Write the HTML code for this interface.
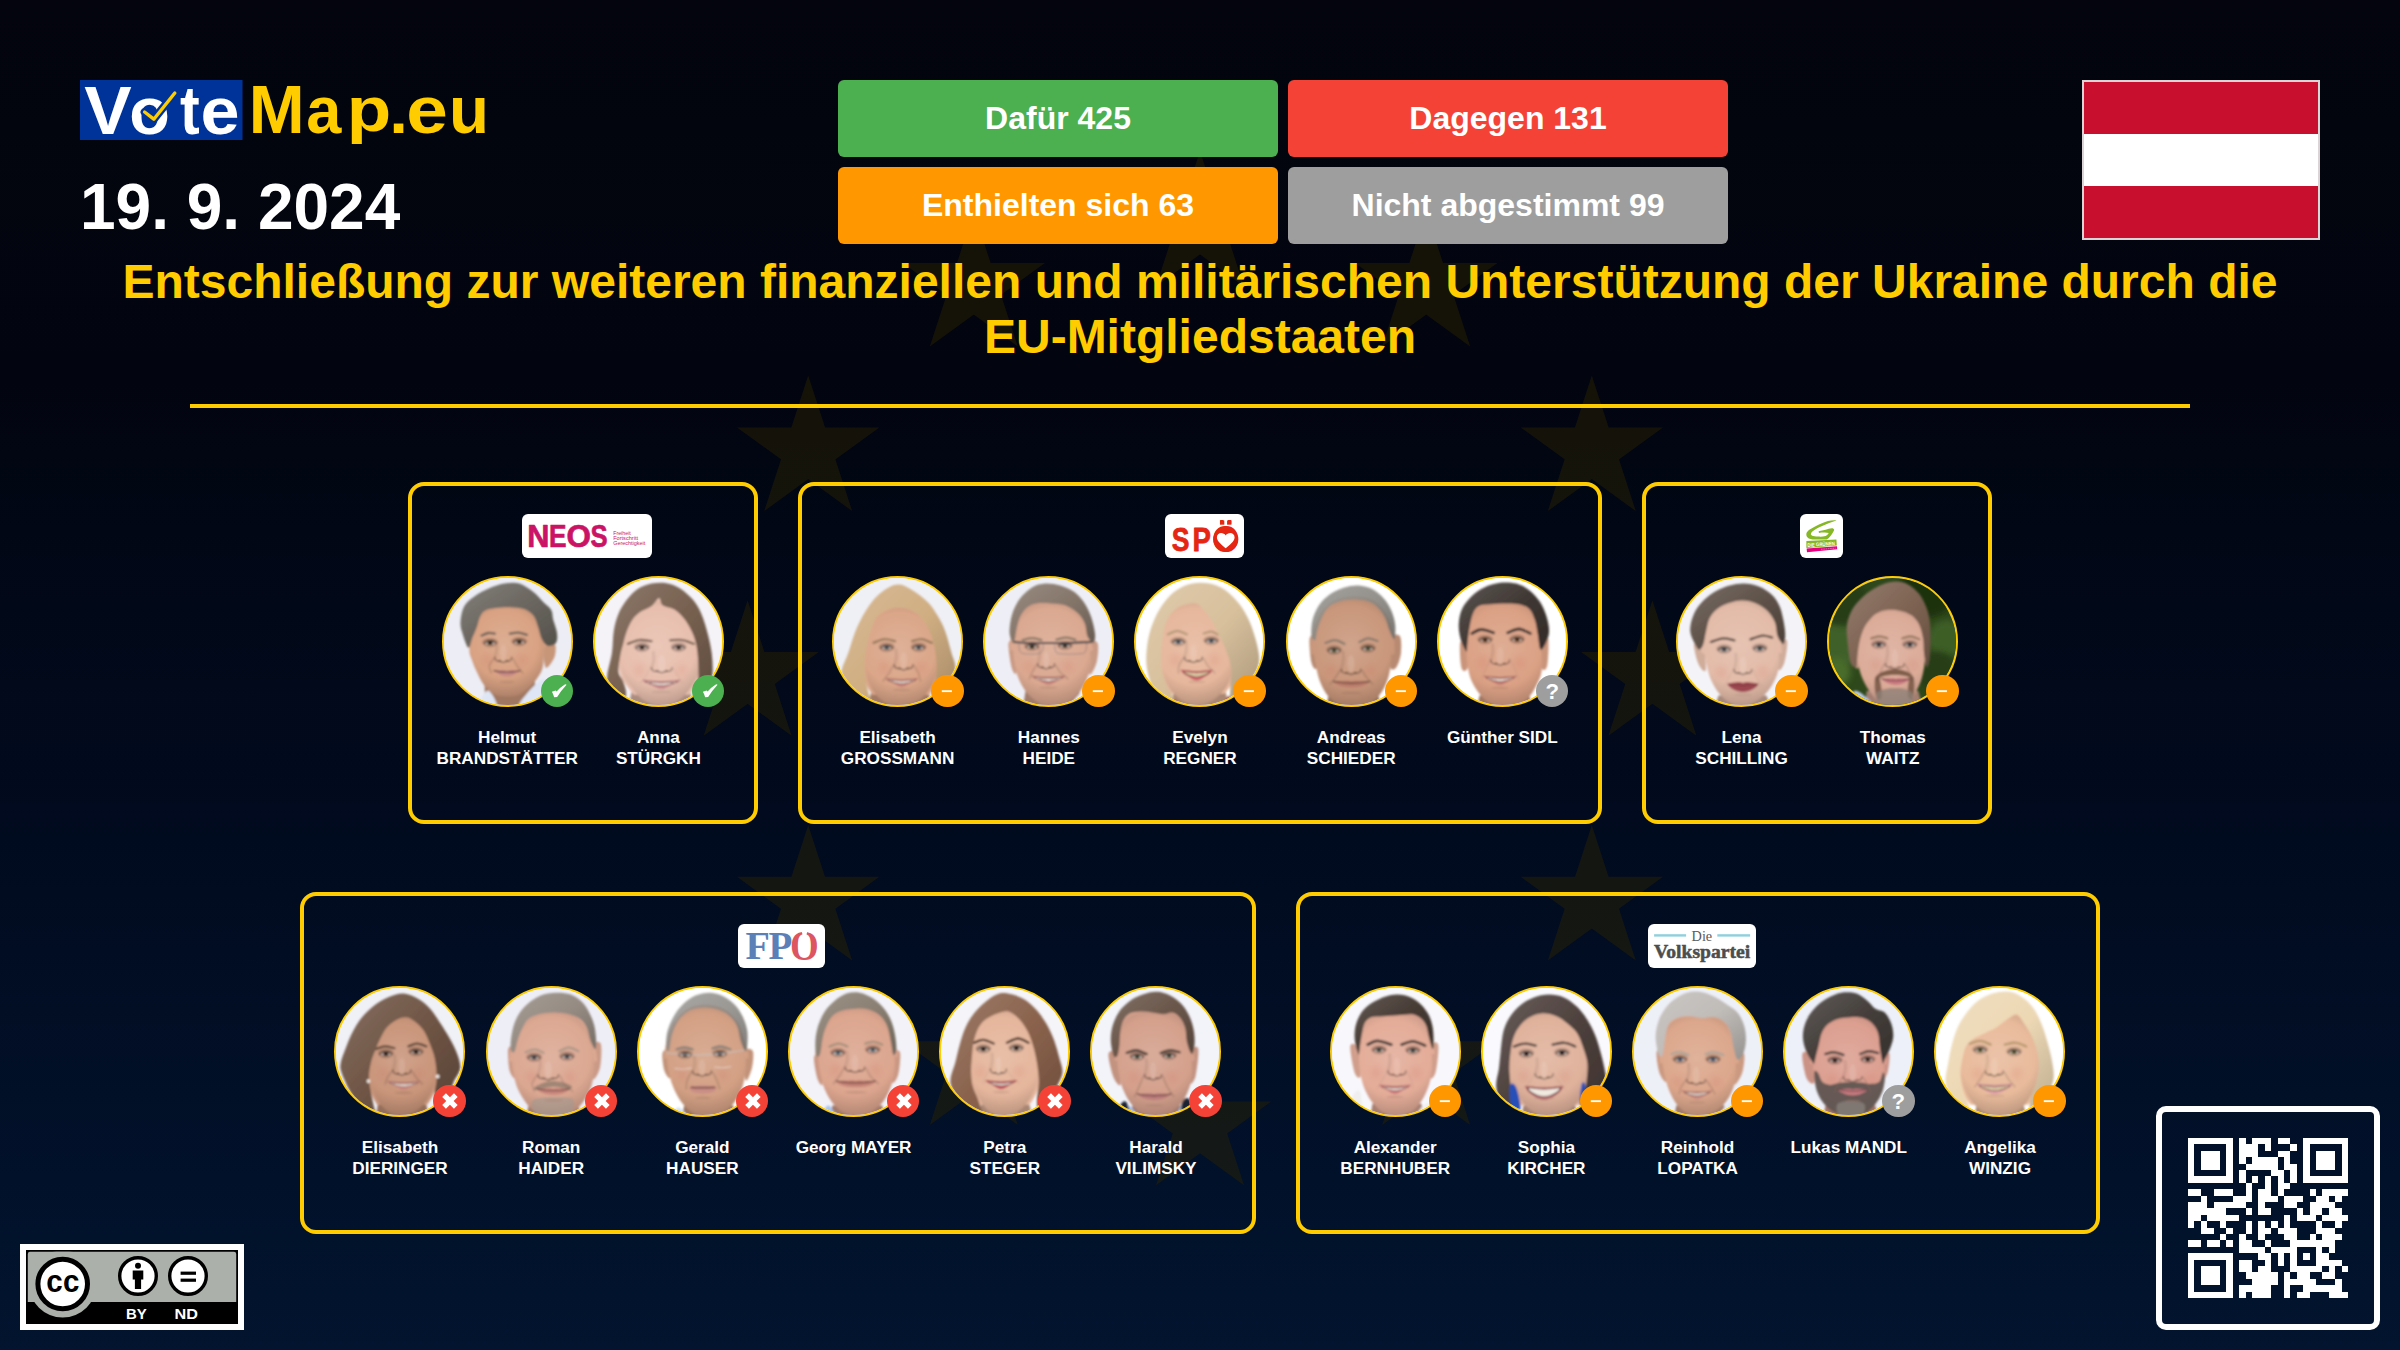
<!DOCTYPE html>
<html lang="de">
<head>
<meta charset="utf-8">
<title>VoteMap.eu – Entschließung zur weiteren finanziellen und militärischen Unterstützung der Ukraine</title>
<style>
*{box-sizing:border-box;margin:0;padding:0}
html,body{width:2400px;height:1350px;overflow:hidden}
body{position:relative;font-family:"Liberation Sans",Arial,sans-serif;color:#fff;
 background:linear-gradient(180deg,#03040d 0%,#020510 28%,#010b1f 62%,#02142f 100%);}
.abs{position:absolute}
#stars{position:absolute;left:0;top:0;width:2400px;height:1350px}
.date{position:absolute;left:80px;top:170px;font-size:64px;font-weight:700;line-height:74px;white-space:nowrap}
.btn{position:absolute;width:440px;height:77px;border-radius:6px;font-size:32px;font-weight:700;
 line-height:77px;text-align:center;color:#fff;white-space:nowrap}
.flag{position:absolute;left:2082px;top:80px;width:238px;height:160px;border:2px solid #dcd3d6;background:
 linear-gradient(180deg,#c8102e 0,#c8102e 33.4%,#fff 33.4%,#fff 66.6%,#c8102e 66.6%,#c8102e 100%)}
.title{position:absolute;left:0;top:254px;width:2400px;text-align:center;color:#ffcc00;font-weight:700;
 font-size:48px;line-height:55px}
.rule{position:absolute;left:190px;top:404px;width:2000px;height:4px;background:#ffcc00}
.card{position:absolute;height:342px;border:4px solid #ffcc00;border-radius:16px}
.plogo{position:absolute;top:27.7px;height:44.4px;background:#fff;border-radius:6px;overflow:hidden}
.plogo svg{display:block;margin-top:0.2px}
.mem{position:absolute;top:90px;width:151.2px;height:230px}
.photo{position:absolute;left:10.1px;top:-0.2px;width:131px;height:131px;border-radius:50%;border:2px solid #ffcc00;overflow:hidden;background:#eee}
.photo svg{display:block;width:127px;height:127px}
.badge{position:absolute;left:109px;top:98.8px;width:32.5px;height:32.5px;border-radius:50%}
.badge svg{display:block}
.name{position:absolute;left:-20px;width:191.2px;top:151px;text-align:center;font-weight:700;font-size:17.2px;line-height:21px;color:#fff;white-space:nowrap}
.ln{display:block}
.cc{position:absolute;left:20px;top:1244px;width:224px;height:86px;background:#fff;padding:6px}
.qr{position:absolute;left:2156px;top:1106px;width:224px;height:224px;border:6px solid #fff;border-radius:10px}
</style>
</head>
<body>
<svg id="stars" viewBox="0 0 2400 1350"><polygon points="1200.0,150.9 1244.0,286.4 1128.8,202.7 1271.2,202.7 1156.0,286.4" fill="#2c2300" fill-opacity="0.45" fill-rule="nonzero"/><polygon points="1426.2,211.1 1470.2,346.6 1355.0,262.9 1497.4,262.9 1382.2,346.6" fill="#2c2300" fill-opacity="0.45" fill-rule="nonzero"/><polygon points="1591.8,375.6 1635.8,511.1 1520.6,427.4 1663.0,427.4 1547.8,511.1" fill="#2c2300" fill-opacity="0.45" fill-rule="nonzero"/><polygon points="1652.4,600.3 1696.4,735.8 1581.2,652.1 1723.6,652.1 1608.4,735.8" fill="#2c2300" fill-opacity="0.45" fill-rule="nonzero"/><polygon points="1591.8,825.0 1635.8,960.5 1520.6,876.8 1663.0,876.8 1547.8,960.5" fill="#2c2300" fill-opacity="0.45" fill-rule="nonzero"/><polygon points="1426.2,989.5 1470.2,1125.0 1355.0,1041.2 1497.4,1041.2 1382.2,1125.0" fill="#2c2300" fill-opacity="0.45" fill-rule="nonzero"/><polygon points="1200.0,1049.7 1244.0,1185.2 1128.8,1101.5 1271.2,1101.5 1156.0,1185.2" fill="#2c2300" fill-opacity="0.45" fill-rule="nonzero"/><polygon points="973.8,989.5 1017.8,1125.0 902.6,1041.2 1045.0,1041.2 929.8,1125.0" fill="#2c2300" fill-opacity="0.45" fill-rule="nonzero"/><polygon points="808.2,825.0 852.2,960.5 737.0,876.8 879.4,876.8 764.2,960.5" fill="#2c2300" fill-opacity="0.45" fill-rule="nonzero"/><polygon points="747.6,600.3 791.6,735.8 676.4,652.1 818.8,652.1 703.6,735.8" fill="#2c2300" fill-opacity="0.45" fill-rule="nonzero"/><polygon points="808.2,375.6 852.2,511.1 737.0,427.4 879.4,427.4 764.2,511.1" fill="#2c2300" fill-opacity="0.45" fill-rule="nonzero"/><polygon points="973.8,211.1 1017.8,346.6 902.6,262.9 1045.0,262.9 929.8,346.6" fill="#2c2300" fill-opacity="0.45" fill-rule="nonzero"/></svg>
<svg class="abs" style="left:80px;top:80px" width="420" height="72" viewBox="0 0 420 72" role="img" aria-label="VoteMap.eu"><title>VoteMap.eu</title><rect x="0" y="0" width="162.5" height="60" fill="#003399"/><text transform="translate(4.37,53.80) scale(0.7111,0.6836)" font-family="Liberation Sans, Arial, sans-serif" font-weight="700" font-size="100" fill="#ffffff">V</text><text transform="translate(49.24,53.63) scale(0.6648,0.6740)" font-family="Liberation Sans, Arial, sans-serif" font-weight="700" font-size="100" fill="#ffffff">o</text><text transform="translate(100.06,53.78) scale(0.5919,0.6924)" font-family="Liberation Sans, Arial, sans-serif" font-weight="700" font-size="100" fill="#ffffff">t</text><text transform="translate(120.59,53.63) scale(0.7026,0.6740)" font-family="Liberation Sans, Arial, sans-serif" font-weight="700" font-size="100" fill="#ffffff">e</text><path d="M64.6 32 L73.8 39.2 L94.8 13" fill="none" stroke="#003399" stroke-width="8" stroke-linecap="round" stroke-linejoin="round"/><path d="M64.6 32 L73.8 39.2 L94.8 13" fill="none" stroke="#ffcc00" stroke-width="3.4" stroke-linecap="round" stroke-linejoin="round"/><text transform="translate(168.67,53.30) scale(0.6710,0.6764)" font-family="Liberation Sans, Arial, sans-serif" font-weight="700" font-size="100" fill="#ffcc00">M</text><text transform="translate(226.31,53.23) scale(0.6310,0.6703)" font-family="Liberation Sans, Arial, sans-serif" font-weight="700" font-size="100" fill="#ffcc00">a</text><text transform="translate(266.66,50.86) scale(0.7287,0.6234)" font-family="Liberation Sans, Arial, sans-serif" font-weight="700" font-size="100" fill="#ffcc00">p</text><text transform="translate(309.35,53.30) scale(0.6737,0.6200)" font-family="Liberation Sans, Arial, sans-serif" font-weight="700" font-size="100" fill="#ffcc00">.</text><text transform="translate(326.21,53.23) scale(0.7482,0.6703)" font-family="Liberation Sans, Arial, sans-serif" font-weight="700" font-size="100" fill="#ffcc00">e</text><text transform="translate(368.91,53.23) scale(0.6549,0.6698)" font-family="Liberation Sans, Arial, sans-serif" font-weight="700" font-size="100" fill="#ffcc00">u</text></svg>
<div class="date">19. 9. 2024</div>
<div class="btn" style="left:838px;top:80px;background:#4caf50">Dafür 425</div>
<div class="btn" style="left:1288px;top:80px;background:#f44336">Dagegen 131</div>
<div class="btn" style="left:838px;top:167px;background:#ff9800">Enthielten sich 63</div>
<div class="btn" style="left:1288px;top:167px;background:#9e9e9e">Nicht abgestimmt 99</div>
<div class="flag"></div>
<div class="title">Entschließung zur weiteren finanziellen und militärischen Unterstützung der Ukraine durch die<br>EU-Mitgliedstaaten</div>
<div class="rule"></div>
<div class="card" style="left:407.6px;top:482px;width:350.4px"><div class="plogo" style="left:110.2px;width:130px"><svg width="130" height="44" viewBox="0 0 130 44" role="img" aria-label="NEOS"><title>NEOS – Freiheit Fortschritt Gerechtigkeit</title><text transform="translate(5.33,32.90) scale(0.3064,0.3113)" font-family="Liberation Sans, Arial, sans-serif" font-weight="700" font-size="100" fill="#cb1366" stroke="#cb1366" stroke-width="2.2" stroke-linejoin="round">N</text><text transform="translate(27.03,32.90) scale(0.2625,0.3113)" font-family="Liberation Sans, Arial, sans-serif" font-weight="700" font-size="100" fill="#cb1366" stroke="#cb1366" stroke-width="2.2" stroke-linejoin="round">E</text><text transform="translate(44.45,32.89) scale(0.3137,0.3110)" font-family="Liberation Sans, Arial, sans-serif" font-weight="700" font-size="100" fill="#cb1366" stroke="#cb1366" stroke-width="2.2" stroke-linejoin="round">O</text><text transform="translate(68.43,32.89) scale(0.2561,0.3110)" font-family="Liberation Sans, Arial, sans-serif" font-weight="700" font-size="100" fill="#cb1366" stroke="#cb1366" stroke-width="2.2" stroke-linejoin="round">S</text><g font-family="Liberation Sans, Arial, sans-serif" font-size="5.3" fill="#cb1366"><text x="91.2" y="21.4" textLength="17.6" lengthAdjust="spacingAndGlyphs">Freiheit</text><text x="91.2" y="26.4" textLength="24.8" lengthAdjust="spacingAndGlyphs">Fortschritt</text><text x="91.2" y="31.4" textLength="32.1" lengthAdjust="spacingAndGlyphs">Gerechtigkeit</text></g></svg></div><div class="mem" style="left:20.0px"><div class="photo"><svg viewBox="0 0 127 127" width="127" height="127"><defs><filter id="f1b" x="-10%" y="-10%" width="120%" height="120%"><feGaussianBlur stdDeviation="0.85"/></filter><filter id="f1c" x="-30%" y="-30%" width="160%" height="160%"><feGaussianBlur stdDeviation="3"/></filter><radialGradient id="f1g" gradientUnits="userSpaceOnUse" cx="60.6" cy="65.4" r="56.0"><stop offset="0" stop-color="#ddae93"/><stop offset="0.6" stop-color="#d9a283"/><stop offset="1" stop-color="#a97e66"/></radialGradient><linearGradient id="f1h" x1="0" y1="0" x2="1" y2="1"><stop offset="0" stop-color="#827f79"/><stop offset="0.5" stop-color="#6b6760"/><stop offset="1" stop-color="#53504a"/></linearGradient></defs><rect width="127" height="127" fill="#ecedf5"/><g filter="url(#f1b)"><path d="M40.5 103.5 L90.3 101.6 L95.0 129.8 L41.4 129.8Z" fill="#a07760"/><path d="M31.0 129.8C28.5 128.1 35.3 122.3 37.6 119.5C40.0 116.7 42.6 111.2 45.2 112.9C47.7 114.6 55.0 127.0 52.7 129.8C50.3 132.6 33.6 131.5 31.0 129.8Z" fill="#dfe6f5"/><path d="M75.3 129.8C72.4 127.5 78.9 120.4 82.8 115.7C86.7 111.0 95.2 102.1 98.8 101.6C102.4 101.1 104.3 108.2 104.4 112.9C104.6 117.6 104.6 127.0 99.7 129.8C94.9 132.6 78.1 132.2 75.3 129.8Z" fill="#dfe6f5"/><path d="M99.7 67.7C100.5 63.7 104.3 64.9 106.3 64.9C108.3 64.9 110.9 65.2 111.5 67.7C112.1 70.2 111.7 76.4 110.1 80.0C108.4 83.6 103.3 91.4 101.6 89.4C99.9 87.3 98.9 71.8 99.7 67.7Z" fill="#c79578"/><clipPath id="f1k"><rect x="0" y="0" width="127" height="68.7"/></clipPath><path d="M65.9 28.2C71.3 28.7 79.8 28.5 84.7 32.0C89.5 35.4 92.5 43.0 95.0 48.9C97.5 54.9 99.1 61.1 99.7 67.7C100.3 74.3 99.7 83.3 98.8 88.4C97.8 93.6 96.1 95.5 94.1 98.8C92.0 102.1 89.7 105.2 86.5 108.2C83.4 111.2 79.5 114.9 75.3 116.7C71.0 118.4 65.5 118.7 61.1 118.5C56.8 118.4 52.5 117.7 48.9 115.7C45.3 113.7 42.2 109.9 39.5 106.3C36.8 102.7 34.8 98.0 32.9 94.1C31.0 90.2 29.5 86.7 28.2 82.8C27.0 78.9 24.9 76.2 25.4 70.6C25.9 64.9 28.7 55.0 31.0 48.9C33.4 42.8 36.1 37.2 39.5 33.9C43.0 30.6 47.4 30.1 51.7 29.2C56.1 28.2 60.4 27.8 65.9 28.2Z" fill="#d9a283" stroke="#d9a283" stroke-width="6" stroke-linejoin="round" clip-path="url(#f1k)"/><path d="M65.9 28.2C71.3 28.7 79.8 28.5 84.7 32.0C89.5 35.4 92.5 43.0 95.0 48.9C97.5 54.9 99.1 61.1 99.7 67.7C100.3 74.3 99.7 83.3 98.8 88.4C97.8 93.6 96.1 95.5 94.1 98.8C92.0 102.1 89.7 105.2 86.5 108.2C83.4 111.2 79.5 114.9 75.3 116.7C71.0 118.4 65.5 118.7 61.1 118.5C56.8 118.4 52.5 117.7 48.9 115.7C45.3 113.7 42.2 109.9 39.5 106.3C36.8 102.7 34.8 98.0 32.9 94.1C31.0 90.2 29.5 86.7 28.2 82.8C27.0 78.9 24.9 76.2 25.4 70.6C25.9 64.9 28.7 55.0 31.0 48.9C33.4 42.8 36.1 37.2 39.5 33.9C43.0 30.6 47.4 30.1 51.7 29.2C56.1 28.2 60.4 27.8 65.9 28.2Z" fill="url(#f1g)"/><ellipse cx="43.3" cy="81.8" rx="5.6" ry="6.6" fill="#d59076" fill-opacity="0.45" filter="url(#f1c)"/><ellipse cx="78.1" cy="81.8" rx="5.6" ry="6.6" fill="#d59076" fill-opacity="0.45" filter="url(#f1c)"/><ellipse cx="46.1" cy="64.2" rx="7.9" ry="4.3" fill="#97715b" fill-opacity="0.7"/><ellipse cx="46.1" cy="64.9" rx="4.7" ry="1.6" fill="#e9dcd6"/><ellipse cx="46.1" cy="64.9" rx="2.8" ry="2.1" fill="#4a382c"/><circle cx="46.1" cy="64.9" r="1.0" fill="#1c1412"/><path d="M40.5 65.3C41.0 64.9 42.7 63.3 44.0 62.9C45.4 62.6 47.2 62.7 48.4 63.0C49.7 63.4 51.2 64.8 51.7 65.1" fill="none" stroke="#3c2d24" stroke-width="1.4" stroke-linecap="round" stroke-opacity="0.85"/><path d="M40.9 67.7C41.8 68.0 44.4 69.1 46.1 69.1C47.8 69.0 50.4 67.8 51.3 67.5" fill="none" stroke="#8d6955" stroke-width="0.8" stroke-linecap="round" stroke-opacity="0.45"/><ellipse cx="75.3" cy="63.2" rx="7.9" ry="4.3" fill="#97715b" fill-opacity="0.7"/><ellipse cx="75.3" cy="64.0" rx="4.7" ry="1.6" fill="#e9dcd6"/><ellipse cx="75.3" cy="64.0" rx="2.8" ry="2.1" fill="#4a382c"/><circle cx="75.3" cy="64.0" r="1.0" fill="#1c1412"/><path d="M69.6 64.3C70.2 64.0 71.9 62.4 73.2 62.0C74.5 61.6 76.3 61.7 77.6 62.1C78.9 62.4 80.4 63.8 80.9 64.2" fill="none" stroke="#3c2d24" stroke-width="1.4" stroke-linecap="round" stroke-opacity="0.85"/><path d="M70.1 66.8C70.9 67.0 73.5 68.1 75.3 68.1C77.0 68.1 79.6 66.9 80.4 66.6" fill="none" stroke="#8d6955" stroke-width="0.8" stroke-linecap="round" stroke-opacity="0.45"/><path d="M37.6 57.6C38.7 57.1 42.0 55.3 44.2 55.0C46.4 54.7 49.7 55.6 50.8 55.7" fill="none" stroke="#6e6258" stroke-width="2.3" stroke-linecap="round"/><path d="M65.9 55.7C67.3 55.5 71.5 54.4 74.3 54.6C77.1 54.8 81.4 56.5 82.8 56.9" fill="none" stroke="#6e6258" stroke-width="2.3" stroke-linecap="round"/><ellipse cx="59.3" cy="75.3" rx="3.0" ry="8.9" fill="#e4bda8" fill-opacity="0.5"/><path d="M52.5 64.0C52.5 65.2 52.9 68.8 52.7 71.5C52.4 74.2 51.1 78.8 50.8 80.2" fill="none" stroke="#97715b" stroke-width="3.2" stroke-linecap="round" stroke-opacity="0.22"/><path d="M50.8 79.3C51.0 79.8 51.2 81.8 52.1 82.5C53.0 83.2 55.1 82.9 56.3 83.3C57.5 83.6 58.3 84.4 59.3 84.4C60.3 84.4 61.0 83.6 62.2 83.3C63.4 82.9 65.5 83.2 66.5 82.5C67.4 81.8 67.5 79.8 67.7 79.3" fill="none" stroke="#775948" stroke-width="1.4" stroke-linecap="round" stroke-opacity="0.8"/><ellipse cx="55.5" cy="82.9" rx="1.6" ry="0.8" fill="#564034" fill-opacity="0.8"/><ellipse cx="63.1" cy="82.9" rx="1.6" ry="0.8" fill="#564034" fill-opacity="0.8"/><path d="M49.5 80.7C48.8 81.9 45.7 85.7 45.3 88.1C44.9 90.5 46.9 93.9 47.2 95.0" fill="none" stroke="#866451" stroke-width="1.9" stroke-linecap="round" stroke-opacity="0.30"/><path d="M69.0 80.7C69.7 81.9 71.6 85.7 73.2 88.1C74.9 90.5 77.9 93.9 78.8 95.0" fill="none" stroke="#866451" stroke-width="1.9" stroke-linecap="round" stroke-opacity="0.30"/><path d="M50.8 93.1C51.3 92.3 57.2 91.9 59.3 91.8C61.3 91.7 61.8 92.6 63.0 92.6C64.3 92.6 64.8 91.7 66.8 91.8C68.8 91.9 74.8 92.3 75.3 93.1C75.7 94.0 71.7 96.0 69.6 96.9C67.6 97.8 65.2 98.6 63.0 98.6C60.8 98.6 58.5 97.8 56.4 96.9C54.4 96.0 50.3 94.0 50.8 93.1Z" fill="#c48682" fill-opacity="0.85"/><path d="M49.9 92.6C51.0 92.8 54.7 93.6 56.9 93.9C59.1 94.2 61.0 94.3 63.0 94.3C65.1 94.3 66.9 94.2 69.1 93.9C71.3 93.6 75.0 92.8 76.2 92.6" fill="none" stroke="#624341" stroke-width="1.1" stroke-linecap="round"/><ellipse cx="63.0" cy="104.0" rx="7.3" ry="1.3" fill="#a27962" fill-opacity="0.35"/><path d="M16.5 44.2C16.7 39.5 17.8 32.6 20.2 28.2C22.7 23.8 26.9 20.9 31.0 17.9C35.2 14.9 40.3 12.4 45.2 10.3C50.0 8.3 55.2 6.4 60.2 5.6C65.2 4.9 70.4 4.2 75.3 5.6C80.1 7.1 85.3 11.0 89.4 14.1C93.4 17.2 96.7 21.5 99.7 24.5C102.7 27.4 105.7 29.2 107.2 32.0C108.8 34.8 108.2 37.6 109.1 41.4C110.1 45.2 112.4 50.6 112.9 54.6C113.4 58.5 113.5 62.7 111.9 64.9C110.4 67.1 105.8 68.4 103.5 67.7C101.1 67.1 99.4 64.3 97.8 61.1C96.3 58.0 95.5 52.8 94.1 48.9C92.7 45.0 91.7 40.6 89.4 37.6C87.0 34.7 83.9 32.5 80.0 31.0C76.0 29.6 70.6 29.3 65.9 29.2C61.1 29.0 56.0 29.5 51.7 30.1C47.5 30.7 43.1 31.4 40.5 32.9C37.8 34.5 37.0 36.8 35.7 39.5C34.5 42.2 34.2 45.5 32.9 48.9C31.7 52.4 29.6 56.8 28.2 60.2C26.8 63.7 26.0 70.2 24.5 69.6C22.9 69.0 20.1 60.7 18.8 56.4C17.5 52.2 16.2 48.9 16.5 44.2Z" fill="url(#f1h)" fill-opacity="1.00"/></g></svg></div><div class="badge" style="background:#4caf50"><svg width="32.5" height="32.5" viewBox="0 0 32.5 32.5"><path d="M10.9 16.7 L14.65 15.45 L15.6 16.6 Q19.4 12.1 24.1 9.2 L25.6 9.85 Q20.4 15.4 16.15 21.95 L13.15 22.25 Q12.4 19.2 10.9 16.7 Z" fill="#fff"/></svg></div><div class="name">Helmut <span class="ln">BRANDSTÄTTER</span></div></div><div class="mem" style="left:171.2px"><div class="photo"><svg viewBox="0 0 127 127" width="127" height="127"><defs><filter id="f2b" x="-10%" y="-10%" width="120%" height="120%"><feGaussianBlur stdDeviation="0.85"/></filter><filter id="f2c" x="-30%" y="-30%" width="160%" height="160%"><feGaussianBlur stdDeviation="3"/></filter><radialGradient id="f2g" gradientUnits="userSpaceOnUse" cx="62.4" cy="67.7" r="64.7"><stop offset="0" stop-color="#eac7b8"/><stop offset="0.6" stop-color="#e8bfae"/><stop offset="1" stop-color="#b49487"/></radialGradient><linearGradient id="f2h" x1="0" y1="0" x2="1" y2="1"><stop offset="0" stop-color="#8c796b"/><stop offset="0.5" stop-color="#77604f"/><stop offset="1" stop-color="#5c4a3d"/></linearGradient></defs><rect width="127" height="127" fill="#f5f3f8"/><g filter="url(#f2b)"><path d="M37.6 108.2 L94.1 108.2 L98.8 131.7 L32.9 131.7Z" fill="#ab8d80"/><clipPath id="f2k"><rect x="0" y="0" width="127" height="116.7"/></clipPath><path d="M64.0 23.5C68.5 23.8 75.6 27.9 80.0 31.0C84.4 34.2 87.2 37.8 90.3 42.3C93.4 46.9 96.6 52.8 98.8 58.3C101.0 63.8 102.7 69.3 103.5 75.3C104.3 81.2 104.6 88.6 103.5 94.1C102.4 99.6 100.0 103.6 96.9 108.2C93.8 112.7 89.5 118.1 84.7 121.4C79.8 124.6 73.7 127.8 67.7 127.9C61.8 128.1 54.2 125.6 48.9 122.3C43.6 119.0 39.2 112.6 35.7 108.2C32.3 103.8 29.9 101.4 28.2 96.0C26.5 90.5 24.8 82.5 25.4 75.3C26.0 68.0 29.5 59.0 32.0 52.7C34.5 46.4 37.0 41.5 40.5 37.6C43.9 33.7 48.8 31.5 52.7 29.2C56.6 26.8 59.4 23.2 64.0 23.5Z" fill="#e8bfae" stroke="#e8bfae" stroke-width="6" stroke-linejoin="round" clip-path="url(#f2k)"/><path d="M64.0 23.5C68.5 23.8 75.6 27.9 80.0 31.0C84.4 34.2 87.2 37.8 90.3 42.3C93.4 46.9 96.6 52.8 98.8 58.3C101.0 63.8 102.7 69.3 103.5 75.3C104.3 81.2 104.6 88.6 103.5 94.1C102.4 99.6 100.0 103.6 96.9 108.2C93.8 112.7 89.5 118.1 84.7 121.4C79.8 124.6 73.7 127.8 67.7 127.9C61.8 128.1 54.2 125.6 48.9 122.3C43.6 119.0 39.2 112.6 35.7 108.2C32.3 103.8 29.9 101.4 28.2 96.0C26.5 90.5 24.8 82.5 25.4 75.3C26.0 68.0 29.5 59.0 32.0 52.7C34.5 46.4 37.0 41.5 40.5 37.6C43.9 33.7 48.8 31.5 52.7 29.2C56.6 26.8 59.4 23.2 64.0 23.5Z" fill="url(#f2g)"/><ellipse cx="44.2" cy="92.2" rx="5.6" ry="6.6" fill="#dfa392" fill-opacity="0.45" filter="url(#f2c)"/><ellipse cx="86.5" cy="92.2" rx="5.6" ry="6.6" fill="#dfa392" fill-opacity="0.45" filter="url(#f2c)"/><ellipse cx="47.0" cy="68.9" rx="7.9" ry="4.3" fill="#a28579" fill-opacity="0.7"/><ellipse cx="47.0" cy="69.6" rx="4.7" ry="1.6" fill="#e9dcd6"/><ellipse cx="47.0" cy="69.6" rx="2.8" ry="2.1" fill="#4a3a30"/><circle cx="47.0" cy="69.6" r="1.0" fill="#1c1412"/><path d="M41.4 70.0C42.0 69.6 43.6 68.0 45.0 67.6C46.3 67.3 48.1 67.4 49.4 67.7C50.7 68.1 52.1 69.5 52.7 69.8" fill="none" stroke="#403530" stroke-width="1.4" stroke-linecap="round" stroke-opacity="0.85"/><path d="M41.9 72.4C42.7 72.7 45.3 73.8 47.0 73.8C48.8 73.7 51.3 72.5 52.2 72.2" fill="none" stroke="#967c71" stroke-width="0.8" stroke-linecap="round" stroke-opacity="0.45"/><ellipse cx="83.7" cy="68.9" rx="7.9" ry="4.3" fill="#a28579" fill-opacity="0.7"/><ellipse cx="83.7" cy="69.6" rx="4.7" ry="1.6" fill="#e9dcd6"/><ellipse cx="83.7" cy="69.6" rx="2.8" ry="2.1" fill="#4a3a30"/><circle cx="83.7" cy="69.6" r="1.0" fill="#1c1412"/><path d="M78.1 70.0C78.7 69.6 80.3 68.0 81.7 67.6C83.0 67.3 84.8 67.4 86.1 67.7C87.4 68.1 88.8 69.5 89.4 69.8" fill="none" stroke="#403530" stroke-width="1.4" stroke-linecap="round" stroke-opacity="0.85"/><path d="M78.6 72.4C79.4 72.7 82.0 73.8 83.7 73.8C85.5 73.7 88.0 72.5 88.9 72.2" fill="none" stroke="#967c71" stroke-width="0.8" stroke-linecap="round" stroke-opacity="0.45"/><path d="M32.9 65.9C34.8 65.2 40.3 62.5 44.2 62.1C48.1 61.6 54.4 63.0 56.4 63.2" fill="none" stroke="#7a6252" stroke-width="2.3" stroke-linecap="round"/><path d="M75.3 62.3C77.3 62.2 83.6 61.5 87.5 62.1C91.4 62.7 96.9 65.2 98.8 65.9" fill="none" stroke="#7a6252" stroke-width="2.3" stroke-linecap="round"/><ellipse cx="66.8" cy="85.6" rx="3.7" ry="8.9" fill="#eed2c6" fill-opacity="0.5"/><path d="M58.5 74.3C58.5 75.6 59.1 79.1 58.7 81.8C58.4 84.5 56.8 89.1 56.4 90.5" fill="none" stroke="#a28579" stroke-width="3.2" stroke-linecap="round" stroke-opacity="0.22"/><path d="M56.4 89.6C56.7 90.1 56.9 92.1 58.0 92.8C59.1 93.4 61.7 93.2 63.2 93.5C64.6 93.8 65.6 94.6 66.8 94.6C68.0 94.6 68.9 93.8 70.4 93.5C71.9 93.2 74.5 93.4 75.6 92.8C76.7 92.1 76.9 90.1 77.1 89.6" fill="none" stroke="#7f695f" stroke-width="1.4" stroke-linecap="round" stroke-opacity="0.8"/><ellipse cx="62.1" cy="93.1" rx="1.6" ry="0.8" fill="#5c4c45" fill-opacity="0.8"/><ellipse cx="71.4" cy="93.1" rx="1.6" ry="0.8" fill="#5c4c45" fill-opacity="0.8"/><path d="M54.9 91.0C54.2 92.2 52.3 95.8 50.7 98.2C49.1 100.5 46.2 103.8 45.3 104.9" fill="none" stroke="#8f766b" stroke-width="1.9" stroke-linecap="round" stroke-opacity="0.07"/><path d="M78.7 91.0C79.4 92.2 81.5 95.8 82.9 98.2C84.4 100.5 86.6 103.8 87.3 104.9" fill="none" stroke="#8f766b" stroke-width="1.9" stroke-linecap="round" stroke-opacity="0.07"/><path d="M48.9 103.0C50.8 102.7 60.5 104.3 66.3 104.3C72.1 104.3 81.9 102.7 83.7 103.0C85.6 103.4 80.4 105.1 77.5 106.4C74.6 107.7 70.0 110.8 66.3 110.8C62.6 110.8 58.1 107.7 55.2 106.4C52.3 105.1 47.1 103.4 48.9 103.0Z" fill="#c9888a"/><path d="M50.0 103.8C51.8 103.6 60.9 104.9 66.3 104.9C71.7 104.9 80.9 103.6 82.6 103.8C84.3 104.0 79.5 105.4 76.8 106.0C74.1 106.7 69.8 107.7 66.3 107.7C62.8 107.7 58.6 106.7 55.9 106.0C53.2 105.4 48.3 104.0 50.0 103.8Z" fill="#5a2c2a"/><path d="M51.4 104.1C52.8 104.0 61.3 105.3 66.3 105.3C71.3 105.3 79.8 104.0 81.3 104.1C82.7 104.2 77.5 105.4 75.0 105.9C72.5 106.4 69.2 107.2 66.3 107.2C63.4 107.2 60.1 106.4 57.6 105.9C55.1 105.4 49.9 104.2 51.4 104.1Z" fill="#efe8de"/><path d="M48.2 102.4C49.7 102.6 54.6 103.2 57.6 103.4C60.6 103.6 63.4 103.8 66.3 103.8C69.2 103.8 72.0 103.6 75.0 103.4C78.1 103.2 82.9 102.6 84.5 102.4" fill="none" stroke="#b07779" stroke-width="1.4" stroke-linecap="round"/><ellipse cx="66.3" cy="113.8" rx="10.4" ry="1.3" fill="#ae8f82" fill-opacity="0.35"/><path d="M23.5 131.7C20.7 130.9 16.0 118.5 14.1 112.9C12.2 107.2 11.8 104.1 12.2 97.8C12.7 91.6 15.8 82.8 16.9 75.3C18.0 67.7 17.7 59.3 18.8 52.7C19.9 46.1 21.3 40.9 23.5 35.7C25.7 30.6 28.8 25.7 32.0 21.6C35.1 17.6 38.3 14.0 42.3 11.3C46.4 8.6 51.6 6.7 56.4 5.6C61.3 4.6 66.8 4.4 71.5 5.2C76.2 6.0 80.3 7.6 84.7 10.3C89.1 13.1 94.2 17.4 97.8 21.6C101.4 25.9 103.8 29.9 106.3 35.7C108.8 41.5 111.2 49.9 112.9 56.4C114.6 63.0 115.9 69.0 116.7 75.3C117.4 81.5 117.9 87.8 117.6 94.1C117.3 100.3 116.8 106.6 114.8 112.9C112.7 119.2 107.4 131.7 105.4 131.7C103.3 131.7 102.9 118.5 102.5 112.9C102.2 107.2 103.5 104.1 103.5 97.8C103.5 91.6 103.3 81.8 102.5 75.3C101.8 68.7 100.8 63.8 98.8 58.3C96.7 52.8 93.4 46.7 90.3 42.3C87.2 37.9 83.7 34.5 80.0 32.0C76.2 29.5 70.4 29.2 67.7 27.3C65.1 25.3 65.9 20.1 64.0 20.2C62.1 20.4 59.6 25.9 56.4 28.2C53.3 30.5 48.3 31.7 45.2 33.9C42.0 36.1 39.8 38.3 37.6 41.4C35.4 44.5 33.6 48.6 32.0 52.7C30.4 56.8 29.3 61.8 28.2 65.9C27.1 69.9 26.2 72.4 25.4 77.1C24.6 81.8 23.0 89.7 23.5 94.1C24.0 98.5 27.0 99.6 28.2 103.5C29.5 107.4 31.8 112.9 31.0 117.6C30.3 122.3 26.3 132.5 23.5 131.7Z" fill="url(#f2h)" fill-opacity="1.00"/></g></svg></div><div class="badge" style="background:#4caf50"><svg width="32.5" height="32.5" viewBox="0 0 32.5 32.5"><path d="M10.9 16.7 L14.65 15.45 L15.6 16.6 Q19.4 12.1 24.1 9.2 L25.6 9.85 Q20.4 15.4 16.15 21.95 L13.15 22.25 Q12.4 19.2 10.9 16.7 Z" fill="#fff"/></svg></div><div class="name">Anna <span class="ln">STÜRGKH</span></div></div></div>
<div class="card" style="left:798.0px;top:482px;width:804.0px"><div class="plogo" style="left:362.5px;width:79px"><svg width="79" height="44" viewBox="0 0 79 44" role="img" aria-label="SPÖ"><title>SPÖ</title><text transform="translate(6.75,36.67) scale(0.2653,0.3279)" font-family="Liberation Sans, Arial, sans-serif" font-weight="700" font-size="100" fill="#e42613" stroke="#e42613" stroke-width="2.4" stroke-linejoin="round">S</text><text transform="translate(27.44,36.80) scale(0.2761,0.3244)" font-family="Liberation Sans, Arial, sans-serif" font-weight="700" font-size="100" fill="#e42613" stroke="#e42613" stroke-width="2.4" stroke-linejoin="round">P</text><text transform="translate(47.21,37.83) scale(0.3482,0.3672)" font-family="Liberation Sans, Arial, sans-serif" font-weight="700" font-size="100" fill="#e42613">Ö</text><circle cx="60.7" cy="25.2" r="12.6" fill="#e42613"/><rect x="55" y="6.6" width="4.3" height="4.1" fill="#e42613"/><rect x="62.1" y="6.6" width="4.3" height="4.1" fill="#e42613"/><path d="M60.7 34.2 C57.6 31.2 51.9 27.6 51.9 23.4 C51.9 20.8 53.9 19.1 56.1 19.1 C58 19.1 59.6 20 60.7 21.4 C61.8 20 63.4 19.1 65.3 19.1 C67.5 19.1 69.6 20.8 69.6 23.4 C69.6 27.6 63.8 31.2 60.7 34.2 Z" fill="#fff"/></svg></div><div class="mem" style="left:20.0px"><div class="photo"><svg viewBox="0 0 127 127" width="127" height="127"><defs><filter id="f3b" x="-10%" y="-10%" width="120%" height="120%"><feGaussianBlur stdDeviation="0.85"/></filter><filter id="f3c" x="-30%" y="-30%" width="160%" height="160%"><feGaussianBlur stdDeviation="3"/></filter><radialGradient id="f3g" gradientUnits="userSpaceOnUse" cx="65.0" cy="71.0" r="60.7"><stop offset="0" stop-color="#dfb198"/><stop offset="0.6" stop-color="#dba689"/><stop offset="1" stop-color="#aa816a"/></radialGradient><linearGradient id="f3h" x1="0" y1="0" x2="1" y2="1"><stop offset="0" stop-color="#d7ba96"/><stop offset="0.5" stop-color="#d0ae82"/><stop offset="1" stop-color="#a28765"/></linearGradient></defs><rect width="127" height="127" fill="#eff0f6"/><g filter="url(#f3b)"><path d="M37.6 112.9 L94.1 112.9 L98.8 131.7 L32.9 131.7Z" fill="#a27a65"/><clipPath id="f3k"><rect x="0" y="0" width="127" height="116.7"/></clipPath><path d="M60.2 30.1C65.1 28.7 69.3 29.8 73.4 31.0C77.5 32.3 81.2 34.3 84.7 37.6C88.1 40.9 91.6 46.1 94.1 50.8C96.6 55.5 98.3 60.2 99.7 65.9C101.1 71.5 102.4 78.7 102.5 84.7C102.7 90.6 102.4 96.4 100.7 101.6C98.9 106.8 95.6 111.8 92.2 115.7C88.7 119.6 84.4 123.1 80.0 125.1C75.6 127.2 70.6 127.9 65.9 127.9C61.1 127.9 56.0 127.3 51.7 125.1C47.5 122.9 43.4 118.7 40.5 114.8C37.5 110.9 35.4 106.6 33.9 101.6C32.4 96.6 31.7 90.6 31.5 84.7C31.4 78.7 31.9 71.5 32.9 65.9C33.9 60.2 35.7 55.2 37.6 50.8C39.5 46.4 40.5 43.0 44.2 39.5C48.0 36.1 55.3 31.5 60.2 30.1Z" fill="#dba689" stroke="#dba689" stroke-width="6" stroke-linejoin="round" clip-path="url(#f3k)"/><path d="M60.2 30.1C65.1 28.7 69.3 29.8 73.4 31.0C77.5 32.3 81.2 34.3 84.7 37.6C88.1 40.9 91.6 46.1 94.1 50.8C96.6 55.5 98.3 60.2 99.7 65.9C101.1 71.5 102.4 78.7 102.5 84.7C102.7 90.6 102.4 96.4 100.7 101.6C98.9 106.8 95.6 111.8 92.2 115.7C88.7 119.6 84.4 123.1 80.0 125.1C75.6 127.2 70.6 127.9 65.9 127.9C61.1 127.9 56.0 127.3 51.7 125.1C47.5 122.9 43.4 118.7 40.5 114.8C37.5 110.9 35.4 106.6 33.9 101.6C32.4 96.6 31.7 90.6 31.5 84.7C31.4 78.7 31.9 71.5 32.9 65.9C33.9 60.2 35.7 55.2 37.6 50.8C39.5 46.4 40.5 43.0 44.2 39.5C48.0 36.1 55.3 31.5 60.2 30.1Z" fill="url(#f3g)"/><ellipse cx="49.9" cy="89.4" rx="5.6" ry="6.6" fill="#d7937a" fill-opacity="0.45" filter="url(#f3c)"/><ellipse cx="87.5" cy="89.4" rx="5.6" ry="6.6" fill="#d7937a" fill-opacity="0.45" filter="url(#f3c)"/><ellipse cx="52.7" cy="68.9" rx="7.9" ry="4.3" fill="#99745f" fill-opacity="0.7"/><ellipse cx="52.7" cy="69.6" rx="4.7" ry="1.6" fill="#e9dcd6"/><ellipse cx="52.7" cy="69.6" rx="2.8" ry="2.1" fill="#5a6a72"/><circle cx="52.7" cy="69.6" r="1.0" fill="#1c1412"/><path d="M47.0 70.0C47.6 69.6 49.3 68.0 50.6 67.6C51.9 67.3 53.7 67.4 55.0 67.7C56.3 68.1 57.8 69.5 58.3 69.8" fill="none" stroke="#3d2e26" stroke-width="1.4" stroke-linecap="round" stroke-opacity="0.85"/><path d="M47.5 72.4C48.4 72.7 51.0 73.8 52.7 73.8C54.4 73.7 57.0 72.5 57.9 72.2" fill="none" stroke="#8e6b59" stroke-width="0.8" stroke-linecap="round" stroke-opacity="0.45"/><ellipse cx="84.7" cy="68.9" rx="7.9" ry="4.3" fill="#99745f" fill-opacity="0.7"/><ellipse cx="84.7" cy="69.6" rx="4.7" ry="1.6" fill="#e9dcd6"/><ellipse cx="84.7" cy="69.6" rx="2.8" ry="2.1" fill="#5a6a72"/><circle cx="84.7" cy="69.6" r="1.0" fill="#1c1412"/><path d="M79.0 70.0C79.6 69.6 81.3 68.0 82.6 67.6C83.9 67.3 85.7 67.4 87.0 67.7C88.3 68.1 89.8 69.5 90.3 69.8" fill="none" stroke="#3d2e26" stroke-width="1.4" stroke-linecap="round" stroke-opacity="0.85"/><path d="M79.5 72.4C80.4 72.7 82.9 73.8 84.7 73.8C86.4 73.7 89.0 72.5 89.8 72.2" fill="none" stroke="#8e6b59" stroke-width="0.8" stroke-linecap="round" stroke-opacity="0.45"/><path d="M39.5 64.9C41.4 64.3 47.2 61.4 50.8 61.1C54.4 60.9 59.4 62.9 61.1 63.2" fill="none" stroke="#9a7a5c" stroke-width="2.3" stroke-linecap="round"/><path d="M78.1 63.2C79.6 62.9 84.2 60.9 87.5 61.1C90.8 61.4 96.1 64.3 97.8 64.9" fill="none" stroke="#9a7a5c" stroke-width="2.3" stroke-linecap="round"/><ellipse cx="69.6" cy="82.8" rx="3.4" ry="8.9" fill="#e5c0ac" fill-opacity="0.5"/><path d="M62.1 71.5C62.1 72.8 62.6 76.3 62.3 79.0C62.0 81.7 60.6 86.2 60.2 87.7" fill="none" stroke="#99745f" stroke-width="3.2" stroke-linecap="round" stroke-opacity="0.22"/><path d="M60.2 86.7C60.4 87.3 60.6 89.3 61.6 89.9C62.6 90.6 65.0 90.4 66.3 90.7C67.7 91.0 68.5 91.8 69.6 91.8C70.7 91.8 71.6 91.0 72.9 90.7C74.2 90.4 76.6 90.6 77.6 89.9C78.6 89.3 78.8 87.3 79.0 86.7" fill="none" stroke="#785b4b" stroke-width="1.4" stroke-linecap="round" stroke-opacity="0.8"/><ellipse cx="65.4" cy="90.3" rx="1.6" ry="0.8" fill="#574236" fill-opacity="0.8"/><ellipse cx="73.8" cy="90.3" rx="1.6" ry="0.8" fill="#574236" fill-opacity="0.8"/><path d="M58.8 88.1C58.1 89.4 56.2 93.3 54.6 95.8C52.9 98.3 50.0 101.8 49.1 103.0" fill="none" stroke="#876654" stroke-width="1.9" stroke-linecap="round" stroke-opacity="0.30"/><path d="M80.4 88.1C81.1 89.4 83.7 93.3 84.7 95.8C85.7 98.3 86.1 101.8 86.4 103.0" fill="none" stroke="#876654" stroke-width="1.9" stroke-linecap="round" stroke-opacity="0.30"/><path d="M52.7 101.1C54.3 100.8 62.7 102.4 67.7 102.4C72.8 102.4 81.2 100.8 82.8 101.1C84.4 101.5 79.9 103.2 77.4 104.5C74.9 105.8 70.9 108.9 67.7 108.9C64.5 108.9 60.6 105.8 58.1 104.5C55.6 103.2 51.1 101.5 52.7 101.1Z" fill="#c98378"/><path d="M53.8 101.9C55.3 101.7 63.1 103.0 67.7 103.0C72.4 103.0 80.2 101.7 81.7 101.9C83.2 102.1 79.1 103.5 76.8 104.2C74.4 104.8 70.7 105.8 67.7 105.8C64.7 105.8 61.0 104.8 58.7 104.2C56.4 103.5 52.3 102.1 53.8 101.9Z" fill="#5a2c2a"/><path d="M55.1 102.3C56.4 102.2 63.5 103.4 67.7 103.4C71.9 103.4 79.1 102.2 80.3 102.3C81.6 102.4 77.4 103.5 75.3 104.0C73.2 104.5 70.2 105.3 67.7 105.3C65.2 105.3 62.3 104.5 60.2 104.0C58.1 103.5 53.9 102.4 55.1 102.3Z" fill="#efe8de"/><path d="M51.9 100.6C53.3 100.7 57.6 101.3 60.2 101.5C62.8 101.7 65.2 101.9 67.7 101.9C70.2 101.9 72.6 101.7 75.3 101.5C77.9 101.3 82.2 100.7 83.5 100.6" fill="none" stroke="#b07369" stroke-width="1.4" stroke-linecap="round"/><ellipse cx="67.7" cy="111.9" rx="9.0" ry="1.3" fill="#a47c66" fill-opacity="0.35"/><path d="M23.5 131.7C18.8 128.6 14.0 119.2 11.3 112.9C8.6 106.6 7.1 100.3 7.5 94.1C8.0 87.8 11.8 82.2 14.1 75.3C16.5 68.4 18.8 59.6 21.6 52.7C24.5 45.8 27.6 39.5 31.0 33.9C34.5 28.2 38.4 22.9 42.3 18.8C46.3 14.7 50.6 11.4 54.6 9.4C58.5 7.4 61.6 6.0 65.9 6.6C70.1 7.2 75.3 10.2 80.0 13.2C84.7 16.1 90.2 20.4 94.1 24.5C98.0 28.5 100.7 32.9 103.5 37.6C106.3 42.3 108.7 46.4 111.0 52.7C113.4 59.0 115.9 69.1 117.6 75.3C119.3 81.4 121.4 83.9 121.4 89.4C121.4 94.9 119.8 101.1 117.6 108.2C115.4 115.2 111.2 130.1 108.2 131.7C105.2 133.3 100.8 122.3 99.7 117.6C98.6 112.9 101.1 109.0 101.6 103.5C102.1 98.0 102.9 90.9 102.5 84.7C102.2 78.4 101.1 71.5 99.7 65.9C98.3 60.2 96.6 55.5 94.1 50.8C91.6 46.1 88.1 40.9 84.7 37.6C81.2 34.3 77.5 32.3 73.4 31.0C69.3 29.8 64.3 29.6 60.2 30.1C56.1 30.6 52.1 32.0 48.9 33.9C45.8 35.7 43.6 37.6 41.4 41.4C39.2 45.2 37.3 51.1 35.7 56.4C34.2 61.8 32.8 67.1 32.0 73.4C31.2 79.6 30.7 87.5 31.0 94.1C31.4 100.7 32.5 106.6 33.9 112.9C35.3 119.2 41.2 128.6 39.5 131.7C37.8 134.8 28.2 134.8 23.5 131.7Z" fill="url(#f3h)" fill-opacity="1.00"/></g></svg></div><div class="badge" style="background:#ff9800"><svg width="32.5" height="32.5" viewBox="0 0 32.5 32.5"><rect x="10.8" y="15.25" width="10.1" height="1.85" fill="#fff"/></svg></div><div class="name">Elisabeth <span class="ln">GROSSMANN</span></div></div><div class="mem" style="left:171.2px"><div class="photo"><svg viewBox="0 0 127 127" width="127" height="127"><defs><filter id="f4b" x="-10%" y="-10%" width="120%" height="120%"><feGaussianBlur stdDeviation="0.85"/></filter><filter id="f4c" x="-30%" y="-30%" width="160%" height="160%"><feGaussianBlur stdDeviation="3"/></filter><radialGradient id="f4g" gradientUnits="userSpaceOnUse" cx="65.3" cy="68.7" r="63.6"><stop offset="0" stop-color="#dfb39e"/><stop offset="0.6" stop-color="#dba890"/><stop offset="1" stop-color="#aa8370"/></radialGradient><linearGradient id="f4h" x1="0" y1="0" x2="1" y2="1"><stop offset="0" stop-color="#988b81"/><stop offset="0.5" stop-color="#85766a"/><stop offset="1" stop-color="#675c52"/></linearGradient></defs><rect width="127" height="127" fill="#eeeff6"/><g filter="url(#f4b)"><path d="M40.5 112.9 L94.1 112.9 L98.8 131.7 L37.6 131.7Z" fill="#a27c6a"/><path d="M84.7 131.7C82.0 129.5 89.4 121.7 92.2 118.5C95.0 115.4 98.9 110.7 101.6 112.9C104.3 115.1 111.0 128.6 108.2 131.7C105.4 134.8 87.3 133.9 84.7 131.7Z" fill="#f2f3f8"/><path d="M96.0 131.7C91.9 129.0 98.9 119.6 102.5 115.7C106.1 111.8 113.5 105.5 117.6 108.2C121.7 110.9 130.6 127.8 127.0 131.7C123.4 135.6 100.0 134.4 96.0 131.7Z" fill="#30343c"/><path d="M23.5 65.9C23.9 61.8 27.8 61.1 29.2 65.9C30.5 70.6 31.9 90.0 31.5 94.1C31.1 98.2 28.1 95.0 26.8 90.3C25.5 85.6 23.1 69.9 23.5 65.9Z" fill="#c99a84"/><path d="M106.3 65.9C107.7 60.8 112.0 62.7 112.9 65.9C113.8 69.0 112.9 79.6 111.5 84.7C110.1 89.7 105.3 99.1 104.4 96.0C103.6 92.8 104.9 70.9 106.3 65.9Z" fill="#c99a84"/><clipPath id="f4k"><rect x="0" y="0" width="127" height="72.4"/></clipPath><path d="M51.7 25.4C58.5 24.6 72.3 24.5 80.0 27.3C87.6 30.1 93.9 36.2 97.8 42.3C101.8 48.4 102.1 56.9 103.5 64.0C104.9 71.0 106.6 78.4 106.3 84.7C106.0 90.9 103.6 96.6 101.6 101.6C99.6 106.6 97.2 111.0 94.1 114.8C90.9 118.5 87.5 122.0 82.8 124.2C78.1 126.4 70.9 127.9 65.9 127.9C60.8 127.9 56.9 126.7 52.7 124.2C48.4 121.7 43.7 117.1 40.5 112.9C37.2 108.7 34.8 103.8 32.9 98.8C31.0 93.8 29.9 88.6 29.2 82.8C28.4 77.0 27.8 70.2 28.2 64.0C28.7 57.7 30.1 50.5 32.0 45.2C33.9 39.8 36.2 35.3 39.5 32.0C42.8 28.7 45.0 26.2 51.7 25.4Z" fill="#dba890" stroke="#dba890" stroke-width="6" stroke-linejoin="round" clip-path="url(#f4k)"/><path d="M51.7 25.4C58.5 24.6 72.3 24.5 80.0 27.3C87.6 30.1 93.9 36.2 97.8 42.3C101.8 48.4 102.1 56.9 103.5 64.0C104.9 71.0 106.6 78.4 106.3 84.7C106.0 90.9 103.6 96.6 101.6 101.6C99.6 106.6 97.2 111.0 94.1 114.8C90.9 118.5 87.5 122.0 82.8 124.2C78.1 126.4 70.9 127.9 65.9 127.9C60.8 127.9 56.9 126.7 52.7 124.2C48.4 121.7 43.7 117.1 40.5 112.9C37.2 108.7 34.8 103.8 32.9 98.8C31.0 93.8 29.9 88.6 29.2 82.8C28.4 77.0 27.8 70.2 28.2 64.0C28.7 57.7 30.1 50.5 32.0 45.2C33.9 39.8 36.2 35.3 39.5 32.0C42.8 28.7 45.0 26.2 51.7 25.4Z" fill="url(#f4g)"/><ellipse cx="44.2" cy="88.4" rx="5.6" ry="6.6" fill="#d7947f" fill-opacity="0.45" filter="url(#f4c)"/><ellipse cx="82.8" cy="88.4" rx="5.6" ry="6.6" fill="#d7947f" fill-opacity="0.45" filter="url(#f4c)"/><ellipse cx="47.0" cy="67.9" rx="7.9" ry="4.3" fill="#997564" fill-opacity="0.7"/><ellipse cx="47.0" cy="68.7" rx="4.7" ry="1.6" fill="#e9dcd6"/><ellipse cx="47.0" cy="68.7" rx="2.8" ry="2.1" fill="#4a3e30"/><circle cx="47.0" cy="68.7" r="1.0" fill="#1c1412"/><path d="M41.4 69.1C42.0 68.7 43.6 67.1 45.0 66.7C46.3 66.3 48.1 66.4 49.4 66.8C50.7 67.2 52.1 68.5 52.7 68.9" fill="none" stroke="#3d2f28" stroke-width="1.4" stroke-linecap="round" stroke-opacity="0.85"/><path d="M41.9 71.5C42.7 71.7 45.3 72.8 47.0 72.8C48.8 72.8 51.3 71.6 52.2 71.3" fill="none" stroke="#8e6d5d" stroke-width="0.8" stroke-linecap="round" stroke-opacity="0.45"/><ellipse cx="80.0" cy="67.0" rx="7.9" ry="4.3" fill="#997564" fill-opacity="0.7"/><ellipse cx="80.0" cy="67.7" rx="4.7" ry="1.6" fill="#e9dcd6"/><ellipse cx="80.0" cy="67.7" rx="2.8" ry="2.1" fill="#4a3e30"/><circle cx="80.0" cy="67.7" r="1.0" fill="#1c1412"/><path d="M74.3 68.1C74.9 67.7 76.6 66.1 77.9 65.8C79.2 65.4 81.0 65.5 82.3 65.9C83.6 66.2 85.1 67.6 85.6 67.9" fill="none" stroke="#3d2f28" stroke-width="1.4" stroke-linecap="round" stroke-opacity="0.85"/><path d="M74.8 70.6C75.7 70.8 78.2 71.9 80.0 71.9C81.7 71.8 84.3 70.6 85.1 70.4" fill="none" stroke="#8e6d5d" stroke-width="0.8" stroke-linecap="round" stroke-opacity="0.45"/><path d="M37.6 62.1C39.2 61.8 43.9 60.2 47.0 60.2C50.2 60.2 54.9 61.8 56.4 62.1" fill="none" stroke="#8a7866" stroke-width="2.3" stroke-linecap="round"/><path d="M71.5 61.6C73.1 61.3 77.8 59.7 80.9 59.7C84.0 59.7 88.7 61.3 90.3 61.6" fill="none" stroke="#8a7866" stroke-width="2.3" stroke-linecap="round"/><ellipse cx="61.1" cy="81.8" rx="3.0" ry="8.9" fill="#e5c2b1" fill-opacity="0.5"/><path d="M54.4 70.6C54.4 71.8 54.8 75.4 54.5 78.1C54.3 80.8 53.0 85.3 52.7 86.7" fill="none" stroke="#997564" stroke-width="3.2" stroke-linecap="round" stroke-opacity="0.22"/><path d="M52.7 85.8C52.9 86.3 53.0 88.3 54.0 89.0C54.9 89.7 57.0 89.4 58.2 89.7C59.4 90.1 60.2 90.9 61.1 90.9C62.1 90.9 62.9 90.1 64.1 89.7C65.3 89.4 67.4 89.7 68.3 89.0C69.3 88.3 69.4 86.3 69.6 85.8" fill="none" stroke="#785c4f" stroke-width="1.4" stroke-linecap="round" stroke-opacity="0.8"/><ellipse cx="57.3" cy="89.4" rx="1.6" ry="0.8" fill="#574339" fill-opacity="0.8"/><ellipse cx="65.0" cy="89.4" rx="1.6" ry="0.8" fill="#574339" fill-opacity="0.8"/><path d="M51.4 87.2C50.7 88.4 48.3 91.9 47.2 94.2C46.0 96.4 44.9 99.6 44.4 100.7" fill="none" stroke="#876859" stroke-width="1.9" stroke-linecap="round" stroke-opacity="0.30"/><path d="M70.9 87.2C71.6 88.4 73.2 91.9 75.1 94.2C77.1 96.4 81.4 99.6 82.6 100.7" fill="none" stroke="#876859" stroke-width="1.9" stroke-linecap="round" stroke-opacity="0.30"/><path d="M48.0 98.8C49.6 98.4 58.3 100.1 63.5 100.1C68.7 100.1 77.4 98.4 79.0 98.8C80.7 99.1 76.0 100.9 73.4 102.2C70.8 103.5 66.8 106.6 63.5 106.6C60.2 106.6 56.2 103.5 53.6 102.2C51.0 100.9 46.3 99.1 48.0 98.8Z" fill="#c4827a"/><path d="M49.1 99.5C50.7 99.3 58.7 100.7 63.5 100.7C68.3 100.7 76.3 99.3 77.9 99.5C79.4 99.7 75.2 101.2 72.8 101.8C70.4 102.5 66.6 103.5 63.5 103.5C60.4 103.5 56.6 102.5 54.2 101.8C51.8 101.2 47.6 99.7 49.1 99.5Z" fill="#5a2c2a"/><path d="M50.4 99.9C51.7 99.8 59.1 101.0 63.5 101.0C67.9 101.0 75.3 99.8 76.6 99.9C77.9 100.0 73.4 101.1 71.3 101.6C69.1 102.1 66.1 102.9 63.5 102.9C60.9 102.9 57.9 102.1 55.7 101.6C53.6 101.1 49.1 100.0 50.4 99.9Z" fill="#efe8de"/><path d="M47.2 98.2C48.6 98.4 53.0 98.9 55.7 99.2C58.5 99.4 60.9 99.5 63.5 99.5C66.1 99.5 68.5 99.4 71.3 99.2C74.0 98.9 78.4 98.4 79.8 98.2" fill="none" stroke="#ac726b" stroke-width="1.4" stroke-linecap="round"/><ellipse cx="63.5" cy="109.6" rx="9.3" ry="1.3" fill="#a47e6c" fill-opacity="0.35"/><path d="M28.2 64.0C30.9 64.1 38.9 64.7 44.2 64.9C49.5 65.1 53.8 65.1 60.2 65.1C66.6 65.1 75.1 65.1 82.8 64.9C90.5 64.7 102.4 64.1 106.3 64.0" fill="none" stroke="#3a3c44" stroke-width="1.9" stroke-linecap="round"/><path d="M33.9 64.9C34.0 66.2 33.9 71.1 34.8 72.9C35.7 74.7 36.5 75.3 39.5 75.7C42.5 76.2 49.7 76.2 52.7 75.7C55.7 75.3 56.4 74.7 57.4 72.9C58.3 71.1 58.2 66.2 58.3 64.9" fill="none" stroke="#6a6c74" stroke-width="0.7" stroke-opacity="0.7"/><path d="M69.6 64.9C69.8 66.2 69.6 71.1 70.6 72.9C71.5 74.7 71.0 75.3 75.3 75.7C79.5 76.2 91.7 76.2 96.0 75.7C100.2 75.3 99.7 74.7 100.7 72.9C101.6 71.1 101.4 66.2 101.6 64.9" fill="none" stroke="#6a6c74" stroke-width="0.7" stroke-opacity="0.7"/><path d="M24.5 52.7C24.6 48.3 25.6 41.1 27.3 35.7C29.0 30.4 31.5 25.1 34.8 20.7C38.1 16.3 42.8 11.9 47.0 9.4C51.3 6.9 55.5 6.0 60.2 5.6C64.9 5.3 70.4 6.1 75.3 7.5C80.1 8.9 85.3 11.1 89.4 14.1C93.4 17.1 96.9 21.2 99.7 25.4C102.5 29.6 104.6 34.3 106.3 39.5C108.0 44.7 109.8 52.2 110.1 56.4C110.4 60.7 109.4 64.6 108.2 64.9C106.9 65.2 104.0 61.6 102.5 58.3C101.1 55.0 101.4 49.1 99.7 45.2C98.0 41.2 95.5 37.8 92.2 34.8C88.9 31.8 84.4 28.8 80.0 27.3C75.6 25.7 70.6 25.7 65.9 25.4C61.1 25.1 55.7 24.8 51.7 25.4C47.8 26.0 45.0 27.1 42.3 29.2C39.7 31.2 37.5 34.3 35.7 37.6C34.0 40.9 33.1 44.5 32.0 48.9C30.9 53.3 30.1 61.8 29.2 64.0C28.2 66.2 27.1 64.0 26.3 62.1C25.6 60.2 24.3 57.1 24.5 52.7Z" fill="url(#f4h)" fill-opacity="1.00"/></g></svg></div><div class="badge" style="background:#ff9800"><svg width="32.5" height="32.5" viewBox="0 0 32.5 32.5"><rect x="10.8" y="15.25" width="10.1" height="1.85" fill="#fff"/></svg></div><div class="name">Hannes <span class="ln">HEIDE</span></div></div><div class="mem" style="left:322.4px"><div class="photo"><svg viewBox="0 0 127 127" width="127" height="127"><defs><filter id="f5b" x="-10%" y="-10%" width="120%" height="120%"><feGaussianBlur stdDeviation="0.85"/></filter><filter id="f5c" x="-30%" y="-30%" width="160%" height="160%"><feGaussianBlur stdDeviation="3"/></filter><radialGradient id="f5g" gradientUnits="userSpaceOnUse" cx="58.2" cy="68.2" r="63.0"><stop offset="0" stop-color="#e9c0a8"/><stop offset="0.6" stop-color="#e6b79c"/><stop offset="1" stop-color="#b38e79"/></radialGradient><linearGradient id="f5h" x1="0" y1="0" x2="1" y2="1"><stop offset="0" stop-color="#decaab"/><stop offset="0.5" stop-color="#d8c09c"/><stop offset="1" stop-color="#a89579"/></linearGradient></defs><rect width="127" height="127" fill="#ffffff"/><g filter="url(#f5b)"><path d="M37.6 112.9 L89.4 112.9 L94.1 131.7 L35.7 131.7Z" fill="#aa8773"/><path d="M23.5 131.7C21.2 129.5 25.6 120.1 28.2 118.5C30.9 117.0 37.2 120.1 39.5 122.3C41.9 124.5 45.0 130.1 42.3 131.7C39.7 133.3 25.9 133.9 23.5 131.7Z" fill="#a83238"/><path d="M87.5 131.7C85.6 129.5 90.2 120.1 92.2 118.5C94.2 117.0 97.8 120.1 99.7 122.3C101.6 124.5 105.5 130.1 103.5 131.7C101.4 133.3 89.4 133.9 87.5 131.7Z" fill="#a83238"/><clipPath id="f5k"><rect x="0" y="0" width="127" height="115.7"/></clipPath><path d="M60.2 25.4C63.2 26.2 64.9 27.8 67.7 31.0C70.6 34.3 74.3 40.3 77.1 45.2C80.0 50.0 82.5 55.2 84.7 60.2C86.9 65.2 88.6 70.4 90.3 75.3C92.0 80.1 94.5 84.7 95.0 89.4C95.5 94.1 94.9 99.1 93.1 103.5C91.4 107.9 88.0 112.3 84.7 115.7C81.4 119.2 77.5 122.3 73.4 124.2C69.3 126.1 64.6 127.2 60.2 127.0C55.8 126.8 51.1 125.6 47.0 123.2C43.0 120.9 38.9 117.0 35.7 112.9C32.6 108.8 29.9 104.3 28.2 98.8C26.5 93.3 25.7 86.2 25.4 80.0C25.1 73.7 25.4 67.4 26.3 61.1C27.3 54.9 28.7 47.4 31.0 42.3C33.4 37.3 37.3 33.7 40.5 31.0C43.6 28.4 46.6 27.3 49.9 26.3C53.2 25.4 57.2 24.6 60.2 25.4Z" fill="#e6b79c" stroke="#e6b79c" stroke-width="6" stroke-linejoin="round" clip-path="url(#f5k)"/><path d="M60.2 25.4C63.2 26.2 64.9 27.8 67.7 31.0C70.6 34.3 74.3 40.3 77.1 45.2C80.0 50.0 82.5 55.2 84.7 60.2C86.9 65.2 88.6 70.4 90.3 75.3C92.0 80.1 94.5 84.7 95.0 89.4C95.5 94.1 94.9 99.1 93.1 103.5C91.4 107.9 88.0 112.3 84.7 115.7C81.4 119.2 77.5 122.3 73.4 124.2C69.3 126.1 64.6 127.2 60.2 127.0C55.8 126.8 51.1 125.6 47.0 123.2C43.0 120.9 38.9 117.0 35.7 112.9C32.6 108.8 29.9 104.3 28.2 98.8C26.5 93.3 25.7 86.2 25.4 80.0C25.1 73.7 25.4 67.4 26.3 61.1C27.3 54.9 28.7 47.4 31.0 42.3C33.4 37.3 37.3 33.7 40.5 31.0C43.6 28.4 46.6 27.3 49.9 26.3C53.2 25.4 57.2 24.6 60.2 25.4Z" fill="url(#f5g)"/><ellipse cx="39.5" cy="81.8" rx="5.6" ry="6.6" fill="#de9e87" fill-opacity="0.45" filter="url(#f5c)"/><ellipse cx="78.1" cy="81.8" rx="5.6" ry="6.6" fill="#de9e87" fill-opacity="0.45" filter="url(#f5c)"/><ellipse cx="42.3" cy="63.2" rx="7.9" ry="4.3" fill="#a1806d" fill-opacity="0.7"/><ellipse cx="42.3" cy="64.0" rx="4.7" ry="1.6" fill="#e9dcd6"/><ellipse cx="42.3" cy="64.0" rx="2.8" ry="2.1" fill="#5a6a76"/><circle cx="42.3" cy="64.0" r="1.0" fill="#1c1412"/><path d="M36.7 64.3C37.3 64.0 38.9 62.4 40.3 62.0C41.6 61.6 43.4 61.7 44.7 62.1C46.0 62.4 47.4 63.8 48.0 64.2" fill="none" stroke="#40332b" stroke-width="1.4" stroke-linecap="round" stroke-opacity="0.85"/><path d="M37.2 66.8C38.0 67.0 40.6 68.1 42.3 68.1C44.1 68.1 46.6 66.9 47.5 66.6" fill="none" stroke="#957665" stroke-width="0.8" stroke-linecap="round" stroke-opacity="0.45"/><ellipse cx="75.3" cy="62.3" rx="7.9" ry="4.3" fill="#a1806d" fill-opacity="0.7"/><ellipse cx="75.3" cy="63.0" rx="4.7" ry="1.6" fill="#e9dcd6"/><ellipse cx="75.3" cy="63.0" rx="2.8" ry="2.1" fill="#5a6a76"/><circle cx="75.3" cy="63.0" r="1.0" fill="#1c1412"/><path d="M69.6 63.4C70.2 63.0 71.9 61.4 73.2 61.1C74.5 60.7 76.3 60.8 77.6 61.1C78.9 61.5 80.4 62.9 80.9 63.2" fill="none" stroke="#40332b" stroke-width="1.4" stroke-linecap="round" stroke-opacity="0.85"/><path d="M70.1 65.9C70.9 66.1 73.5 67.2 75.3 67.2C77.0 67.1 79.6 65.9 80.4 65.7" fill="none" stroke="#957665" stroke-width="0.8" stroke-linecap="round" stroke-opacity="0.45"/><path d="M32.0 56.4C33.6 55.8 38.3 52.9 41.4 52.9C44.5 52.9 49.2 55.8 50.8 56.4" fill="none" stroke="#b89a7a" stroke-width="2.3" stroke-linecap="round"/><path d="M67.7 55.5C69.0 55.2 72.9 53.5 75.3 53.6C77.6 53.8 80.7 56.0 81.8 56.4" fill="none" stroke="#b89a7a" stroke-width="2.3" stroke-linecap="round"/><ellipse cx="57.4" cy="75.3" rx="3.2" ry="8.9" fill="#edccb9" fill-opacity="0.5"/><path d="M50.2 64.0C50.3 65.2 50.7 68.8 50.4 71.5C50.1 74.2 48.8 78.7 48.4 80.2" fill="none" stroke="#a1806d" stroke-width="3.2" stroke-linecap="round" stroke-opacity="0.22"/><path d="M48.4 79.2C48.7 79.7 48.8 81.8 49.8 82.4C50.8 83.1 53.0 82.8 54.3 83.2C55.5 83.5 56.3 84.3 57.4 84.3C58.4 84.3 59.2 83.5 60.5 83.2C61.8 82.8 64.0 83.1 65.0 82.4C65.9 81.8 66.1 79.7 66.3 79.2" fill="none" stroke="#7e6455" stroke-width="1.4" stroke-linecap="round" stroke-opacity="0.8"/><ellipse cx="53.4" cy="82.8" rx="1.6" ry="0.8" fill="#5c493e" fill-opacity="0.8"/><ellipse cx="61.4" cy="82.8" rx="1.6" ry="0.8" fill="#5c493e" fill-opacity="0.8"/><path d="M47.1 80.6C46.4 81.8 43.6 85.6 42.9 88.0C42.1 90.3 42.6 93.7 42.5 94.8" fill="none" stroke="#8e7160" stroke-width="1.9" stroke-linecap="round" stroke-opacity="0.30"/><path d="M67.7 80.6C68.4 81.8 70.0 85.6 71.9 88.0C73.8 90.3 77.7 93.7 78.8 94.8" fill="none" stroke="#8e7160" stroke-width="1.9" stroke-linecap="round" stroke-opacity="0.30"/><path d="M46.1 92.9C47.7 92.3 55.8 94.3 60.7 94.3C65.5 94.3 73.7 92.3 75.3 92.9C76.8 93.5 72.4 96.3 70.0 97.9C67.6 99.4 63.8 102.4 60.7 102.4C57.6 102.4 53.8 99.4 51.3 97.9C48.9 96.3 44.5 93.5 46.1 92.9Z" fill="#d0606a"/><path d="M47.2 93.7C48.7 93.3 56.2 94.8 60.7 94.8C65.2 94.8 72.7 93.3 74.1 93.7C75.6 94.1 71.7 96.4 69.4 97.3C67.2 98.3 63.6 99.2 60.7 99.2C57.8 99.2 54.2 98.3 51.9 97.3C49.7 96.4 45.8 94.1 47.2 93.7Z" fill="#5a2c2a"/><path d="M48.5 94.1C49.8 93.8 56.6 95.2 60.7 95.2C64.7 95.2 71.6 93.8 72.8 94.1C74.0 94.4 70.0 96.3 68.0 97.1C65.9 97.9 63.1 98.7 60.7 98.7C58.2 98.7 55.4 97.9 53.4 97.1C51.4 96.3 47.3 94.4 48.5 94.1Z" fill="#dccba4"/><path d="M45.3 92.4C46.7 92.5 50.8 93.1 53.4 93.3C55.9 93.5 58.2 93.7 60.7 93.7C63.1 93.7 65.4 93.5 68.0 93.3C70.5 93.1 74.7 92.5 76.0 92.4" fill="none" stroke="#b7545d" stroke-width="1.4" stroke-linecap="round"/><ellipse cx="60.7" cy="103.8" rx="8.7" ry="1.3" fill="#ac8975" fill-opacity="0.35"/><path d="M23.5 131.7C20.4 130.9 20.4 122.3 18.8 117.6C17.2 112.9 15.5 109.0 14.1 103.5C12.7 98.0 10.7 91.7 10.3 84.7C10.0 77.6 10.8 68.5 12.2 61.1C13.6 53.8 16.1 46.6 18.8 40.5C21.5 34.3 24.6 29.2 28.2 24.5C31.8 19.8 35.7 15.4 40.5 12.2C45.2 9.1 51.0 6.7 56.4 5.6C61.9 4.5 67.9 4.5 73.4 5.6C78.9 6.7 84.4 8.8 89.4 12.2C94.4 15.7 99.6 21.3 103.5 26.3C107.4 31.4 110.2 36.5 112.9 42.3C115.6 48.1 117.7 54.9 119.5 61.1C121.2 67.4 123.1 74.5 123.2 80.0C123.4 85.5 122.1 90.2 120.4 94.1C118.7 98.0 115.7 99.6 112.9 103.5C110.1 107.4 106.6 114.0 103.5 117.6C100.3 121.2 95.6 125.9 94.1 125.1C92.5 124.3 93.9 118.8 94.1 112.9C94.2 106.9 95.8 96.4 95.0 89.4C94.2 82.3 91.4 76.0 89.4 70.6C87.3 65.1 85.1 61.1 82.8 56.4C80.4 51.7 78.1 46.7 75.3 42.3C72.4 37.9 68.4 32.9 65.9 30.1C63.3 27.3 63.3 25.9 60.2 25.4C57.1 24.9 50.8 26.0 47.0 27.3C43.3 28.5 40.3 30.4 37.6 32.9C35.0 35.4 32.8 38.4 31.0 42.3C29.3 46.3 28.2 51.0 27.3 56.4C26.3 61.9 25.6 69.0 25.4 75.3C25.2 81.5 25.4 88.6 26.3 94.1C27.3 99.6 29.2 103.5 31.0 108.2C32.9 112.9 38.9 118.4 37.6 122.3C36.4 126.2 26.7 132.5 23.5 131.7Z" fill="url(#f5h)" fill-opacity="1.00"/></g></svg></div><div class="badge" style="background:#ff9800"><svg width="32.5" height="32.5" viewBox="0 0 32.5 32.5"><rect x="10.8" y="15.25" width="10.1" height="1.85" fill="#fff"/></svg></div><div class="name">Evelyn <span class="ln">REGNER</span></div></div><div class="mem" style="left:473.6px"><div class="photo"><svg viewBox="0 0 127 127" width="127" height="127"><defs><filter id="f6b" x="-10%" y="-10%" width="120%" height="120%"><feGaussianBlur stdDeviation="0.85"/></filter><filter id="f6c" x="-30%" y="-30%" width="160%" height="160%"><feGaussianBlur stdDeviation="3"/></filter><radialGradient id="f6g" gradientUnits="userSpaceOnUse" cx="62.4" cy="67.3" r="66.5"><stop offset="0" stop-color="#d0a48c"/><stop offset="0.6" stop-color="#c9977b"/><stop offset="1" stop-color="#9c755f"/></radialGradient><linearGradient id="f6h" x1="0" y1="0" x2="1" y2="1"><stop offset="0" stop-color="#9d9b96"/><stop offset="0.5" stop-color="#8b8882"/><stop offset="1" stop-color="#6c6a65"/></linearGradient></defs><rect width="127" height="127" fill="#ffffff"/><g filter="url(#f6b)"><path d="M40.5 117.6 L90.3 117.6 L94.1 131.7 L37.6 131.7Z" fill="#946f5b"/><path d="M21.6 61.1C22.2 57.1 25.6 55.5 26.8 60.2C28.0 64.9 29.2 85.3 28.7 89.4C28.1 93.4 24.7 89.4 23.5 84.7C22.3 80.0 21.1 65.2 21.6 61.1Z" fill="#b88a71"/><path d="M103.5 60.2C105.1 55.2 110.4 55.8 111.9 58.3C113.5 60.8 113.5 70.1 112.9 75.3C112.3 80.4 110.0 87.2 108.2 89.4C106.4 91.6 102.9 93.3 102.1 88.4C101.3 83.6 101.8 65.2 103.5 60.2Z" fill="#b88a71"/><clipPath id="f6k"><rect x="0" y="0" width="127" height="76.2"/></clipPath><path d="M65.9 21.6C72.1 21.6 79.5 22.4 84.7 25.4C89.8 28.4 93.9 34.3 96.9 39.5C99.9 44.7 101.4 50.5 102.5 56.4C103.6 62.4 103.6 69.0 103.5 75.3C103.3 81.5 102.7 88.6 101.6 94.1C100.5 99.6 98.9 104.0 96.9 108.2C94.9 112.4 92.2 116.5 89.4 119.5C86.5 122.5 83.9 124.5 80.0 126.1C76.0 127.6 70.6 128.9 65.9 128.9C61.1 128.9 56.0 127.8 51.7 126.1C47.5 124.3 43.7 122.3 40.5 118.5C37.2 114.8 34.2 109.1 32.0 103.5C29.8 97.8 28.4 90.9 27.3 84.7C26.2 78.4 25.1 71.8 25.4 65.9C25.7 59.9 27.4 53.9 29.2 48.9C30.9 43.9 32.8 39.7 35.7 35.7C38.7 31.8 42.0 27.8 47.0 25.4C52.1 23.0 59.6 21.6 65.9 21.6Z" fill="#c9977b" stroke="#c9977b" stroke-width="6" stroke-linejoin="round" clip-path="url(#f6k)"/><path d="M65.9 21.6C72.1 21.6 79.5 22.4 84.7 25.4C89.8 28.4 93.9 34.3 96.9 39.5C99.9 44.7 101.4 50.5 102.5 56.4C103.6 62.4 103.6 69.0 103.5 75.3C103.3 81.5 102.7 88.6 101.6 94.1C100.5 99.6 98.9 104.0 96.9 108.2C94.9 112.4 92.2 116.5 89.4 119.5C86.5 122.5 83.9 124.5 80.0 126.1C76.0 127.6 70.6 128.9 65.9 128.9C61.1 128.9 56.0 127.8 51.7 126.1C47.5 124.3 43.7 122.3 40.5 118.5C37.2 114.8 34.2 109.1 32.0 103.5C29.8 97.8 28.4 90.9 27.3 84.7C26.2 78.4 25.1 71.8 25.4 65.9C25.7 59.9 27.4 53.9 29.2 48.9C30.9 43.9 32.8 39.7 35.7 35.7C38.7 31.8 42.0 27.8 47.0 25.4C52.1 23.0 59.6 21.6 65.9 21.6Z" fill="url(#f6g)"/><ellipse cx="43.3" cy="92.2" rx="5.6" ry="6.6" fill="#cb8971" fill-opacity="0.45" filter="url(#f6c)"/><ellipse cx="82.8" cy="92.2" rx="5.6" ry="6.6" fill="#cb8971" fill-opacity="0.45" filter="url(#f6c)"/><ellipse cx="46.1" cy="71.7" rx="7.9" ry="4.3" fill="#8c6956" fill-opacity="0.7"/><ellipse cx="46.1" cy="72.4" rx="4.7" ry="1.6" fill="#e9dcd6"/><ellipse cx="46.1" cy="72.4" rx="2.8" ry="2.1" fill="#5e6248"/><circle cx="46.1" cy="72.4" r="1.0" fill="#1c1412"/><path d="M40.5 72.8C41.0 72.4 42.7 70.8 44.0 70.5C45.4 70.1 47.2 70.2 48.4 70.6C49.7 70.9 51.2 72.3 51.7 72.6" fill="none" stroke="#382a22" stroke-width="1.4" stroke-linecap="round" stroke-opacity="0.85"/><path d="M40.9 75.3C41.8 75.5 44.4 76.6 46.1 76.6C47.8 76.5 50.4 75.3 51.3 75.1" fill="none" stroke="#82624f" stroke-width="0.8" stroke-linecap="round" stroke-opacity="0.45"/><ellipse cx="80.0" cy="69.8" rx="7.9" ry="4.3" fill="#8c6956" fill-opacity="0.7"/><ellipse cx="80.0" cy="70.6" rx="4.7" ry="1.6" fill="#e9dcd6"/><ellipse cx="80.0" cy="70.6" rx="2.8" ry="2.1" fill="#5e6248"/><circle cx="80.0" cy="70.6" r="1.0" fill="#1c1412"/><path d="M74.3 70.9C74.9 70.5 76.6 69.0 77.9 68.6C79.2 68.2 81.0 68.3 82.3 68.7C83.6 69.0 85.1 70.4 85.6 70.7" fill="none" stroke="#382a22" stroke-width="1.4" stroke-linecap="round" stroke-opacity="0.85"/><path d="M74.8 73.4C75.7 73.6 78.2 74.7 80.0 74.7C81.7 74.7 84.3 73.4 85.1 73.2" fill="none" stroke="#82624f" stroke-width="0.8" stroke-linecap="round" stroke-opacity="0.45"/><path d="M37.6 64.9C39.2 64.4 43.9 61.9 47.0 62.1C50.2 62.2 54.9 65.2 56.4 65.9" fill="none" stroke="#8a7a6c" stroke-width="2.3" stroke-linecap="round"/><path d="M71.5 64.0C72.9 63.4 77.0 60.6 80.0 60.4C82.9 60.2 87.8 62.6 89.4 63.0" fill="none" stroke="#8a7a6c" stroke-width="2.3" stroke-linecap="round"/><ellipse cx="63.0" cy="85.6" rx="3.6" ry="8.9" fill="#d9b6a2" fill-opacity="0.5"/><path d="M55.1 74.3C55.2 75.6 55.7 78.9 55.3 81.8C55.0 84.8 53.5 90.5 53.2 92.2" fill="none" stroke="#8c6956" stroke-width="3.2" stroke-linecap="round" stroke-opacity="0.22"/><path d="M53.2 91.3C53.4 91.8 53.6 93.8 54.6 94.5C55.7 95.1 58.2 94.9 59.6 95.2C61.0 95.5 61.9 96.3 63.0 96.3C64.2 96.3 65.1 95.5 66.5 95.2C67.9 94.9 70.4 95.1 71.4 94.5C72.5 93.8 72.7 91.8 72.9 91.3" fill="none" stroke="#6e5343" stroke-width="1.4" stroke-linecap="round" stroke-opacity="0.8"/><ellipse cx="58.6" cy="94.8" rx="1.6" ry="0.8" fill="#503c31" fill-opacity="0.8"/><ellipse cx="67.5" cy="94.8" rx="1.6" ry="0.8" fill="#503c31" fill-opacity="0.8"/><path d="M51.7 92.7C51.0 93.8 49.0 97.3 47.4 99.5C45.9 101.7 43.3 104.8 42.5 105.8" fill="none" stroke="#7c5d4c" stroke-width="1.9" stroke-linecap="round" stroke-opacity="0.30"/><path d="M74.4 92.7C75.1 93.8 76.9 97.3 78.6 99.5C80.3 101.7 83.5 104.8 84.5 105.8" fill="none" stroke="#7c5d4c" stroke-width="1.9" stroke-linecap="round" stroke-opacity="0.30"/><path d="M46.1 104.0C47.4 103.1 56.8 102.7 59.7 102.6C62.6 102.5 62.2 103.4 63.5 103.4C64.8 103.4 64.4 102.5 67.3 102.6C70.2 102.7 79.6 103.1 80.9 104.0C82.2 104.8 78.2 106.8 75.3 107.7C72.4 108.6 67.4 109.4 63.5 109.4C59.6 109.4 54.6 108.6 51.7 107.7C48.8 106.8 44.8 104.8 46.1 104.0Z" fill="#b87868" fill-opacity="0.85"/><path d="M45.2 103.4C46.8 103.6 51.7 104.4 54.8 104.7C57.9 105.0 60.6 105.1 63.5 105.1C66.4 105.1 69.1 105.0 72.2 104.7C75.3 104.4 80.2 103.6 81.8 103.4" fill="none" stroke="#5c3c34" stroke-width="1.1" stroke-linecap="round"/><ellipse cx="63.5" cy="114.8" rx="10.4" ry="1.3" fill="#96715c" fill-opacity="0.35"/><path d="M23.5 58.3C23.0 55.0 23.2 47.5 24.5 42.3C25.7 37.2 28.1 31.7 31.0 27.3C34.0 22.9 38.1 19.0 42.3 16.0C46.6 13.0 51.7 10.8 56.4 9.4C61.1 8.0 65.9 7.2 70.6 7.5C75.3 7.8 80.4 9.1 84.7 11.3C88.9 13.5 92.8 17.1 96.0 20.7C99.1 24.3 101.6 28.5 103.5 32.9C105.4 37.3 106.8 42.3 107.2 47.0C107.7 51.7 107.2 60.2 106.3 61.1C105.4 62.1 103.2 56.3 101.6 52.7C100.0 49.1 98.9 43.4 96.9 39.5C94.9 35.6 92.2 31.8 89.4 29.2C86.5 26.5 83.9 24.8 80.0 23.5C76.0 22.3 70.6 21.6 65.9 21.6C61.1 21.6 56.0 22.3 51.7 23.5C47.5 24.8 43.4 26.5 40.5 29.2C37.5 31.8 35.7 35.6 33.9 39.5C32.0 43.4 30.3 48.9 29.2 52.7C28.1 56.4 28.2 61.1 27.3 62.1C26.3 63.0 24.0 61.6 23.5 58.3Z" fill="url(#f6h)" fill-opacity="0.92"/></g></svg></div><div class="badge" style="background:#ff9800"><svg width="32.5" height="32.5" viewBox="0 0 32.5 32.5"><rect x="10.8" y="15.25" width="10.1" height="1.85" fill="#fff"/></svg></div><div class="name">Andreas <span class="ln">SCHIEDER</span></div></div><div class="mem" style="left:624.8px"><div class="photo"><svg viewBox="0 0 127 127" width="127" height="127"><defs><filter id="f7b" x="-10%" y="-10%" width="120%" height="120%"><feGaussianBlur stdDeviation="0.85"/></filter><filter id="f7c" x="-30%" y="-30%" width="160%" height="160%"><feGaussianBlur stdDeviation="3"/></filter><radialGradient id="f7g" gradientUnits="userSpaceOnUse" cx="62.9" cy="68.9" r="64.5"><stop offset="0" stop-color="#dfad94"/><stop offset="0.6" stop-color="#dba185"/><stop offset="1" stop-color="#aa7d67"/></radialGradient><linearGradient id="f7h" x1="0" y1="0" x2="1" y2="1"><stop offset="0" stop-color="#5d5753"/><stop offset="0.5" stop-color="#3f3733"/><stop offset="1" stop-color="#312a27"/></linearGradient></defs><rect width="127" height="127" fill="#ffffff"/><g filter="url(#f7b)"><path d="M40.5 117.6 L90.3 117.6 L94.1 131.7 L37.6 131.7Z" fill="#a27762"/><path d="M21.2 64.9C22.0 60.8 26.5 61.8 27.8 65.9C29.0 69.9 29.6 85.3 28.7 89.4C27.8 93.4 23.8 94.4 22.6 90.3C21.3 86.2 20.3 69.0 21.2 64.9Z" fill="#c9947a"/><path d="M102.1 69.6C103.1 64.6 108.1 57.2 109.1 60.2C110.1 63.2 109.2 82.5 108.2 87.5C107.2 92.5 104.0 93.3 103.0 90.3C102.0 87.3 101.1 74.6 102.1 69.6Z" fill="#c9947a"/><clipPath id="f7k"><rect x="0" y="0" width="127" height="65.9"/></clipPath><path d="M65.9 24.9C72.1 25.0 79.5 24.4 84.7 27.3C89.8 30.2 94.4 36.7 96.9 42.3C99.4 48.0 98.8 55.7 99.7 61.1C100.7 66.6 102.1 69.8 102.5 75.3C103.0 80.7 103.5 88.6 102.5 94.1C101.6 99.6 99.1 104.0 96.9 108.2C94.7 112.4 92.7 116.3 89.4 119.5C86.1 122.6 81.4 125.4 77.1 127.0C72.9 128.6 68.4 129.2 64.0 128.9C59.6 128.6 54.7 127.3 50.8 125.1C46.9 122.9 43.6 119.6 40.5 115.7C37.3 111.8 34.0 106.8 32.0 101.6C29.9 96.4 29.0 90.3 28.2 84.7C27.4 79.0 27.0 73.7 27.3 67.7C27.6 61.8 28.8 54.4 30.1 48.9C31.4 43.4 32.0 38.5 34.8 34.8C37.6 31.1 41.9 28.5 47.0 26.8C52.2 25.2 59.6 24.9 65.9 24.9Z" fill="#dba185" stroke="#dba185" stroke-width="6" stroke-linejoin="round" clip-path="url(#f7k)"/><path d="M65.9 24.9C72.1 25.0 79.5 24.4 84.7 27.3C89.8 30.2 94.4 36.7 96.9 42.3C99.4 48.0 98.8 55.7 99.7 61.1C100.7 66.6 102.1 69.8 102.5 75.3C103.0 80.7 103.5 88.6 102.5 94.1C101.6 99.6 99.1 104.0 96.9 108.2C94.7 112.4 92.7 116.3 89.4 119.5C86.1 122.6 81.4 125.4 77.1 127.0C72.9 128.6 68.4 129.2 64.0 128.9C59.6 128.6 54.7 127.3 50.8 125.1C46.9 122.9 43.6 119.6 40.5 115.7C37.3 111.8 34.0 106.8 32.0 101.6C29.9 96.4 29.0 90.3 28.2 84.7C27.4 79.0 27.0 73.7 27.3 67.7C27.6 61.8 28.8 54.4 30.1 48.9C31.4 43.4 32.0 38.5 34.8 34.8C37.6 31.1 41.9 28.5 47.0 26.8C52.2 25.2 59.6 24.9 65.9 24.9Z" fill="url(#f7g)"/><ellipse cx="43.3" cy="84.7" rx="5.6" ry="6.6" fill="#d78f78" fill-opacity="0.45" filter="url(#f7c)"/><ellipse cx="80.9" cy="84.7" rx="5.6" ry="6.6" fill="#d78f78" fill-opacity="0.45" filter="url(#f7c)"/><ellipse cx="46.1" cy="61.3" rx="7.9" ry="4.3" fill="#99705d" fill-opacity="0.7"/><ellipse cx="46.1" cy="62.1" rx="4.7" ry="1.6" fill="#e9dcd6"/><ellipse cx="46.1" cy="62.1" rx="2.8" ry="2.1" fill="#5a3418"/><circle cx="46.1" cy="62.1" r="1.0" fill="#1c1412"/><path d="M40.5 62.5C41.0 62.1 42.7 60.5 44.0 60.1C45.4 59.7 47.2 59.8 48.4 60.2C49.7 60.6 51.2 61.9 51.7 62.3" fill="none" stroke="#3d2d25" stroke-width="1.4" stroke-linecap="round" stroke-opacity="0.85"/><path d="M40.9 64.9C41.8 65.1 44.4 66.3 46.1 66.2C47.8 66.2 50.4 65.0 51.3 64.7" fill="none" stroke="#8e6856" stroke-width="0.8" stroke-linecap="round" stroke-opacity="0.45"/><ellipse cx="78.1" cy="60.9" rx="7.9" ry="4.3" fill="#99705d" fill-opacity="0.7"/><ellipse cx="78.1" cy="61.6" rx="4.7" ry="1.6" fill="#e9dcd6"/><ellipse cx="78.1" cy="61.6" rx="2.8" ry="2.1" fill="#5a3418"/><circle cx="78.1" cy="61.6" r="1.0" fill="#1c1412"/><path d="M72.4 62.0C73.0 61.6 74.7 60.0 76.0 59.6C77.3 59.3 79.1 59.4 80.4 59.7C81.7 60.1 83.2 61.5 83.7 61.8" fill="none" stroke="#3d2d25" stroke-width="1.4" stroke-linecap="round" stroke-opacity="0.85"/><path d="M72.9 64.4C73.8 64.7 76.4 65.8 78.1 65.8C79.8 65.7 82.4 64.5 83.3 64.3" fill="none" stroke="#8e6856" stroke-width="0.8" stroke-linecap="round" stroke-opacity="0.45"/><path d="M32.9 55.5C34.5 54.8 38.7 51.6 42.3 51.5C45.9 51.3 52.5 54.2 54.6 54.8" fill="none" stroke="#3f3530" stroke-width="2.8" stroke-linecap="round"/><path d="M68.7 54.8C70.6 54.1 76.2 50.9 80.0 51.0C83.7 51.1 89.4 54.8 91.3 55.5" fill="none" stroke="#3f3530" stroke-width="2.8" stroke-linecap="round"/><ellipse cx="61.1" cy="78.1" rx="3.4" ry="8.9" fill="#e5bda9" fill-opacity="0.5"/><path d="M53.6 66.8C53.7 68.0 54.1 71.6 53.8 74.3C53.5 77.0 52.1 81.5 51.7 83.0" fill="none" stroke="#99705d" stroke-width="3.2" stroke-linecap="round" stroke-opacity="0.22"/><path d="M51.7 82.0C52.0 82.6 52.1 84.6 53.2 85.2C54.2 85.9 56.5 85.7 57.9 86.0C59.2 86.3 60.1 87.1 61.1 87.1C62.2 87.1 63.1 86.3 64.4 86.0C65.8 85.7 68.1 85.9 69.1 85.2C70.2 84.6 70.3 82.6 70.6 82.0" fill="none" stroke="#785849" stroke-width="1.4" stroke-linecap="round" stroke-opacity="0.8"/><ellipse cx="56.9" cy="85.6" rx="1.6" ry="0.8" fill="#574035" fill-opacity="0.8"/><ellipse cx="65.4" cy="85.6" rx="1.6" ry="0.8" fill="#574035" fill-opacity="0.8"/><path d="M50.3 83.4C49.6 84.9 47.4 89.5 46.1 92.4C44.8 95.3 43.1 99.4 42.5 100.8" fill="none" stroke="#876352" stroke-width="1.9" stroke-linecap="round" stroke-opacity="0.07"/><path d="M72.0 83.4C72.7 84.9 74.9 89.5 76.2 92.4C77.5 95.3 79.2 99.4 79.8 100.8" fill="none" stroke="#876352" stroke-width="1.9" stroke-linecap="round" stroke-opacity="0.07"/><path d="M46.1 99.0C47.7 98.6 56.1 100.3 61.1 100.3C66.2 100.3 74.6 98.6 76.2 99.0C77.8 99.3 73.3 101.1 70.8 102.4C68.3 103.7 64.4 106.8 61.1 106.8C57.9 106.8 54.0 103.7 51.5 102.4C49.0 101.1 44.5 99.3 46.1 99.0Z" fill="#c47a72"/><path d="M47.2 99.7C48.7 99.5 56.5 100.8 61.1 100.8C65.8 100.8 73.6 99.5 75.1 99.7C76.6 99.9 72.5 101.3 70.2 102.0C67.9 102.7 64.2 103.7 61.1 103.7C58.1 103.7 54.4 102.7 52.1 102.0C49.8 101.3 45.7 99.9 47.2 99.7Z" fill="#5a2c2a"/><path d="M48.5 100.1C49.8 100.0 56.9 101.2 61.1 101.2C65.4 101.2 72.5 100.0 73.8 100.1C75.0 100.2 70.8 101.3 68.7 101.8C66.6 102.3 63.7 103.1 61.1 103.1C58.6 103.1 55.7 102.3 53.6 101.8C51.5 101.3 47.3 100.2 48.5 100.1Z" fill="#efe8de"/><path d="M45.3 98.4C46.7 98.6 51.0 99.1 53.6 99.3C56.3 99.6 58.6 99.7 61.1 99.7C63.7 99.7 66.0 99.6 68.7 99.3C71.3 99.1 75.6 98.6 77.0 98.4" fill="none" stroke="#ac6b64" stroke-width="1.4" stroke-linecap="round"/><ellipse cx="61.1" cy="109.8" rx="9.0" ry="1.3" fill="#a47863" fill-opacity="0.35"/><path d="M27.3 73.4C26.2 72.3 22.9 65.9 21.6 61.1C20.4 56.4 19.4 50.3 19.8 45.2C20.1 40.0 21.3 34.7 23.5 30.1C25.7 25.6 29.3 21.3 32.9 17.9C36.5 14.4 40.5 11.6 45.2 9.4C49.9 7.2 55.8 5.3 61.1 4.7C66.5 4.1 72.3 4.4 77.1 5.6C82.0 6.9 86.4 9.3 90.3 12.2C94.2 15.2 97.8 19.3 100.7 23.5C103.5 27.8 105.7 32.8 107.2 37.6C108.8 42.5 110.1 48.3 110.1 52.7C110.1 57.1 108.7 60.8 107.2 64.0C105.8 67.1 103.0 72.8 101.6 71.5C100.2 70.2 99.7 61.3 98.8 56.4C97.8 51.6 97.4 46.6 96.0 42.3C94.5 38.1 93.0 33.7 90.3 31.0C87.6 28.4 84.0 27.3 80.0 26.3C75.9 25.4 70.6 25.4 65.9 25.4C61.1 25.4 56.1 25.9 51.7 26.3C47.4 26.8 42.5 26.7 39.5 28.2C36.5 29.8 35.3 32.6 33.9 35.7C32.5 38.9 31.8 43.3 31.0 47.0C30.3 50.8 29.6 54.9 29.2 58.3C28.7 61.8 28.5 65.2 28.2 67.7C27.9 70.2 28.4 74.5 27.3 73.4Z" fill="url(#f7h)" fill-opacity="1.00"/></g></svg></div><div class="badge" style="background:#9e9e9e"><svg width="32.5" height="32.5" viewBox="0 0 32.5 32.5"><text transform="translate(9.55,24.10) scale(0.2218,0.2151)" font-family="Liberation Sans, Arial, sans-serif" font-weight="700" font-size="100" fill="#fff">?</text></svg></div><div class="name">Günther SIDL</div></div></div>
<div class="card" style="left:1642.0px;top:482px;width:350.4px"><div class="plogo" style="left:153.7px;width:43px"><svg width="43" height="44" viewBox="0 0 43 44" role="img" aria-label="Die Grünen"><title>Die Grünen</title><path d="M36.4 6.4 C33 6.3 30.5 6.5 27.9 6.9 C24.5 8 21.5 9.2 19 10.4 C15.5 12 12.5 13.6 10.1 15.3 C8 16.8 6.6 18.2 6.35 19.7 C6.1 21.8 7 23.4 8.8 24.4 C11 25.4 14 25.6 16.8 25.6 L26.6 25.5 C28 24.6 29.2 23.6 30.1 22.4 C31.4 21 32.4 19.5 33.2 18 C33.8 17 34.2 16.2 34.1 15.5 C33.6 14.6 32.8 14.2 31.9 14.2 C29.8 14.4 27.7 15 25.7 15.7 C23.3 16.2 20.9 16.7 18.6 17.3 L19 18.9 C21 18.6 22.9 18.5 24.8 18.6 C26.2 18.7 27.5 18.8 28.8 19.1 C28 20.3 27 21.3 25.7 22 C23.5 22.5 21.2 22.7 19 22.6 C17 22.6 15 22.4 13.2 22 C11.8 21.6 11 21 10.8 20.2 C10.9 19.2 11.5 18.3 12.4 17.5 C13.9 16.2 15.7 15 17.7 14 C20.2 12.7 22.9 11.5 25.7 10.4 C28 9.4 30.4 8.5 32.8 7.7 Z" fill="#86b724"/><path d="M6.35 27.1 L36.4 25.5 L36.8 31.5 L6.35 34 Z" fill="#86b724"/><text transform="translate(7.6,32.9) rotate(-3.6)" font-family="Liberation Sans, Arial, sans-serif" font-weight="700" font-size="5.2" fill="#fff" textLength="27.4" lengthAdjust="spacingAndGlyphs">DIE GRÜNEN</text><path d="M6.6 34.6 L37 32.2 L37.2 35.3 L7 38.2 Z" fill="#e5007d"/><path d="M21 35.3 L35.6 34.1" stroke="#fff" stroke-opacity="0.55" stroke-width="0.7" stroke-dasharray="1.6 0.7"/></svg></div><div class="mem" style="left:20.0px"><div class="photo"><svg viewBox="0 0 127 127" width="127" height="127"><defs><filter id="f8b" x="-10%" y="-10%" width="120%" height="120%"><feGaussianBlur stdDeviation="0.85"/></filter><filter id="f8c" x="-30%" y="-30%" width="160%" height="160%"><feGaussianBlur stdDeviation="3"/></filter><radialGradient id="f8g" gradientUnits="userSpaceOnUse" cx="61.0" cy="67.3" r="65.3"><stop offset="0" stop-color="#e6c3b3"/><stop offset="0.6" stop-color="#e3bba8"/><stop offset="1" stop-color="#b19183"/></radialGradient><linearGradient id="f8h" x1="0" y1="0" x2="1" y2="1"><stop offset="0" stop-color="#786d66"/><stop offset="0.5" stop-color="#5f5249"/><stop offset="1" stop-color="#4a3f38"/></linearGradient></defs><rect width="127" height="127" fill="#f4f4f8"/><g filter="url(#f8b)"><path d="M40.5 117.6 L88.4 117.6 L94.1 131.7 L35.7 131.7Z" fill="#a78a7c"/><path d="M16.0 65.9C16.7 62.7 23.0 63.3 24.9 67.7C26.9 72.1 28.5 89.1 27.8 92.2C27.0 95.3 22.7 90.9 20.7 86.5C18.7 82.2 15.3 69.0 16.0 65.9Z" fill="#d0ac9a"/><path d="M101.1 65.9C102.6 61.1 108.3 59.9 109.1 63.0C110.0 66.2 107.8 80.0 106.3 84.7C104.8 89.4 101.1 94.4 100.2 91.3C99.3 88.1 99.6 70.6 101.1 65.9Z" fill="#d0ac9a"/><clipPath id="f8k"><rect x="0" y="0" width="127" height="75.3"/></clipPath><path d="M64.9 22.6C70.4 22.6 75.4 23.8 80.0 26.3C84.5 28.8 89.2 33.4 92.2 37.6C95.2 41.9 96.4 46.3 97.8 51.7C99.2 57.2 100.2 64.3 100.7 70.6C101.1 76.8 101.4 83.9 100.7 89.4C99.9 94.9 98.2 99.1 96.0 103.5C93.8 107.9 90.9 112.1 87.5 115.7C84.0 119.3 79.2 123.1 75.3 125.1C71.3 127.2 67.7 127.9 64.0 127.9C60.2 127.9 56.4 127.2 52.7 125.1C48.9 123.1 44.7 119.6 41.4 115.7C38.1 111.8 35.1 106.8 32.9 101.6C30.7 96.4 29.5 90.6 28.2 84.7C27.0 78.7 25.4 71.8 25.4 65.9C25.4 59.9 26.7 53.9 28.2 48.9C29.8 43.9 31.7 39.5 34.8 35.7C37.9 32.0 42.0 28.5 47.0 26.3C52.1 24.1 59.4 22.6 64.9 22.6Z" fill="#e3bba8" stroke="#e3bba8" stroke-width="6" stroke-linejoin="round" clip-path="url(#f8k)"/><path d="M64.9 22.6C70.4 22.6 75.4 23.8 80.0 26.3C84.5 28.8 89.2 33.4 92.2 37.6C95.2 41.9 96.4 46.3 97.8 51.7C99.2 57.2 100.2 64.3 100.7 70.6C101.1 76.8 101.4 83.9 100.7 89.4C99.9 94.9 98.2 99.1 96.0 103.5C93.8 107.9 90.9 112.1 87.5 115.7C84.0 119.3 79.2 123.1 75.3 125.1C71.3 127.2 67.7 127.9 64.0 127.9C60.2 127.9 56.4 127.2 52.7 125.1C48.9 123.1 44.7 119.6 41.4 115.7C38.1 111.8 35.1 106.8 32.9 101.6C30.7 96.4 29.5 90.6 28.2 84.7C27.0 78.7 25.4 71.8 25.4 65.9C25.4 59.9 26.7 53.9 28.2 48.9C29.8 43.9 31.7 39.5 34.8 35.7C37.9 32.0 42.0 28.5 47.0 26.3C52.1 24.1 59.4 22.6 64.9 22.6Z" fill="url(#f8g)"/><ellipse cx="43.3" cy="94.1" rx="5.6" ry="6.6" fill="#dca08e" fill-opacity="0.45" filter="url(#f8c)"/><ellipse cx="84.7" cy="94.1" rx="5.6" ry="6.6" fill="#dca08e" fill-opacity="0.45" filter="url(#f8c)"/><ellipse cx="46.1" cy="70.7" rx="7.9" ry="4.3" fill="#9e8275" fill-opacity="0.7"/><ellipse cx="46.1" cy="71.5" rx="4.7" ry="1.6" fill="#e9dcd6"/><ellipse cx="46.1" cy="71.5" rx="2.8" ry="2.1" fill="#4e5860"/><circle cx="46.1" cy="71.5" r="1.0" fill="#1c1412"/><path d="M40.5 71.9C41.0 71.5 42.7 69.9 44.0 69.5C45.4 69.1 47.2 69.3 48.4 69.6C49.7 70.0 51.2 71.3 51.7 71.7" fill="none" stroke="#3f342f" stroke-width="1.4" stroke-linecap="round" stroke-opacity="0.85"/><path d="M40.9 74.3C41.8 74.5 44.4 75.7 46.1 75.6C47.8 75.6 50.4 74.4 51.3 74.1" fill="none" stroke="#93796d" stroke-width="0.8" stroke-linecap="round" stroke-opacity="0.45"/><ellipse cx="81.8" cy="69.8" rx="7.9" ry="4.3" fill="#9e8275" fill-opacity="0.7"/><ellipse cx="81.8" cy="70.6" rx="4.7" ry="1.6" fill="#e9dcd6"/><ellipse cx="81.8" cy="70.6" rx="2.8" ry="2.1" fill="#4e5860"/><circle cx="81.8" cy="70.6" r="1.0" fill="#1c1412"/><path d="M76.2 70.9C76.8 70.5 78.4 69.0 79.8 68.6C81.1 68.2 82.9 68.3 84.2 68.7C85.5 69.0 86.9 70.4 87.5 70.7" fill="none" stroke="#3f342f" stroke-width="1.4" stroke-linecap="round" stroke-opacity="0.85"/><path d="M76.7 73.4C77.5 73.6 80.1 74.7 81.8 74.7C83.6 74.7 86.2 73.4 87.0 73.2" fill="none" stroke="#93796d" stroke-width="0.8" stroke-linecap="round" stroke-opacity="0.45"/><path d="M32.9 64.0C35.0 63.4 41.2 60.7 45.2 60.4C49.1 60.1 54.6 62.0 56.4 62.3" fill="none" stroke="#5a4a40" stroke-width="2.3" stroke-linecap="round"/><path d="M72.4 61.3C74.5 60.7 81.1 57.9 84.7 57.6C88.3 57.3 92.5 59.1 94.1 59.5" fill="none" stroke="#5a4a40" stroke-width="2.3" stroke-linecap="round"/><ellipse cx="64.9" cy="87.5" rx="3.2" ry="8.9" fill="#ebcfc2" fill-opacity="0.5"/><path d="M57.8 76.2C57.8 77.5 58.2 81.0 57.9 83.7C57.6 86.4 56.3 90.9 56.0 92.4" fill="none" stroke="#9e8275" stroke-width="3.2" stroke-linecap="round" stroke-opacity="0.22"/><path d="M56.0 91.4C56.2 92.0 56.3 94.0 57.3 94.6C58.3 95.3 60.5 95.1 61.8 95.4C63.0 95.7 63.9 96.5 64.9 96.5C66.0 96.5 66.8 95.7 68.0 95.4C69.3 95.1 71.5 95.3 72.5 94.6C73.5 94.0 73.6 92.0 73.8 91.4" fill="none" stroke="#7c665c" stroke-width="1.4" stroke-linecap="round" stroke-opacity="0.8"/><ellipse cx="60.9" cy="95.0" rx="1.6" ry="0.8" fill="#5a4a43" fill-opacity="0.8"/><ellipse cx="68.9" cy="95.0" rx="1.6" ry="0.8" fill="#5a4a43" fill-opacity="0.8"/><path d="M54.6 92.9C53.9 94.2 51.8 98.1 50.4 100.7C49.0 103.2 47.0 106.8 46.3 108.0" fill="none" stroke="#8c7368" stroke-width="1.9" stroke-linecap="round" stroke-opacity="0.07"/><path d="M75.2 92.9C75.9 94.2 78.0 98.1 79.4 100.7C80.8 103.2 82.9 106.8 83.5 108.0" fill="none" stroke="#8c7368" stroke-width="1.9" stroke-linecap="round" stroke-opacity="0.07"/><path d="M49.9 106.1C50.8 104.9 58.6 104.2 61.1 104.0C63.7 103.9 63.7 105.0 64.9 105.0C66.2 105.0 66.2 103.9 68.7 104.0C71.2 104.2 79.0 104.9 80.0 106.1C80.9 107.4 76.8 110.2 74.3 111.6C71.8 112.9 68.0 114.1 64.9 114.1C61.8 114.1 58.0 112.9 55.5 111.6C53.0 110.2 48.9 107.4 49.9 106.1Z" fill="#9c4650"/><path d="M49.9 106.1C52.4 106.3 59.9 107.2 64.9 107.2C69.9 107.2 77.5 106.3 80.0 106.1" fill="none" stroke="#6d3138" stroke-width="0.8" stroke-linecap="round"/><ellipse cx="64.9" cy="116.9" rx="9.0" ry="1.3" fill="#aa8c7e" fill-opacity="0.35"/><path d="M17.9 67.7C16.3 64.6 12.5 58.0 12.2 52.7C11.9 47.4 13.8 40.8 16.0 35.7C18.2 30.7 21.8 26.3 25.4 22.6C29.0 18.8 33.2 15.7 37.6 13.2C42.0 10.7 47.0 8.8 51.7 7.5C56.4 6.3 61.0 5.5 65.9 5.6C70.7 5.8 76.2 6.6 80.9 8.5C85.6 10.3 90.6 13.6 94.1 16.9C97.5 20.2 99.7 24.0 101.6 28.2C103.5 32.5 104.4 37.6 105.4 42.3C106.3 47.0 107.2 52.5 107.2 56.4C107.2 60.4 106.6 65.5 105.4 65.9C104.1 66.2 101.1 61.9 99.7 58.3C98.3 54.7 98.6 48.4 96.9 44.2C95.2 40.0 92.5 36.1 89.4 32.9C86.2 29.8 82.2 27.1 78.1 25.4C74.0 23.7 69.1 22.7 64.9 22.6C60.7 22.4 56.8 23.2 52.7 24.5C48.6 25.7 43.9 27.6 40.5 30.1C37.0 32.6 34.0 35.7 32.0 39.5C29.9 43.3 29.3 48.3 28.2 52.7C27.1 57.1 26.5 62.7 25.4 65.9C24.3 69.0 22.9 71.2 21.6 71.5C20.4 71.8 19.4 70.9 17.9 67.7Z" fill="url(#f8h)" fill-opacity="1.00"/></g></svg></div><div class="badge" style="background:#ff9800"><svg width="32.5" height="32.5" viewBox="0 0 32.5 32.5"><rect x="10.8" y="15.25" width="10.1" height="1.85" fill="#fff"/></svg></div><div class="name">Lena <span class="ln">SCHILLING</span></div></div><div class="mem" style="left:171.2px"><div class="photo"><svg viewBox="0 0 127 127" width="127" height="127"><defs><filter id="f9b" x="-10%" y="-10%" width="120%" height="120%"><feGaussianBlur stdDeviation="0.85"/></filter><filter id="f9c" x="-30%" y="-30%" width="160%" height="160%"><feGaussianBlur stdDeviation="3"/></filter><radialGradient id="f9g" gradientUnits="userSpaceOnUse" cx="60.6" cy="72.4" r="60.1"><stop offset="0" stop-color="#e0b5a5"/><stop offset="0.6" stop-color="#dcab98"/><stop offset="1" stop-color="#ab8576"/></radialGradient><linearGradient id="f9h" x1="0" y1="0" x2="1" y2="1"><stop offset="0" stop-color="#937c6e"/><stop offset="0.5" stop-color="#7f6453"/><stop offset="1" stop-color="#634e40"/></linearGradient></defs><rect width="127" height="127" fill="#2e481b"/><circle cx="11.3" cy="65.9" r="22.6" fill="#41602a" filter="url(#f9c)"/><circle cx="98.8" cy="11.3" r="28.2" fill="#1c300e" filter="url(#f9c)"/><circle cx="117.6" cy="61.1" r="18.8" fill="#3d5f28" filter="url(#f9c)"/><circle cx="14.1" cy="23.5" r="24.5" fill="#263d16" filter="url(#f9c)"/><circle cx="108.2" cy="94.1" r="20.7" fill="#263d16" filter="url(#f9c)"/><circle cx="7.5" cy="94.1" r="14.1" fill="#4a6c2c" filter="url(#f9c)"/><g filter="url(#f9b)"><path d="M37.6 112.9 L89.4 112.9 L94.1 131.7 L35.7 131.7Z" fill="#a27e70"/><path d="M18.8 131.7C15.5 128.6 22.0 114.6 25.4 112.9C28.8 111.2 36.2 118.2 39.5 121.4C42.8 124.5 48.6 130.0 45.2 131.7C41.7 133.4 22.1 134.8 18.8 131.7Z" fill="#b8cce6"/><path d="M19.8 64.0C20.6 60.8 27.0 61.6 28.7 65.9C30.3 70.1 30.5 86.2 29.6 89.4C28.8 92.5 25.2 88.9 23.5 84.7C21.9 80.4 18.9 67.1 19.8 64.0Z" fill="#ca9d8b"/><clipPath id="f9k"><rect x="0" y="0" width="127" height="70.6"/></clipPath><path d="M58.3 32.0C63.8 31.0 70.4 32.0 75.3 33.9C80.1 35.7 84.4 38.7 87.5 43.3C90.6 47.8 92.7 55.0 94.1 61.1C95.5 67.3 96.1 73.7 96.0 80.0C95.8 86.2 94.5 93.3 93.1 98.8C91.7 104.3 89.7 108.5 87.5 112.9C85.3 117.3 83.6 122.5 80.0 125.1C76.4 127.8 70.4 128.7 65.9 128.9C61.3 129.0 56.6 128.3 52.7 126.1C48.8 123.9 45.5 119.8 42.3 115.7C39.2 111.6 36.1 106.8 33.9 101.6C31.7 96.4 29.9 90.6 29.2 84.7C28.4 78.7 28.4 71.5 29.2 65.9C29.9 60.2 31.7 55.2 33.9 50.8C36.1 46.4 38.3 42.6 42.3 39.5C46.4 36.4 52.8 32.9 58.3 32.0Z" fill="#dcab98" stroke="#dcab98" stroke-width="6" stroke-linejoin="round" clip-path="url(#f9k)"/><path d="M58.3 32.0C63.8 31.0 70.4 32.0 75.3 33.9C80.1 35.7 84.4 38.7 87.5 43.3C90.6 47.8 92.7 55.0 94.1 61.1C95.5 67.3 96.1 73.7 96.0 80.0C95.8 86.2 94.5 93.3 93.1 98.8C91.7 104.3 89.7 108.5 87.5 112.9C85.3 117.3 83.6 122.5 80.0 125.1C76.4 127.8 70.4 128.7 65.9 128.9C61.3 129.0 56.6 128.3 52.7 126.1C48.8 123.9 45.5 119.8 42.3 115.7C39.2 111.6 36.1 106.8 33.9 101.6C31.7 96.4 29.9 90.6 29.2 84.7C28.4 78.7 28.4 71.5 29.2 65.9C29.9 60.2 31.7 55.2 33.9 50.8C36.1 46.4 38.3 42.6 42.3 39.5C46.4 36.4 52.8 32.9 58.3 32.0Z" fill="url(#f9g)"/><ellipse cx="47.0" cy="86.5" rx="5.6" ry="6.6" fill="#d79684" fill-opacity="0.45" filter="url(#f9c)"/><ellipse cx="83.7" cy="86.5" rx="5.6" ry="6.6" fill="#d79684" fill-opacity="0.45" filter="url(#f9c)"/><path d="M46.1 99.7C46.7 98.0 49.4 95.5 52.7 94.1C56.0 92.6 61.5 91.1 65.9 91.1C70.2 91.1 75.9 92.6 79.0 94.1C82.2 95.5 84.0 98.0 84.7 99.7C85.3 101.4 83.7 104.6 82.8 104.4C81.8 104.3 81.8 100.0 79.0 98.8C76.2 97.5 70.2 96.9 65.9 96.9C61.5 96.9 55.5 97.5 52.7 98.8C49.9 100.0 50.0 104.3 48.9 104.4C47.8 104.6 45.5 101.4 46.1 99.7Z" fill="#7a5a48" fill-opacity="0.95"/><path d="M46.1 99.7C46.9 97.8 49.7 98.6 50.8 101.6C51.9 104.6 53.0 114.1 52.7 117.6C52.4 121.0 50.0 123.1 48.9 122.3C47.8 121.5 46.6 116.7 46.1 112.9C45.6 109.1 45.3 101.6 46.1 99.7Z" fill="#7a5a48" fill-opacity="0.90"/><path d="M84.7 99.7C83.8 97.8 80.9 98.6 80.0 101.6C79.0 104.6 78.6 114.3 79.0 117.6C79.5 120.9 81.8 122.1 82.8 121.4C83.8 120.6 84.8 116.5 85.1 112.9C85.5 109.3 85.5 101.6 84.7 99.7Z" fill="#7a5a48" fill-opacity="0.90"/><path d="M47.0 115.7C47.8 113.0 53.3 111.9 56.4 111.0C59.6 110.1 62.7 110.1 65.9 110.1C69.0 110.1 72.3 110.1 75.3 111.0C78.2 111.9 82.8 113.2 83.7 115.7C84.7 118.2 83.9 123.6 80.9 126.1C77.9 128.6 70.7 130.6 65.9 130.8C61.0 130.9 54.9 129.5 51.7 127.0C48.6 124.5 46.3 118.4 47.0 115.7Z" fill="#8c8078" fill-opacity="0.75"/><ellipse cx="49.9" cy="66.0" rx="7.9" ry="4.3" fill="#9a776a" fill-opacity="0.7"/><ellipse cx="49.9" cy="66.8" rx="4.7" ry="1.6" fill="#e9dcd6"/><ellipse cx="49.9" cy="66.8" rx="2.8" ry="2.1" fill="#4a4a50"/><circle cx="49.9" cy="66.8" r="1.0" fill="#1c1412"/><path d="M44.2 67.2C44.8 66.8 46.5 65.2 47.8 64.8C49.1 64.4 50.9 64.6 52.2 64.9C53.5 65.3 55.0 66.6 55.5 67.0" fill="none" stroke="#3d2f2a" stroke-width="1.4" stroke-linecap="round" stroke-opacity="0.85"/><path d="M44.7 69.6C45.5 69.8 48.1 71.0 49.9 70.9C51.6 70.9 54.2 69.7 55.0 69.4" fill="none" stroke="#8f6f62" stroke-width="0.8" stroke-linecap="round" stroke-opacity="0.45"/><ellipse cx="80.9" cy="66.0" rx="7.9" ry="4.3" fill="#9a776a" fill-opacity="0.7"/><ellipse cx="80.9" cy="66.8" rx="4.7" ry="1.6" fill="#e9dcd6"/><ellipse cx="80.9" cy="66.8" rx="2.8" ry="2.1" fill="#4a4a50"/><circle cx="80.9" cy="66.8" r="1.0" fill="#1c1412"/><path d="M75.3 67.2C75.9 66.8 77.5 65.2 78.8 64.8C80.2 64.4 82.0 64.6 83.3 64.9C84.5 65.3 86.0 66.6 86.5 67.0" fill="none" stroke="#3d2f2a" stroke-width="1.4" stroke-linecap="round" stroke-opacity="0.85"/><path d="M75.7 69.6C76.6 69.8 79.2 71.0 80.9 70.9C82.6 70.9 85.2 69.7 86.1 69.4" fill="none" stroke="#8f6f62" stroke-width="0.8" stroke-linecap="round" stroke-opacity="0.45"/><path d="M42.3 60.4C43.7 60.1 48.1 58.5 50.8 58.5C53.5 58.5 57.1 60.1 58.3 60.4" fill="none" stroke="#9a7a62" stroke-width="2.3" stroke-linecap="round"/><path d="M73.4 60.4C74.8 60.1 79.0 58.4 81.8 58.5C84.7 58.7 88.9 60.9 90.3 61.3" fill="none" stroke="#9a7a62" stroke-width="2.3" stroke-linecap="round"/><ellipse cx="65.9" cy="80.0" rx="3.4" ry="8.9" fill="#e6c4b6" fill-opacity="0.5"/><path d="M58.3 68.7C58.4 69.9 58.8 73.2 58.5 76.2C58.2 79.2 56.8 84.8 56.4 86.5" fill="none" stroke="#9a776a" stroke-width="3.2" stroke-linecap="round" stroke-opacity="0.22"/><path d="M56.4 85.6C56.7 86.1 56.8 88.1 57.9 88.8C58.9 89.5 61.2 89.2 62.6 89.6C63.9 89.9 64.8 90.7 65.9 90.7C66.9 90.7 67.8 89.9 69.1 89.6C70.5 89.2 72.8 89.5 73.8 88.8C74.9 88.1 75.0 86.1 75.3 85.6" fill="none" stroke="#795e53" stroke-width="1.4" stroke-linecap="round" stroke-opacity="0.8"/><ellipse cx="61.6" cy="89.2" rx="1.6" ry="0.8" fill="#58443c" fill-opacity="0.8"/><ellipse cx="70.1" cy="89.2" rx="1.6" ry="0.8" fill="#58443c" fill-opacity="0.8"/><path d="M55.0 87.0C54.3 88.4 51.6 92.7 50.8 95.4C50.0 98.1 50.2 102.0 50.0 103.3" fill="none" stroke="#886a5e" stroke-width="1.9" stroke-linecap="round" stroke-opacity="0.30"/><path d="M76.7 87.0C77.4 88.4 79.8 92.7 80.9 95.4C82.0 98.1 83.1 102.0 83.5 103.3" fill="none" stroke="#886a5e" stroke-width="1.9" stroke-linecap="round" stroke-opacity="0.30"/><path d="M53.6 101.4C54.2 100.6 60.8 100.2 63.0 100.1C65.2 100.0 65.5 100.8 66.8 100.8C68.0 100.8 68.4 100.0 70.6 100.1C72.8 100.2 79.3 100.6 80.0 101.4C80.6 102.3 76.5 104.3 74.3 105.2C72.1 106.1 69.3 106.9 66.8 106.9C64.3 106.9 61.5 106.1 59.3 105.2C57.1 104.3 53.0 102.3 53.6 101.4Z" fill="#c4707a" fill-opacity="0.85"/><path d="M52.7 100.8C53.9 101.1 57.9 101.9 60.2 102.2C62.6 102.4 64.6 102.5 66.8 102.5C69.0 102.5 71.0 102.4 73.4 102.2C75.7 101.9 79.6 101.1 80.9 100.8" fill="none" stroke="#62383d" stroke-width="1.1" stroke-linecap="round"/><ellipse cx="66.8" cy="112.2" rx="7.9" ry="1.3" fill="#a58072" fill-opacity="0.35"/><path d="M21.6 84.7C20.2 80.7 19.4 72.1 18.8 65.9C18.2 59.6 17.1 52.8 17.9 47.0C18.7 41.2 20.7 35.9 23.5 31.0C26.3 26.2 30.6 21.6 34.8 17.9C39.0 14.1 44.1 10.8 48.9 8.5C53.8 6.1 59.3 4.2 64.0 3.8C68.7 3.3 72.9 3.8 77.1 5.6C81.4 7.5 86.1 11.3 89.4 15.1C92.7 18.8 95.0 23.7 96.9 28.2C98.8 32.8 99.9 36.8 100.7 42.3C101.4 47.8 101.6 54.9 101.6 61.1C101.6 67.4 101.3 75.3 100.7 80.0C100.0 84.7 98.8 90.2 97.8 89.4C96.9 88.6 95.6 80.0 95.0 75.3C94.4 70.6 94.9 65.9 94.1 61.1C93.3 56.4 92.2 51.0 90.3 47.0C88.4 43.1 85.9 40.0 82.8 37.6C79.6 35.3 75.6 33.9 71.5 32.9C67.4 32.0 62.4 31.5 58.3 32.0C54.2 32.5 50.2 33.9 47.0 35.7C43.9 37.6 41.7 40.5 39.5 43.3C37.3 46.1 35.4 48.9 33.9 52.7C32.3 56.4 31.0 61.3 30.1 65.9C29.2 70.4 28.7 76.0 28.2 80.0C27.8 83.9 28.4 88.6 27.3 89.4C26.2 90.2 23.0 88.6 21.6 84.7Z" fill="url(#f9h)" fill-opacity="1.00"/></g></svg></div><div class="badge" style="background:#ff9800"><svg width="32.5" height="32.5" viewBox="0 0 32.5 32.5"><rect x="10.8" y="15.25" width="10.1" height="1.85" fill="#fff"/></svg></div><div class="name">Thomas <span class="ln">WAITZ</span></div></div></div>
<div class="card" style="left:300.4px;top:892px;width:955.2px"><div class="plogo" style="left:434.1px;width:87px"><svg width="87" height="44" viewBox="0 0 87 44" role="img" aria-label="FPÖ"><title>FPÖ</title><defs><clipPath id="fpoclip"><path clip-rule="evenodd" d="M0 7.6 H87 V44 H0 Z M63.8 7.6 L69.2 7.6 L67.7 14.4 L65.3 14.4 Z"/></clipPath></defs><text transform="translate(7.50,35.20) scale(0.4000,0.4076)" font-family="Liberation Serif, Times New Roman, serif" font-weight="700" font-size="100" fill="#5b80b8">F</text><text transform="translate(30.42,35.20) scale(0.3912,0.4076)" font-family="Liberation Serif, Times New Roman, serif" font-weight="700" font-size="100" fill="#5b80b8">P</text><g clip-path="url(#fpoclip)"><text transform="translate(52.05,35.69) scale(0.3691,0.4149)" font-family="Liberation Serif, Times New Roman, serif" font-weight="700" font-size="100" fill="#dc5560">Ö</text></g></svg></div><div class="mem" style="left:20.0px"><div class="photo"><svg viewBox="0 0 127 127" width="127" height="127"><defs><filter id="f10b" x="-10%" y="-10%" width="120%" height="120%"><feGaussianBlur stdDeviation="0.85"/></filter><filter id="f10c" x="-30%" y="-30%" width="160%" height="160%"><feGaussianBlur stdDeviation="3"/></filter><radialGradient id="f10g" gradientUnits="userSpaceOnUse" cx="64.3" cy="70.6" r="61.2"><stop offset="0" stop-color="#d0a28b"/><stop offset="0.6" stop-color="#c9957a"/><stop offset="1" stop-color="#9c745f"/></radialGradient><linearGradient id="f10h" x1="0" y1="0" x2="1" y2="1"><stop offset="0" stop-color="#856f61"/><stop offset="0.5" stop-color="#6e5444"/><stop offset="1" stop-color="#554135"/></linearGradient></defs><rect width="127" height="127" fill="#f0f1f7"/><g filter="url(#f10b)"><path d="M42.3 112.9 L89.4 112.9 L94.1 131.7 L39.5 131.7Z" fill="#946e5a"/><path d="M35.7 131.7C34.5 130.4 37.6 124.2 39.5 124.2C41.4 124.2 47.7 130.4 47.0 131.7C46.4 133.0 37.0 133.0 35.7 131.7Z" fill="#3a3230"/><clipPath id="f10k"><rect x="0" y="0" width="127" height="116.7"/></clipPath><path d="M69.6 29.2C73.4 29.5 77.5 31.8 80.9 34.8C84.4 37.8 87.6 42.2 90.3 47.0C93.0 51.9 95.3 58.5 96.9 64.0C98.5 69.5 99.4 74.9 99.7 80.0C100.0 85.0 99.7 89.7 98.8 94.1C97.8 98.5 96.1 102.4 94.1 106.3C92.0 110.2 89.7 114.3 86.5 117.6C83.4 120.9 79.0 124.3 75.3 126.1C71.5 127.8 67.7 128.3 64.0 127.9C60.2 127.6 56.1 126.4 52.7 124.2C49.2 122.0 45.9 118.5 43.3 114.8C40.6 111.0 38.4 106.3 36.7 101.6C35.0 96.9 33.2 91.6 32.9 86.5C32.6 81.5 33.6 76.5 34.8 71.5C36.1 66.5 38.1 61.5 40.5 56.4C42.8 51.4 45.9 45.3 48.9 41.4C51.9 37.5 54.9 35.0 58.3 32.9C61.8 30.9 65.9 28.8 69.6 29.2Z" fill="#c9957a" stroke="#c9957a" stroke-width="6" stroke-linejoin="round" clip-path="url(#f10k)"/><path d="M69.6 29.2C73.4 29.5 77.5 31.8 80.9 34.8C84.4 37.8 87.6 42.2 90.3 47.0C93.0 51.9 95.3 58.5 96.9 64.0C98.5 69.5 99.4 74.9 99.7 80.0C100.0 85.0 99.7 89.7 98.8 94.1C97.8 98.5 96.1 102.4 94.1 106.3C92.0 110.2 89.7 114.3 86.5 117.6C83.4 120.9 79.0 124.3 75.3 126.1C71.5 127.8 67.7 128.3 64.0 127.9C60.2 127.6 56.1 126.4 52.7 124.2C49.2 122.0 45.9 118.5 43.3 114.8C40.6 111.0 38.4 106.3 36.7 101.6C35.0 96.9 33.2 91.6 32.9 86.5C32.6 81.5 33.6 76.5 34.8 71.5C36.1 66.5 38.1 61.5 40.5 56.4C42.8 51.4 45.9 45.3 48.9 41.4C51.9 37.5 54.9 35.0 58.3 32.9C61.8 30.9 65.9 28.8 69.6 29.2Z" fill="url(#f10g)"/><ellipse cx="47.0" cy="85.6" rx="5.6" ry="6.6" fill="#cb8870" fill-opacity="0.45" filter="url(#f10c)"/><ellipse cx="82.8" cy="85.6" rx="5.6" ry="6.6" fill="#cb8870" fill-opacity="0.45" filter="url(#f10c)"/><ellipse cx="49.9" cy="65.1" rx="7.9" ry="4.3" fill="#8c6855" fill-opacity="0.7"/><ellipse cx="49.9" cy="65.9" rx="4.7" ry="1.6" fill="#e9dcd6"/><ellipse cx="49.9" cy="65.9" rx="2.8" ry="2.1" fill="#3a2a22"/><circle cx="49.9" cy="65.9" r="1.0" fill="#1c1412"/><path d="M44.2 66.2C44.8 65.8 46.5 64.3 47.8 63.9C49.1 63.5 50.9 63.6 52.2 64.0C53.5 64.3 55.0 65.7 55.5 66.0" fill="none" stroke="#382922" stroke-width="1.4" stroke-linecap="round" stroke-opacity="0.85"/><path d="M44.7 68.7C45.5 68.9 48.1 70.0 49.9 70.0C51.6 70.0 54.2 68.7 55.0 68.5" fill="none" stroke="#82604f" stroke-width="0.8" stroke-linecap="round" stroke-opacity="0.45"/><ellipse cx="80.0" cy="63.2" rx="7.9" ry="4.3" fill="#8c6855" fill-opacity="0.7"/><ellipse cx="80.0" cy="64.0" rx="4.7" ry="1.6" fill="#e9dcd6"/><ellipse cx="80.0" cy="64.0" rx="2.8" ry="2.1" fill="#3a2a22"/><circle cx="80.0" cy="64.0" r="1.0" fill="#1c1412"/><path d="M74.3 64.3C74.9 64.0 76.6 62.4 77.9 62.0C79.2 61.6 81.0 61.7 82.3 62.1C83.6 62.4 85.1 63.8 85.6 64.2" fill="none" stroke="#382922" stroke-width="1.4" stroke-linecap="round" stroke-opacity="0.85"/><path d="M74.8 66.8C75.7 67.0 78.2 68.1 80.0 68.1C81.7 68.1 84.3 66.9 85.1 66.6" fill="none" stroke="#82604f" stroke-width="0.8" stroke-linecap="round" stroke-opacity="0.45"/><path d="M39.5 61.1C41.1 60.7 45.8 58.5 48.9 58.3C52.1 58.2 56.8 59.9 58.3 60.2" fill="none" stroke="#5a4436" stroke-width="2.3" stroke-linecap="round"/><path d="M72.4 58.3C73.8 57.9 77.9 55.7 80.9 55.7C83.9 55.7 88.7 57.9 90.3 58.3" fill="none" stroke="#5a4436" stroke-width="2.3" stroke-linecap="round"/><ellipse cx="65.9" cy="79.0" rx="3.2" ry="8.9" fill="#d9b4a1" fill-opacity="0.5"/><path d="M58.7 67.7C58.7 69.0 59.2 72.7 58.9 75.3C58.6 77.8 57.2 81.7 56.9 83.0" fill="none" stroke="#8c6855" stroke-width="3.2" stroke-linecap="round" stroke-opacity="0.22"/><path d="M56.9 82.0C57.1 82.6 57.3 84.6 58.3 85.2C59.2 85.9 61.5 85.7 62.7 86.0C64.0 86.3 64.8 87.1 65.9 87.1C66.9 87.1 67.7 86.3 69.0 86.0C70.2 85.7 72.5 85.9 73.4 85.2C74.4 84.6 74.6 82.6 74.8 82.0" fill="none" stroke="#6e5143" stroke-width="1.4" stroke-linecap="round" stroke-opacity="0.8"/><ellipse cx="61.8" cy="85.6" rx="1.6" ry="0.8" fill="#503b30" fill-opacity="0.8"/><ellipse cx="69.9" cy="85.6" rx="1.6" ry="0.8" fill="#503b30" fill-opacity="0.8"/><path d="M55.6 83.4C54.9 84.5 52.4 87.8 51.3 89.9C50.3 92.0 49.5 95.0 49.1 96.0" fill="none" stroke="#7c5c4b" stroke-width="1.9" stroke-linecap="round" stroke-opacity="0.30"/><path d="M76.1 83.4C76.8 84.5 78.7 87.8 80.4 89.9C82.1 92.0 85.4 95.0 86.4 96.0" fill="none" stroke="#7c5c4b" stroke-width="1.9" stroke-linecap="round" stroke-opacity="0.30"/><path d="M52.7 94.1C54.3 93.7 62.7 95.4 67.7 95.4C72.8 95.4 81.2 93.7 82.8 94.1C84.4 94.4 79.9 96.2 77.4 97.5C74.9 98.8 70.9 101.9 67.7 101.9C64.5 101.9 60.6 98.8 58.1 97.5C55.6 96.2 51.1 94.4 52.7 94.1Z" fill="#c98880"/><path d="M53.8 94.8C55.3 94.6 63.1 96.0 67.7 96.0C72.4 96.0 80.2 94.6 81.7 94.8C83.2 95.0 79.1 96.5 76.8 97.1C74.4 97.8 70.7 98.8 67.7 98.8C64.7 98.8 61.0 97.8 58.7 97.1C56.4 96.5 52.3 95.0 53.8 94.8Z" fill="#5a2c2a"/><path d="M55.1 95.2C56.4 95.1 63.5 96.3 67.7 96.3C71.9 96.3 79.1 95.1 80.3 95.2C81.6 95.3 77.4 96.4 75.3 96.9C73.2 97.4 70.2 98.2 67.7 98.2C65.2 98.2 62.3 97.4 60.2 96.9C58.1 96.4 53.9 95.3 55.1 95.2Z" fill="#efe8de"/><path d="M51.9 93.5C53.3 93.7 57.6 94.2 60.2 94.5C62.8 94.7 65.2 94.8 67.7 94.8C70.2 94.8 72.6 94.7 75.3 94.5C77.9 94.2 82.2 93.7 83.5 93.5" fill="none" stroke="#b07770" stroke-width="1.4" stroke-linecap="round"/><ellipse cx="67.7" cy="104.9" rx="9.0" ry="1.3" fill="#966f5b" fill-opacity="0.35"/><path d="M32.9 131.7C30.1 129.4 26.7 122.3 23.5 117.6C20.4 112.9 17.1 109.0 14.1 103.5C11.1 98.0 7.2 89.4 5.6 84.7C4.1 80.0 4.1 79.2 4.7 75.3C5.3 71.3 7.5 66.2 9.4 61.1C11.3 56.1 13.3 50.3 16.0 45.2C18.7 40.0 21.8 34.7 25.4 30.1C29.0 25.6 33.2 21.3 37.6 17.9C42.0 14.4 46.7 11.4 51.7 9.4C56.8 7.4 62.6 5.3 67.7 5.6C72.9 6.0 78.4 8.8 82.8 11.3C87.2 13.8 90.6 16.9 94.1 20.7C97.5 24.5 100.3 29.2 103.5 33.9C106.6 38.6 110.1 43.9 112.9 48.9C115.7 53.9 118.5 58.8 120.4 64.0C122.3 69.1 124.6 74.9 124.2 80.0C123.7 85.0 119.5 89.4 117.6 94.1C115.7 98.8 115.2 101.9 112.9 108.2C110.5 114.5 105.8 131.7 103.5 131.7C101.1 131.7 99.2 115.2 98.8 108.2C98.3 101.1 100.7 95.6 100.7 89.4C100.7 83.1 99.9 76.0 98.8 70.6C97.7 65.1 96.0 61.1 94.1 56.4C92.2 51.7 90.2 46.3 87.5 42.3C84.8 38.4 81.1 35.1 78.1 32.9C75.1 30.7 72.6 29.3 69.6 29.2C66.6 29.0 63.3 30.3 60.2 32.0C57.1 33.7 53.5 36.4 50.8 39.5C48.1 42.6 46.3 46.7 44.2 50.8C42.2 54.9 40.1 59.9 38.6 64.0C37.0 68.0 35.7 71.0 34.8 75.3C33.9 79.5 32.9 84.7 32.9 89.4C32.9 94.1 34.0 98.8 34.8 103.5C35.6 108.2 36.7 112.9 37.6 117.6C38.6 122.3 41.2 129.4 40.5 131.7C39.7 134.1 35.7 134.1 32.9 131.7Z" fill="url(#f10h)" fill-opacity="1.00"/><circle cx="32.5" cy="93.1" r="1.9" fill="#efe9e4"/><circle cx="101.6" cy="88.4" r="1.9" fill="#efe9e4"/></g></svg></div><div class="badge" style="background:#f44336"><svg width="32.5" height="32.5" viewBox="0 0 32.5 32.5"><path d="M20.98 8.24 L24.66 11.92 L20.63 15.95 L24.66 19.98 L20.98 23.66 L16.95 19.63 L12.92 23.66 L9.24 19.98 L13.27 15.95 L9.24 11.92 L12.92 8.24 L16.95 12.27Z" fill="#fff"/></svg></div><div class="name">Elisabeth <span class="ln">DIERINGER</span></div></div><div class="mem" style="left:171.2px"><div class="photo"><svg viewBox="0 0 127 127" width="127" height="127"><defs><filter id="f11b" x="-10%" y="-10%" width="120%" height="120%"><feGaussianBlur stdDeviation="0.85"/></filter><filter id="f11c" x="-30%" y="-30%" width="160%" height="160%"><feGaussianBlur stdDeviation="3"/></filter><radialGradient id="f11g" gradientUnits="userSpaceOnUse" cx="63.4" cy="68.7" r="64.7"><stop offset="0" stop-color="#e0b3a0"/><stop offset="0.6" stop-color="#dca892"/><stop offset="1" stop-color="#ab8371"/></radialGradient><linearGradient id="f11h" x1="0" y1="0" x2="1" y2="1"><stop offset="0" stop-color="#a59d96"/><stop offset="0.5" stop-color="#958b82"/><stop offset="1" stop-color="#746c65"/></linearGradient></defs><rect width="127" height="127" fill="#eeeef6"/><g filter="url(#f11b)"><path d="M40.5 117.6 L90.3 117.6 L94.1 131.7 L37.6 131.7Z" fill="#a27c6c"/><path d="M20.2 61.1C20.9 57.7 24.6 57.4 25.9 62.1C27.1 66.8 28.5 85.9 27.8 89.4C27.0 92.8 22.9 87.5 21.6 82.8C20.4 78.1 19.5 64.6 20.2 61.1Z" fill="#ca9a86"/><path d="M105.8 58.3C107.2 52.7 111.9 52.8 112.9 56.4C113.9 60.1 113.3 74.3 111.9 80.0C110.6 85.6 105.9 93.9 104.9 90.3C103.9 86.7 104.5 64.0 105.8 58.3Z" fill="#ca9a86"/><clipPath id="f11k"><rect x="0" y="0" width="127" height="73.4"/></clipPath><path d="M65.9 24.5C72.1 24.5 79.3 24.8 84.7 27.3C90.0 29.8 94.7 34.7 97.8 39.5C101.0 44.4 102.1 50.5 103.5 56.4C104.9 62.4 106.1 69.0 106.3 75.3C106.5 81.5 105.7 88.6 104.4 94.1C103.2 99.6 101.3 103.8 98.8 108.2C96.3 112.6 93.0 117.3 89.4 120.4C85.8 123.6 81.4 125.6 77.1 127.0C72.9 128.4 68.4 129.0 64.0 128.9C59.6 128.7 54.9 128.1 50.8 126.1C46.7 124.0 43.0 120.7 39.5 116.7C36.1 112.6 32.5 106.9 30.1 101.6C27.8 96.3 26.3 90.3 25.4 84.7C24.5 79.0 23.8 73.4 24.5 67.7C25.1 62.1 27.3 55.8 29.2 50.8C31.0 45.8 32.8 41.5 35.7 37.6C38.7 33.7 42.0 29.5 47.0 27.3C52.1 25.1 59.6 24.5 65.9 24.5Z" fill="#dca892" stroke="#dca892" stroke-width="6" stroke-linejoin="round" clip-path="url(#f11k)"/><path d="M65.9 24.5C72.1 24.5 79.3 24.8 84.7 27.3C90.0 29.8 94.7 34.7 97.8 39.5C101.0 44.4 102.1 50.5 103.5 56.4C104.9 62.4 106.1 69.0 106.3 75.3C106.5 81.5 105.7 88.6 104.4 94.1C103.2 99.6 101.3 103.8 98.8 108.2C96.3 112.6 93.0 117.3 89.4 120.4C85.8 123.6 81.4 125.6 77.1 127.0C72.9 128.4 68.4 129.0 64.0 128.9C59.6 128.7 54.9 128.1 50.8 126.1C46.7 124.0 43.0 120.7 39.5 116.7C36.1 112.6 32.5 106.9 30.1 101.6C27.8 96.3 26.3 90.3 25.4 84.7C24.5 79.0 23.8 73.4 24.5 67.7C25.1 62.1 27.3 55.8 29.2 50.8C31.0 45.8 32.8 41.5 35.7 37.6C38.7 33.7 42.0 29.5 47.0 27.3C52.1 25.1 59.6 24.5 65.9 24.5Z" fill="url(#f11g)"/><ellipse cx="43.3" cy="88.4" rx="5.6" ry="6.6" fill="#d79480" fill-opacity="0.45" filter="url(#f11c)"/><ellipse cx="81.8" cy="88.4" rx="5.6" ry="6.6" fill="#d79480" fill-opacity="0.45" filter="url(#f11c)"/><path d="M46.1 99.7C47.0 98.5 51.6 96.1 54.6 95.0C57.5 93.9 60.5 93.2 64.0 93.1C67.4 93.1 72.0 93.7 75.3 94.5C78.6 95.4 82.8 97.2 83.7 98.3C84.7 99.4 84.0 101.1 80.9 101.1C77.8 101.2 70.2 98.6 64.9 98.8C59.6 98.9 52.1 101.9 48.9 102.1C45.8 102.2 45.2 100.9 46.1 99.7Z" fill="#9a8272" fill-opacity="0.90"/><path d="M44.2 112.9C45.5 110.9 49.1 110.7 52.7 110.1C56.3 109.4 61.6 109.2 65.9 109.1C70.1 109.0 74.8 109.1 78.1 109.6C81.4 110.1 84.5 109.8 85.6 111.9C86.7 114.1 86.4 119.3 84.7 122.3C82.9 125.3 80.0 128.6 75.3 129.8C70.6 131.1 61.5 131.1 56.4 129.8C51.4 128.6 47.2 125.1 45.2 122.3C43.1 119.5 43.0 114.9 44.2 112.9Z" fill="#a09890" fill-opacity="0.60"/><ellipse cx="46.1" cy="68.9" rx="7.9" ry="4.3" fill="#9a7566" fill-opacity="0.7"/><ellipse cx="46.1" cy="69.6" rx="4.7" ry="1.6" fill="#e9dcd6"/><ellipse cx="46.1" cy="69.6" rx="2.8" ry="2.1" fill="#5a5a60"/><circle cx="46.1" cy="69.6" r="1.0" fill="#1c1412"/><path d="M40.5 70.0C41.0 69.6 42.7 68.0 44.0 67.6C45.4 67.3 47.2 67.4 48.4 67.7C49.7 68.1 51.2 69.5 51.7 69.8" fill="none" stroke="#3d2f28" stroke-width="1.4" stroke-linecap="round" stroke-opacity="0.85"/><path d="M40.9 72.4C41.8 72.7 44.4 73.8 46.1 73.8C47.8 73.7 50.4 72.5 51.3 72.2" fill="none" stroke="#8f6d5e" stroke-width="0.8" stroke-linecap="round" stroke-opacity="0.45"/><ellipse cx="79.0" cy="67.9" rx="7.9" ry="4.3" fill="#9a7566" fill-opacity="0.7"/><ellipse cx="79.0" cy="68.7" rx="4.7" ry="1.6" fill="#e9dcd6"/><ellipse cx="79.0" cy="68.7" rx="2.8" ry="2.1" fill="#5a5a60"/><circle cx="79.0" cy="68.7" r="1.0" fill="#1c1412"/><path d="M73.4 69.1C74.0 68.7 75.6 67.1 77.0 66.7C78.3 66.3 80.1 66.4 81.4 66.8C82.7 67.2 84.1 68.5 84.7 68.9" fill="none" stroke="#3d2f28" stroke-width="1.4" stroke-linecap="round" stroke-opacity="0.85"/><path d="M73.8 71.5C74.7 71.7 77.3 72.8 79.0 72.8C80.7 72.8 83.3 71.6 84.2 71.3" fill="none" stroke="#8f6d5e" stroke-width="0.8" stroke-linecap="round" stroke-opacity="0.45"/><path d="M37.6 64.2C39.2 63.7 44.1 61.2 47.0 61.3C50.0 61.5 54.1 64.3 55.5 64.9" fill="none" stroke="#b09888" stroke-width="2.3" stroke-linecap="round"/><path d="M71.5 63.2C73.1 62.6 77.8 59.5 80.9 59.5C84.0 59.5 88.7 62.6 90.3 63.2" fill="none" stroke="#b09888" stroke-width="2.3" stroke-linecap="round"/><ellipse cx="60.2" cy="81.8" rx="3.7" ry="8.9" fill="#e6c2b2" fill-opacity="0.5"/><path d="M51.9 70.6C52.0 71.8 52.5 75.2 52.1 78.1C51.8 80.9 50.2 86.1 49.9 87.7" fill="none" stroke="#9a7566" stroke-width="3.2" stroke-linecap="round" stroke-opacity="0.22"/><path d="M49.9 86.7C50.1 87.3 50.3 89.3 51.4 89.9C52.5 90.6 55.1 90.4 56.6 90.7C58.1 91.0 59.0 91.8 60.2 91.8C61.4 91.8 62.4 91.0 63.8 90.7C65.3 90.4 67.9 90.6 69.0 89.9C70.1 89.3 70.3 87.3 70.6 86.7" fill="none" stroke="#795c50" stroke-width="1.4" stroke-linecap="round" stroke-opacity="0.8"/><ellipse cx="55.6" cy="90.3" rx="1.6" ry="0.8" fill="#58433a" fill-opacity="0.8"/><ellipse cx="64.9" cy="90.3" rx="1.6" ry="0.8" fill="#58433a" fill-opacity="0.8"/><path d="M48.3 88.1C47.6 89.4 44.4 93.4 44.1 96.0C43.7 98.5 45.9 102.1 46.3 103.3" fill="none" stroke="#88685a" stroke-width="1.9" stroke-linecap="round" stroke-opacity="0.30"/><path d="M72.1 88.1C72.8 89.4 74.3 93.4 76.3 96.0C78.4 98.5 83.1 102.1 84.5 103.3" fill="none" stroke="#88685a" stroke-width="1.9" stroke-linecap="round" stroke-opacity="0.30"/><path d="M49.9 101.4C50.9 100.6 59.0 100.2 61.6 100.1C64.2 100.0 64.1 100.8 65.4 100.8C66.6 100.8 66.6 100.0 69.1 100.1C71.7 100.2 79.9 100.6 80.9 101.4C81.9 102.3 77.8 104.3 75.3 105.2C72.7 106.1 68.7 106.9 65.4 106.9C62.1 106.9 58.1 106.1 55.5 105.2C52.9 104.3 48.8 102.3 49.9 101.4Z" fill="#c48078" fill-opacity="0.85"/><path d="M48.9 100.8C50.4 101.1 54.9 101.9 57.6 102.2C60.4 102.4 62.8 102.5 65.4 102.5C68.0 102.5 70.4 102.4 73.1 102.2C75.9 101.9 80.4 101.1 81.8 100.8" fill="none" stroke="#62403c" stroke-width="1.1" stroke-linecap="round"/><ellipse cx="65.4" cy="112.2" rx="9.3" ry="1.3" fill="#a57e6d" fill-opacity="0.35"/><path d="M22.6 60.2C22.3 56.6 23.2 47.8 24.5 42.3C25.7 36.8 27.6 31.7 30.1 27.3C32.6 22.9 35.7 19.3 39.5 16.0C43.3 12.7 48.0 9.4 52.7 7.5C57.4 5.6 62.7 4.9 67.7 4.7C72.8 4.5 78.4 5.0 82.8 6.6C87.2 8.2 90.9 11.0 94.1 14.1C97.2 17.2 99.6 21.5 101.6 25.4C103.6 29.3 105.2 33.1 106.3 37.6C107.4 42.2 108.0 48.8 108.2 52.7C108.3 56.6 108.2 61.1 107.2 61.1C106.3 61.1 104.0 56.3 102.5 52.7C101.1 49.1 100.5 43.1 98.8 39.5C97.1 35.9 95.2 33.2 92.2 31.0C89.2 28.8 85.3 27.4 80.9 26.3C76.5 25.2 70.9 24.5 65.9 24.5C60.8 24.5 55.0 25.2 50.8 26.3C46.6 27.4 43.1 28.8 40.5 31.0C37.8 33.2 36.5 36.2 34.8 39.5C33.1 42.8 31.5 46.7 30.1 50.8C28.7 54.9 27.6 62.4 26.3 64.0C25.1 65.5 22.9 63.8 22.6 60.2Z" fill="url(#f11h)" fill-opacity="1.00"/></g></svg></div><div class="badge" style="background:#f44336"><svg width="32.5" height="32.5" viewBox="0 0 32.5 32.5"><path d="M20.98 8.24 L24.66 11.92 L20.63 15.95 L24.66 19.98 L20.98 23.66 L16.95 19.63 L12.92 23.66 L9.24 19.98 L13.27 15.95 L9.24 11.92 L12.92 8.24 L16.95 12.27Z" fill="#fff"/></svg></div><div class="name">Roman <span class="ln">HAIDER</span></div></div><div class="mem" style="left:322.4px"><div class="photo"><svg viewBox="0 0 127 127" width="127" height="127"><defs><filter id="f12b" x="-10%" y="-10%" width="120%" height="120%"><feGaussianBlur stdDeviation="0.85"/></filter><filter id="f12c" x="-30%" y="-30%" width="160%" height="160%"><feGaussianBlur stdDeviation="3"/></filter><radialGradient id="f12g" gradientUnits="userSpaceOnUse" cx="65.3" cy="66.3" r="67.7"><stop offset="0" stop-color="#d8ac93"/><stop offset="0.6" stop-color="#d3a084"/><stop offset="1" stop-color="#a47c66"/></radialGradient><linearGradient id="f12h" x1="0" y1="0" x2="1" y2="1"><stop offset="0" stop-color="#9c9a96"/><stop offset="0.5" stop-color="#8a8782"/><stop offset="1" stop-color="#6b6965"/></linearGradient></defs><rect width="127" height="127" fill="#ffffff"/><g filter="url(#f12b)"><path d="M45.2 117.6 L94.1 117.6 L98.8 131.7 L42.3 131.7Z" fill="#9c7661"/><path d="M31.0 131.7C29.5 129.7 36.5 119.5 39.5 119.5C42.5 119.5 50.3 129.7 48.9 131.7C47.5 133.7 32.6 133.7 31.0 131.7Z" fill="#cfe0f5"/><path d="M23.5 64.9C24.2 61.8 28.3 59.9 29.6 64.0C31.0 68.0 32.2 86.2 31.5 89.4C30.8 92.5 26.7 86.9 25.4 82.8C24.1 78.7 22.8 68.0 23.5 64.9Z" fill="#c29379"/><path d="M105.8 64.0C107.0 59.1 112.7 60.4 113.8 63.0C115.0 65.7 114.1 75.1 112.9 80.0C111.7 84.8 108.0 94.9 106.8 92.2C105.6 89.5 104.7 68.8 105.8 64.0Z" fill="#c29379"/><clipPath id="f12k"><rect x="0" y="0" width="127" height="70.6"/></clipPath><path d="M65.9 19.8C71.3 19.8 77.8 20.9 82.8 23.5C87.8 26.2 92.7 30.9 96.0 35.7C99.2 40.6 100.8 47.7 102.5 52.7C104.3 57.7 105.7 60.5 106.3 65.9C106.9 71.2 106.9 78.7 106.3 84.7C105.7 90.6 104.4 96.6 102.5 101.6C100.7 106.6 98.0 111.0 95.0 114.8C92.0 118.5 88.6 121.8 84.7 124.2C80.7 126.5 75.9 128.4 71.5 128.9C67.1 129.4 62.4 128.6 58.3 127.0C54.2 125.4 50.5 122.9 47.0 119.5C43.6 116.0 40.3 111.3 37.6 106.3C35.0 101.3 32.6 95.3 31.0 89.4C29.5 83.4 28.2 76.8 28.2 70.6C28.2 64.3 29.5 57.5 31.0 51.7C32.6 45.9 34.5 40.5 37.6 35.7C40.8 31.0 45.2 26.2 49.9 23.5C54.6 20.9 60.4 19.8 65.9 19.8Z" fill="#d3a084" stroke="#d3a084" stroke-width="6" stroke-linejoin="round" clip-path="url(#f12k)"/><path d="M65.9 19.8C71.3 19.8 77.8 20.9 82.8 23.5C87.8 26.2 92.7 30.9 96.0 35.7C99.2 40.6 100.8 47.7 102.5 52.7C104.3 57.7 105.7 60.5 106.3 65.9C106.9 71.2 106.9 78.7 106.3 84.7C105.7 90.6 104.4 96.6 102.5 101.6C100.7 106.6 98.0 111.0 95.0 114.8C92.0 118.5 88.6 121.8 84.7 124.2C80.7 126.5 75.9 128.4 71.5 128.9C67.1 129.4 62.4 128.6 58.3 127.0C54.2 125.4 50.5 122.9 47.0 119.5C43.6 116.0 40.3 111.3 37.6 106.3C35.0 101.3 32.6 95.3 31.0 89.4C29.5 83.4 28.2 76.8 28.2 70.6C28.2 64.3 29.5 57.5 31.0 51.7C32.6 45.9 34.5 40.5 37.6 35.7C40.8 31.0 45.2 26.2 49.9 23.5C54.6 20.9 60.4 19.8 65.9 19.8Z" fill="url(#f12g)"/><ellipse cx="43.3" cy="86.5" rx="5.6" ry="6.6" fill="#d18f77" fill-opacity="0.45" filter="url(#f12c)"/><ellipse cx="83.7" cy="86.5" rx="5.6" ry="6.6" fill="#d18f77" fill-opacity="0.45" filter="url(#f12c)"/><ellipse cx="46.1" cy="66.0" rx="7.9" ry="4.3" fill="#93705c" fill-opacity="0.7"/><ellipse cx="46.1" cy="66.8" rx="4.7" ry="1.6" fill="#e9dcd6"/><ellipse cx="46.1" cy="66.8" rx="2.8" ry="2.1" fill="#3a2c28"/><circle cx="46.1" cy="66.8" r="1.0" fill="#1c1412"/><path d="M40.5 67.2C41.0 66.8 42.7 65.2 44.0 64.8C45.4 64.4 47.2 64.6 48.4 64.9C49.7 65.3 51.2 66.6 51.7 67.0" fill="none" stroke="#3b2c24" stroke-width="1.4" stroke-linecap="round" stroke-opacity="0.85"/><path d="M40.9 69.6C41.8 69.8 44.4 71.0 46.1 70.9C47.8 70.9 50.4 69.7 51.3 69.4" fill="none" stroke="#896855" stroke-width="0.8" stroke-linecap="round" stroke-opacity="0.45"/><ellipse cx="80.9" cy="65.1" rx="7.9" ry="4.3" fill="#93705c" fill-opacity="0.7"/><ellipse cx="80.9" cy="65.9" rx="4.7" ry="1.6" fill="#e9dcd6"/><ellipse cx="80.9" cy="65.9" rx="2.8" ry="2.1" fill="#3a2c28"/><circle cx="80.9" cy="65.9" r="1.0" fill="#1c1412"/><path d="M75.3 66.2C75.9 65.8 77.5 64.3 78.8 63.9C80.2 63.5 82.0 63.6 83.3 64.0C84.5 64.3 86.0 65.7 86.5 66.0" fill="none" stroke="#3b2c24" stroke-width="1.4" stroke-linecap="round" stroke-opacity="0.85"/><path d="M75.7 68.7C76.6 68.9 79.2 70.0 80.9 70.0C82.6 70.0 85.2 68.7 86.1 68.5" fill="none" stroke="#896855" stroke-width="0.8" stroke-linecap="round" stroke-opacity="0.45"/><path d="M37.6 61.3C38.9 61.0 42.5 59.5 45.2 59.5C47.8 59.5 52.2 61.0 53.6 61.3" fill="none" stroke="#8a8078" stroke-width="2.3" stroke-linecap="round"/><path d="M73.4 60.4C74.8 60.1 78.9 58.4 81.8 58.5C84.8 58.7 89.7 60.9 91.3 61.3" fill="none" stroke="#8a8078" stroke-width="2.3" stroke-linecap="round"/><ellipse cx="63.0" cy="80.0" rx="3.4" ry="8.9" fill="#e0bca8" fill-opacity="0.5"/><path d="M55.5 68.7C55.5 69.9 56.0 73.7 55.7 76.2C55.4 78.7 54.0 82.6 53.6 83.9" fill="none" stroke="#93705c" stroke-width="3.2" stroke-linecap="round" stroke-opacity="0.22"/><path d="M53.6 83.0C53.9 83.5 54.0 85.5 55.0 86.2C56.1 86.8 58.4 86.6 59.7 86.9C61.1 87.2 61.9 88.1 63.0 88.1C64.1 88.1 65.0 87.2 66.3 86.9C67.7 86.6 70.0 86.8 71.0 86.2C72.0 85.5 72.2 83.5 72.4 83.0" fill="none" stroke="#745848" stroke-width="1.4" stroke-linecap="round" stroke-opacity="0.8"/><ellipse cx="58.8" cy="86.5" rx="1.6" ry="0.8" fill="#544034" fill-opacity="0.8"/><ellipse cx="67.3" cy="86.5" rx="1.6" ry="0.8" fill="#544034" fill-opacity="0.8"/><path d="M52.2 84.4C51.5 85.8 48.8 90.1 48.0 92.9C47.1 95.6 47.4 99.5 47.2 100.8" fill="none" stroke="#826351" stroke-width="1.9" stroke-linecap="round" stroke-opacity="0.30"/><path d="M73.8 84.4C74.6 85.8 76.9 90.1 78.1 92.9C79.2 95.6 80.3 99.5 80.7 100.8" fill="none" stroke="#826351" stroke-width="1.9" stroke-linecap="round" stroke-opacity="0.30"/><path d="M50.8 99.0C52.5 97.9 59.6 97.3 64.0 97.3C68.4 97.3 75.4 97.9 77.1 99.0C78.9 100.0 76.5 102.6 74.3 103.7C72.1 104.7 67.4 105.4 64.0 105.4C60.5 105.4 55.8 104.7 53.6 103.7C51.4 102.6 49.1 100.0 50.8 99.0Z" fill="#c98e86"/><path d="M52.2 99.3C54.2 99.4 60.1 99.7 64.0 99.7C67.9 99.7 73.8 99.4 75.7 99.3" fill="none" stroke="#5a3028" stroke-width="1.3" stroke-linecap="round"/><ellipse cx="64.0" cy="109.8" rx="7.9" ry="1.3" fill="#9e7863" fill-opacity="0.35"/><path d="M27.3 64.9C30.1 65.1 38.7 66.0 44.2 66.3C49.7 66.7 53.8 67.1 60.2 67.0C66.6 66.8 75.1 66.2 82.8 65.4C90.5 64.6 102.4 62.6 106.3 62.1" fill="none" stroke="#c4c6cc" stroke-width="0.8" stroke-linecap="round"/><path d="M35.7 80.4C37.2 80.6 41.4 81.2 44.2 81.2C47.0 81.1 51.3 80.2 52.7 80.1" fill="none" stroke="#f4f4f6" stroke-width="0.7" stroke-opacity="0.8"/><path d="M75.3 79.0C76.7 79.1 80.9 79.8 83.7 79.8C86.5 79.7 90.8 78.8 92.2 78.6" fill="none" stroke="#f4f4f6" stroke-width="0.7" stroke-opacity="0.8"/><path d="M27.3 60.2C27.0 57.2 27.0 49.5 28.2 44.2C29.5 38.9 32.1 32.9 34.8 28.2C37.5 23.5 40.6 19.4 44.2 16.0C47.8 12.5 51.9 9.4 56.4 7.5C61.0 5.6 66.8 4.5 71.5 4.7C76.2 4.9 80.6 6.4 84.7 8.5C88.7 10.5 92.8 13.6 96.0 16.9C99.1 20.2 101.4 24.0 103.5 28.2C105.5 32.5 107.4 37.3 108.2 42.3C109.0 47.4 108.5 54.9 108.2 58.3C107.9 61.8 107.4 64.0 106.3 63.0C105.2 62.1 103.0 56.9 101.6 52.7C100.2 48.4 99.9 41.9 97.8 37.6C95.8 33.4 92.7 29.9 89.4 27.3C86.1 24.6 82.0 22.9 78.1 21.6C74.2 20.4 69.9 19.8 65.9 19.8C61.8 19.8 57.2 20.4 53.6 21.6C50.0 22.9 46.9 24.9 44.2 27.3C41.5 29.6 39.5 32.5 37.6 35.7C35.7 39.0 34.2 42.6 32.9 47.0C31.7 51.4 31.0 59.9 30.1 62.1C29.2 64.3 27.6 63.2 27.3 60.2Z" fill="url(#f12h)" fill-opacity="0.85"/></g></svg></div><div class="badge" style="background:#f44336"><svg width="32.5" height="32.5" viewBox="0 0 32.5 32.5"><path d="M20.98 8.24 L24.66 11.92 L20.63 15.95 L24.66 19.98 L20.98 23.66 L16.95 19.63 L12.92 23.66 L9.24 19.98 L13.27 15.95 L9.24 11.92 L12.92 8.24 L16.95 12.27Z" fill="#fff"/></svg></div><div class="name">Gerald <span class="ln">HAUSER</span></div></div><div class="mem" style="left:473.6px"><div class="photo"><svg viewBox="0 0 127 127" width="127" height="127"><defs><filter id="f13b" x="-10%" y="-10%" width="120%" height="120%"><feGaussianBlur stdDeviation="0.85"/></filter><filter id="f13c" x="-30%" y="-30%" width="160%" height="160%"><feGaussianBlur stdDeviation="3"/></filter><radialGradient id="f13g" gradientUnits="userSpaceOnUse" cx="64.3" cy="66.3" r="66.5"><stop offset="0" stop-color="#e0b09c"/><stop offset="0.6" stop-color="#dca58e"/><stop offset="1" stop-color="#ab806e"/></radialGradient><linearGradient id="f13h" x1="0" y1="0" x2="1" y2="1"><stop offset="0" stop-color="#9c9388"/><stop offset="0.5" stop-color="#8a7f72"/><stop offset="1" stop-color="#6b6358"/></linearGradient></defs><rect width="127" height="127" fill="#f2f2f8"/><g filter="url(#f13b)"><path d="M42.3 117.6 L92.2 117.6 L96.0 131.7 L39.5 131.7Z" fill="#a27a69"/><path d="M31.0 131.7C29.2 129.4 35.4 118.8 37.6 117.6C39.8 116.3 42.3 121.8 44.2 124.2C46.1 126.5 51.1 130.4 48.9 131.7C46.7 133.0 32.9 134.1 31.0 131.7Z" fill="#a8c4f0"/><path d="M24.0 69.6C24.4 66.0 28.2 64.3 29.6 68.7C31.0 73.1 32.8 92.3 32.5 96.0C32.1 99.6 28.7 94.7 27.3 90.3C25.9 85.9 23.6 73.2 24.0 69.6Z" fill="#ca9782"/><path d="M104.0 65.9C105.3 61.0 109.4 61.5 110.1 64.9C110.8 68.4 109.5 81.7 108.2 86.5C106.9 91.4 102.8 97.5 102.1 94.1C101.4 90.6 102.6 70.7 104.0 65.9Z" fill="#ca9782"/><clipPath id="f13k"><rect x="0" y="0" width="127" height="68.7"/></clipPath><path d="M65.9 20.7C71.2 20.7 77.9 21.0 82.8 23.5C87.6 26.0 92.0 30.9 95.0 35.7C98.0 40.6 99.1 47.7 100.7 52.7C102.2 57.7 103.8 60.5 104.4 65.9C105.0 71.2 105.2 78.7 104.4 84.7C103.6 90.6 101.8 96.6 99.7 101.6C97.7 106.6 95.3 111.0 92.2 114.8C89.1 118.5 85.0 122.0 80.9 124.2C76.8 126.4 72.1 127.8 67.7 127.9C63.3 128.1 58.6 127.2 54.6 125.1C50.5 123.1 46.6 119.6 43.3 115.7C40.0 111.8 37.0 106.8 34.8 101.6C32.6 96.4 31.2 90.3 30.1 84.7C29.0 79.0 27.9 73.7 28.2 67.7C28.5 61.8 30.3 54.6 32.0 48.9C33.7 43.3 35.4 38.1 38.6 33.9C41.7 29.6 46.3 25.7 50.8 23.5C55.3 21.3 60.5 20.7 65.9 20.7Z" fill="#dca58e" stroke="#dca58e" stroke-width="6" stroke-linejoin="round" clip-path="url(#f13k)"/><path d="M65.9 20.7C71.2 20.7 77.9 21.0 82.8 23.5C87.6 26.0 92.0 30.9 95.0 35.7C98.0 40.6 99.1 47.7 100.7 52.7C102.2 57.7 103.8 60.5 104.4 65.9C105.0 71.2 105.2 78.7 104.4 84.7C103.6 90.6 101.8 96.6 99.7 101.6C97.7 106.6 95.3 111.0 92.2 114.8C89.1 118.5 85.0 122.0 80.9 124.2C76.8 126.4 72.1 127.8 67.7 127.9C63.3 128.1 58.6 127.2 54.6 125.1C50.5 123.1 46.6 119.6 43.3 115.7C40.0 111.8 37.0 106.8 34.8 101.6C32.6 96.4 31.2 90.3 30.1 84.7C29.0 79.0 27.9 73.7 28.2 67.7C28.5 61.8 30.3 54.6 32.0 48.9C33.7 43.3 35.4 38.1 38.6 33.9C41.7 29.6 46.3 25.7 50.8 23.5C55.3 21.3 60.5 20.7 65.9 20.7Z" fill="url(#f13g)"/><ellipse cx="45.2" cy="81.8" rx="5.6" ry="6.6" fill="#d7927d" fill-opacity="0.45" filter="url(#f13c)"/><ellipse cx="85.6" cy="81.8" rx="5.6" ry="6.6" fill="#d7927d" fill-opacity="0.45" filter="url(#f13c)"/><ellipse cx="48.0" cy="64.2" rx="7.9" ry="4.3" fill="#9a7363" fill-opacity="0.7"/><ellipse cx="48.0" cy="64.9" rx="4.7" ry="1.6" fill="#e9dcd6"/><ellipse cx="48.0" cy="64.9" rx="2.8" ry="2.1" fill="#6a7e8a"/><circle cx="48.0" cy="64.9" r="1.0" fill="#1c1412"/><path d="M42.3 65.3C42.9 64.9 44.6 63.3 45.9 62.9C47.2 62.6 49.0 62.7 50.3 63.0C51.6 63.4 53.1 64.8 53.6 65.1" fill="none" stroke="#3d2e27" stroke-width="1.4" stroke-linecap="round" stroke-opacity="0.85"/><path d="M42.8 67.7C43.7 68.0 46.3 69.1 48.0 69.1C49.7 69.0 52.3 67.8 53.2 67.5" fill="none" stroke="#8f6b5c" stroke-width="0.8" stroke-linecap="round" stroke-opacity="0.45"/><ellipse cx="82.8" cy="61.3" rx="7.9" ry="4.3" fill="#9a7363" fill-opacity="0.7"/><ellipse cx="82.8" cy="62.1" rx="4.7" ry="1.6" fill="#e9dcd6"/><ellipse cx="82.8" cy="62.1" rx="2.8" ry="2.1" fill="#6a7e8a"/><circle cx="82.8" cy="62.1" r="1.0" fill="#1c1412"/><path d="M77.1 62.5C77.7 62.1 79.4 60.5 80.7 60.1C82.0 59.7 83.9 59.8 85.1 60.2C86.4 60.6 87.9 61.9 88.4 62.3" fill="none" stroke="#3d2e27" stroke-width="1.4" stroke-linecap="round" stroke-opacity="0.85"/><path d="M77.6 64.9C78.5 65.1 81.1 66.3 82.8 66.2C84.5 66.2 87.1 65.0 88.0 64.7" fill="none" stroke="#8f6b5c" stroke-width="0.8" stroke-linecap="round" stroke-opacity="0.45"/><path d="M39.5 58.5C41.1 58.0 45.9 55.7 48.9 55.7C51.9 55.7 56.0 58.0 57.4 58.5" fill="none" stroke="#a8907a" stroke-width="2.3" stroke-linecap="round"/><path d="M75.3 55.7C76.7 55.4 80.9 53.7 83.7 53.8C86.5 54.0 90.8 56.2 92.2 56.6" fill="none" stroke="#a8907a" stroke-width="2.3" stroke-linecap="round"/><ellipse cx="64.9" cy="75.3" rx="3.6" ry="8.9" fill="#e6c0af" fill-opacity="0.5"/><path d="M57.0 64.0C57.0 65.2 57.5 68.8 57.2 71.5C56.9 74.2 55.4 78.7 55.0 80.2" fill="none" stroke="#9a7363" stroke-width="3.2" stroke-linecap="round" stroke-opacity="0.22"/><path d="M55.0 79.2C55.3 79.7 55.4 81.8 56.5 82.4C57.6 83.1 60.1 82.8 61.5 83.2C62.9 83.5 63.8 84.3 64.9 84.3C66.1 84.3 67.0 83.5 68.4 83.2C69.8 82.8 72.2 83.1 73.3 82.4C74.4 81.8 74.5 79.7 74.8 79.2" fill="none" stroke="#795a4e" stroke-width="1.4" stroke-linecap="round" stroke-opacity="0.8"/><ellipse cx="60.5" cy="82.8" rx="1.6" ry="0.8" fill="#584238" fill-opacity="0.8"/><ellipse cx="69.4" cy="82.8" rx="1.6" ry="0.8" fill="#584238" fill-opacity="0.8"/><path d="M53.6 80.6C52.8 81.9 51.0 85.8 49.3 88.3C47.6 90.8 44.4 94.3 43.5 95.5" fill="none" stroke="#886658" stroke-width="1.9" stroke-linecap="round" stroke-opacity="0.30"/><path d="M76.3 80.6C77.0 81.9 78.5 85.8 80.5 88.3C82.5 90.8 87.0 94.3 88.2 95.5" fill="none" stroke="#886658" stroke-width="1.9" stroke-linecap="round" stroke-opacity="0.30"/><path d="M47.0 93.6C48.6 92.8 59.0 92.4 62.1 92.3C65.2 92.2 64.6 93.0 65.9 93.0C67.1 93.0 66.5 92.2 69.6 92.3C72.8 92.4 83.1 92.8 84.7 93.6C86.2 94.5 82.2 96.5 79.0 97.4C75.9 98.3 70.2 99.1 65.9 99.1C61.5 99.1 55.8 98.3 52.7 97.4C49.5 96.5 45.5 94.5 47.0 93.6Z" fill="#c07a70" fill-opacity="0.85"/><path d="M46.1 93.0C47.8 93.3 53.2 94.1 56.4 94.4C59.7 94.6 62.7 94.7 65.9 94.7C69.0 94.7 72.0 94.6 75.3 94.4C78.6 94.1 83.9 93.3 85.6 93.0" fill="none" stroke="#603d38" stroke-width="1.1" stroke-linecap="round"/><ellipse cx="65.9" cy="104.4" rx="11.3" ry="1.3" fill="#a57b6a" fill-opacity="0.35"/><path d="M26.3 67.7C25.6 65.5 25.1 57.7 25.4 52.7C25.7 47.7 26.7 42.5 28.2 37.6C29.8 32.8 32.1 27.6 34.8 23.5C37.5 19.4 40.6 16.1 44.2 13.2C47.8 10.2 52.2 7.1 56.4 5.6C60.7 4.2 65.2 3.9 69.6 4.7C74.0 5.5 78.7 7.7 82.8 10.3C86.9 13.0 90.9 16.8 94.1 20.7C97.2 24.6 99.7 29.2 101.6 33.9C103.5 38.6 104.6 44.2 105.4 48.9C106.1 53.6 106.6 59.1 106.3 62.1C106.0 65.1 104.4 68.4 103.5 66.8C102.5 65.2 101.8 57.5 100.7 52.7C99.6 47.8 98.8 41.9 96.9 37.6C95.0 33.4 92.5 29.9 89.4 27.3C86.2 24.6 82.0 22.7 78.1 21.6C74.2 20.5 70.1 20.5 65.9 20.7C61.6 20.9 56.6 21.3 52.7 22.6C48.8 23.8 45.0 25.7 42.3 28.2C39.7 30.7 38.3 34.2 36.7 37.6C35.1 41.1 34.0 44.2 32.9 48.9C31.8 53.6 31.2 62.7 30.1 65.9C29.0 69.0 27.1 69.9 26.3 67.7Z" fill="url(#f13h)" fill-opacity="1.00"/></g></svg></div><div class="badge" style="background:#f44336"><svg width="32.5" height="32.5" viewBox="0 0 32.5 32.5"><path d="M20.98 8.24 L24.66 11.92 L20.63 15.95 L24.66 19.98 L20.98 23.66 L16.95 19.63 L12.92 23.66 L9.24 19.98 L13.27 15.95 L9.24 11.92 L12.92 8.24 L16.95 12.27Z" fill="#fff"/></svg></div><div class="name">Georg MAYER</div></div><div class="mem" style="left:624.8px"><div class="photo"><svg viewBox="0 0 127 127" width="127" height="127"><defs><filter id="f14b" x="-10%" y="-10%" width="120%" height="120%"><feGaussianBlur stdDeviation="0.85"/></filter><filter id="f14c" x="-30%" y="-30%" width="160%" height="160%"><feGaussianBlur stdDeviation="3"/></filter><radialGradient id="f14g" gradientUnits="userSpaceOnUse" cx="61.3" cy="67.7" r="64.7"><stop offset="0" stop-color="#e8bfa8"/><stop offset="0.6" stop-color="#e5b69c"/><stop offset="1" stop-color="#b28d79"/></radialGradient><linearGradient id="f14h" x1="0" y1="0" x2="1" y2="1"><stop offset="0" stop-color="#9c7b68"/><stop offset="0.5" stop-color="#8a624c"/><stop offset="1" stop-color="#6b4c3b"/></linearGradient></defs><rect width="127" height="127" fill="#f4f4f9"/><g filter="url(#f14b)"><path d="M40.5 112.9 L87.5 112.9 L92.2 131.7 L37.6 131.7Z" fill="#a98673"/><clipPath id="f14k"><rect x="0" y="0" width="127" height="116.7"/></clipPath><path d="M67.7 23.5C72.0 24.1 74.8 27.6 78.1 31.0C81.4 34.5 85.0 39.4 87.5 44.2C90.0 49.1 91.7 54.7 93.1 60.2C94.5 65.7 95.5 71.5 96.0 77.1C96.4 82.8 96.9 88.9 96.0 94.1C95.0 99.2 92.7 104.0 90.3 108.2C88.0 112.4 85.1 116.3 81.8 119.5C78.6 122.6 74.5 125.6 70.6 127.0C66.6 128.4 62.2 128.7 58.3 127.9C54.4 127.2 50.3 125.1 47.0 122.3C43.7 119.5 40.9 115.2 38.6 111.0C36.2 106.8 34.3 102.1 32.9 96.9C31.6 91.7 30.8 85.5 30.6 80.0C30.3 74.5 30.8 69.1 31.5 64.0C32.2 58.8 33.3 53.3 34.8 48.9C36.3 44.5 37.5 41.2 40.5 37.6C43.4 34.0 48.1 29.6 52.7 27.3C57.2 24.9 63.5 22.9 67.7 23.5Z" fill="#e5b69c" stroke="#e5b69c" stroke-width="6" stroke-linejoin="round" clip-path="url(#f14k)"/><path d="M67.7 23.5C72.0 24.1 74.8 27.6 78.1 31.0C81.4 34.5 85.0 39.4 87.5 44.2C90.0 49.1 91.7 54.7 93.1 60.2C94.5 65.7 95.5 71.5 96.0 77.1C96.4 82.8 96.9 88.9 96.0 94.1C95.0 99.2 92.7 104.0 90.3 108.2C88.0 112.4 85.1 116.3 81.8 119.5C78.6 122.6 74.5 125.6 70.6 127.0C66.6 128.4 62.2 128.7 58.3 127.9C54.4 127.2 50.3 125.1 47.0 122.3C43.7 119.5 40.9 115.2 38.6 111.0C36.2 106.8 34.3 102.1 32.9 96.9C31.6 91.7 30.8 85.5 30.6 80.0C30.3 74.5 30.8 69.1 31.5 64.0C32.2 58.8 33.3 53.3 34.8 48.9C36.3 44.5 37.5 41.2 40.5 37.6C43.4 34.0 48.1 29.6 52.7 27.3C57.2 24.9 63.5 22.9 67.7 23.5Z" fill="url(#f14g)"/><ellipse cx="39.5" cy="83.7" rx="5.6" ry="6.6" fill="#dd9d87" fill-opacity="0.45" filter="url(#f14c)"/><ellipse cx="78.1" cy="83.7" rx="5.6" ry="6.6" fill="#dd9d87" fill-opacity="0.45" filter="url(#f14c)"/><ellipse cx="42.3" cy="60.4" rx="7.9" ry="4.3" fill="#a07f6d" fill-opacity="0.7"/><ellipse cx="42.3" cy="61.1" rx="4.7" ry="1.6" fill="#e9dcd6"/><ellipse cx="42.3" cy="61.1" rx="2.8" ry="2.1" fill="#2e201c"/><circle cx="42.3" cy="61.1" r="1.0" fill="#1c1412"/><path d="M36.7 61.5C37.3 61.1 38.9 59.5 40.3 59.2C41.6 58.8 43.4 58.9 44.7 59.3C46.0 59.6 47.4 61.0 48.0 61.3" fill="none" stroke="#40322b" stroke-width="1.4" stroke-linecap="round" stroke-opacity="0.85"/><path d="M37.2 64.0C38.0 64.2 40.6 65.3 42.3 65.3C44.1 65.3 46.6 64.0 47.5 63.8" fill="none" stroke="#947665" stroke-width="0.8" stroke-linecap="round" stroke-opacity="0.45"/><ellipse cx="75.3" cy="59.5" rx="7.9" ry="4.3" fill="#a07f6d" fill-opacity="0.7"/><ellipse cx="75.3" cy="60.2" rx="4.7" ry="1.6" fill="#e9dcd6"/><ellipse cx="75.3" cy="60.2" rx="2.8" ry="2.1" fill="#2e201c"/><circle cx="75.3" cy="60.2" r="1.0" fill="#1c1412"/><path d="M69.6 60.6C70.2 60.2 71.9 58.6 73.2 58.2C74.5 57.9 76.3 58.0 77.6 58.3C78.9 58.7 80.4 60.1 80.9 60.4" fill="none" stroke="#40322b" stroke-width="1.4" stroke-linecap="round" stroke-opacity="0.85"/><path d="M70.1 63.0C70.9 63.2 73.5 64.4 75.3 64.3C77.0 64.3 79.6 63.1 80.4 62.8" fill="none" stroke="#947665" stroke-width="0.8" stroke-linecap="round" stroke-opacity="0.45"/><path d="M32.9 54.8C34.5 54.3 39.0 51.8 42.3 51.9C45.6 52.1 51.0 54.9 52.7 55.5" fill="none" stroke="#4a3228" stroke-width="2.3" stroke-linecap="round"/><path d="M65.9 54.8C67.7 54.0 73.5 50.5 77.1 50.5C80.7 50.5 85.8 54.0 87.5 54.8" fill="none" stroke="#4a3228" stroke-width="2.3" stroke-linecap="round"/><ellipse cx="57.4" cy="77.1" rx="2.9" ry="8.9" fill="#eccbb9" fill-opacity="0.5"/><path d="M51.0 65.9C51.0 67.1 51.4 70.7 51.1 73.4C50.9 76.1 49.7 80.6 49.4 82.0" fill="none" stroke="#a07f6d" stroke-width="3.2" stroke-linecap="round" stroke-opacity="0.22"/><path d="M49.4 81.1C49.6 81.6 49.7 83.6 50.6 84.3C51.5 84.9 53.5 84.7 54.6 85.0C55.7 85.4 56.5 86.2 57.4 86.2C58.3 86.2 59.1 85.4 60.2 85.0C61.3 84.7 63.3 84.9 64.2 84.3C65.0 83.6 65.2 81.6 65.4 81.1" fill="none" stroke="#7d6455" stroke-width="1.4" stroke-linecap="round" stroke-opacity="0.8"/><ellipse cx="53.8" cy="84.7" rx="1.6" ry="0.8" fill="#5b483e" fill-opacity="0.8"/><ellipse cx="61.0" cy="84.7" rx="1.6" ry="0.8" fill="#5b483e" fill-opacity="0.8"/><path d="M48.2 82.5C47.5 83.6 44.9 87.0 44.0 89.1C43.0 91.2 42.8 94.2 42.5 95.2" fill="none" stroke="#8d7060" stroke-width="1.9" stroke-linecap="round" stroke-opacity="0.07"/><path d="M66.6 82.5C67.3 83.6 68.9 87.0 70.8 89.1C72.7 91.2 76.7 94.2 77.9 95.2" fill="none" stroke="#8d7060" stroke-width="1.9" stroke-linecap="round" stroke-opacity="0.07"/><path d="M46.1 93.3C47.6 93.0 55.5 94.6 60.2 94.6C64.9 94.6 72.8 93.0 74.3 93.3C75.8 93.7 71.6 95.4 69.2 96.7C66.9 98.0 63.2 101.1 60.2 101.1C57.2 101.1 53.5 98.0 51.2 96.7C48.8 95.4 44.6 93.7 46.1 93.3Z" fill="#c4505c"/><path d="M47.2 94.1C48.6 93.9 55.9 95.2 60.2 95.2C64.5 95.2 71.8 93.9 73.2 94.1C74.6 94.3 70.8 95.7 68.7 96.4C66.5 97.0 63.0 98.0 60.2 98.0C57.4 98.0 53.9 97.0 51.7 96.4C49.6 95.7 45.8 94.3 47.2 94.1Z" fill="#5a2c2a"/><path d="M48.5 94.5C49.7 94.4 56.3 95.6 60.2 95.6C64.1 95.6 70.7 94.4 71.9 94.5C73.0 94.6 69.2 95.7 67.3 96.2C65.3 96.7 62.6 97.5 60.2 97.5C57.9 97.5 55.1 96.7 53.2 96.2C51.2 95.7 47.4 94.6 48.5 94.5Z" fill="#efe8de"/><path d="M45.3 92.8C46.6 92.9 50.7 93.5 53.2 93.7C55.6 93.9 57.9 94.1 60.2 94.1C62.6 94.1 64.8 93.9 67.3 93.7C69.7 93.5 73.8 92.9 75.1 92.8" fill="none" stroke="#ac4650" stroke-width="1.4" stroke-linecap="round"/><ellipse cx="60.2" cy="104.1" rx="8.5" ry="1.3" fill="#ab8875" fill-opacity="0.35"/><path d="M28.2 131.7C24.0 128.6 20.1 119.2 16.9 112.9C13.8 106.6 9.9 100.3 9.4 94.1C8.9 87.8 12.5 81.5 14.1 75.3C15.7 69.0 17.1 62.4 18.8 56.4C20.5 50.5 22.1 44.7 24.5 39.5C26.8 34.3 29.5 29.8 32.9 25.4C36.4 21.0 40.9 16.5 45.2 13.2C49.4 9.9 53.9 6.7 58.3 5.6C62.7 4.5 67.1 5.5 71.5 6.6C75.9 7.7 80.6 9.6 84.7 12.2C88.7 14.9 92.5 18.7 96.0 22.6C99.4 26.5 102.5 30.9 105.4 35.7C108.2 40.6 110.7 45.9 112.9 51.7C115.1 57.5 117.1 65.1 118.5 70.6C119.9 76.0 121.8 80.0 121.4 84.7C120.9 89.4 117.9 94.1 115.7 98.8C113.5 103.5 111.0 107.4 108.2 112.9C105.4 118.4 100.8 131.7 98.8 131.7C96.7 131.7 96.1 119.2 96.0 112.9C95.8 106.6 97.8 100.3 97.8 94.1C97.8 87.8 96.9 81.2 96.0 75.3C95.0 69.3 93.8 63.7 92.2 58.3C90.6 53.0 88.9 47.8 86.5 43.3C84.2 38.7 81.2 34.3 78.1 31.0C74.9 27.8 71.3 24.5 67.7 23.5C64.1 22.6 60.2 24.1 56.4 25.4C52.7 26.7 48.3 28.7 45.2 31.0C42.0 33.4 39.7 35.9 37.6 39.5C35.6 43.1 34.0 48.0 32.9 52.7C31.8 57.4 31.5 62.4 31.0 67.7C30.6 73.1 29.9 79.5 30.1 84.7C30.3 89.8 30.7 94.1 32.0 98.8C33.2 103.5 35.9 107.4 37.6 112.9C39.4 118.4 43.9 128.6 42.3 131.7C40.8 134.8 32.5 134.8 28.2 131.7Z" fill="url(#f14h)" fill-opacity="1.00"/></g></svg></div><div class="badge" style="background:#f44336"><svg width="32.5" height="32.5" viewBox="0 0 32.5 32.5"><path d="M20.98 8.24 L24.66 11.92 L20.63 15.95 L24.66 19.98 L20.98 23.66 L16.95 19.63 L12.92 23.66 L9.24 19.98 L13.27 15.95 L9.24 11.92 L12.92 8.24 L16.95 12.27Z" fill="#fff"/></svg></div><div class="name">Petra <span class="ln">STEGER</span></div></div><div class="mem" style="left:776.0px"><div class="photo"><svg viewBox="0 0 127 127" width="127" height="127"><defs><filter id="f15b" x="-10%" y="-10%" width="120%" height="120%"><feGaussianBlur stdDeviation="0.85"/></filter><filter id="f15c" x="-30%" y="-30%" width="160%" height="160%"><feGaussianBlur stdDeviation="3"/></filter><radialGradient id="f15g" gradientUnits="userSpaceOnUse" cx="60.6" cy="68.4" r="65.0"><stop offset="0" stop-color="#d9ac9a"/><stop offset="0.6" stop-color="#d4a08c"/><stop offset="1" stop-color="#a57c6d"/></radialGradient><linearGradient id="f15h" x1="0" y1="0" x2="1" y2="1"><stop offset="0" stop-color="#817166"/><stop offset="0.5" stop-color="#6a564a"/><stop offset="1" stop-color="#524339"/></linearGradient></defs><rect width="127" height="127" fill="#f2f4fa"/><g filter="url(#f15b)"><path d="M40.5 117.6 L88.4 117.6 L92.2 131.7 L37.6 131.7Z" fill="#9c7667"/><path d="M31.0 131.7C29.2 129.4 33.6 118.7 35.7 117.6C37.9 116.5 42.3 122.8 44.2 125.1C46.1 127.5 49.2 130.6 47.0 131.7C44.8 132.8 32.9 134.1 31.0 131.7Z" fill="#a8c0e8"/><path d="M82.8 131.7C81.2 130.1 85.0 125.0 86.5 122.3C88.1 119.6 90.6 114.1 92.2 115.7C93.8 117.3 97.5 129.0 96.0 131.7C94.4 134.4 84.4 133.3 82.8 131.7Z" fill="#a8c0e8"/><path d="M23.5 131.7C22.1 129.0 27.3 118.5 29.2 115.7C31.0 112.9 33.4 112.1 34.8 114.8C36.2 117.4 39.5 128.9 37.6 131.7C35.7 134.5 24.9 134.4 23.5 131.7Z" fill="#1c2030"/><path d="M90.3 131.7C87.8 128.7 89.1 117.1 90.3 113.8C91.6 110.5 95.3 109.0 97.8 111.9C100.3 114.9 106.6 128.4 105.4 131.7C104.1 135.0 92.8 134.7 90.3 131.7Z" fill="#1c2030"/><path d="M16.5 65.9C17.0 62.1 22.9 61.8 24.9 66.8C27.0 71.8 29.2 92.2 28.7 96.0C28.1 99.7 23.7 94.4 21.6 89.4C19.6 84.4 15.9 69.6 16.5 65.9Z" fill="#c39380"/><path d="M99.2 64.0C100.7 58.5 105.6 57.1 106.3 61.1C107.0 65.2 105.0 82.9 103.5 88.4C102.0 93.9 98.1 98.2 97.4 94.1C96.7 90.0 97.8 69.5 99.2 64.0Z" fill="#c39380"/><clipPath id="f15k"><rect x="0" y="0" width="127" height="72.4"/></clipPath><path d="M61.1 24.0C67.6 23.8 75.7 23.1 80.9 25.4C86.1 27.7 89.7 32.5 92.2 37.6C94.7 42.8 94.7 50.8 96.0 56.4C97.2 62.1 99.1 65.9 99.7 71.5C100.3 77.1 100.5 84.7 99.7 90.3C98.9 96.0 97.1 100.8 95.0 105.4C93.0 109.9 90.5 114.1 87.5 117.6C84.5 121.0 81.1 124.2 77.1 126.1C73.2 127.9 68.4 128.9 64.0 128.9C59.6 128.9 54.7 127.9 50.8 126.1C46.9 124.2 43.6 121.4 40.5 117.6C37.3 113.8 34.2 108.3 32.0 103.5C29.8 98.6 28.4 93.8 27.3 88.4C26.2 83.1 25.4 77.5 25.4 71.5C25.4 65.5 26.3 58.6 27.3 52.7C28.2 46.7 28.5 40.1 31.0 35.7C33.6 31.4 37.3 28.3 42.3 26.3C47.4 24.4 54.7 24.1 61.1 24.0Z" fill="#d4a08c" stroke="#d4a08c" stroke-width="6" stroke-linejoin="round" clip-path="url(#f15k)"/><path d="M61.1 24.0C67.6 23.8 75.7 23.1 80.9 25.4C86.1 27.7 89.7 32.5 92.2 37.6C94.7 42.8 94.7 50.8 96.0 56.4C97.2 62.1 99.1 65.9 99.7 71.5C100.3 77.1 100.5 84.7 99.7 90.3C98.9 96.0 97.1 100.8 95.0 105.4C93.0 109.9 90.5 114.1 87.5 117.6C84.5 121.0 81.1 124.2 77.1 126.1C73.2 127.9 68.4 128.9 64.0 128.9C59.6 128.9 54.7 127.9 50.8 126.1C46.9 124.2 43.6 121.4 40.5 117.6C37.3 113.8 34.2 108.3 32.0 103.5C29.8 98.6 28.4 93.8 27.3 88.4C26.2 83.1 25.4 77.5 25.4 71.5C25.4 65.5 26.3 58.6 27.3 52.7C28.2 46.7 28.5 40.1 31.0 35.7C33.6 31.4 37.3 28.3 42.3 26.3C47.4 24.4 54.7 24.1 61.1 24.0Z" fill="url(#f15g)"/><ellipse cx="42.3" cy="89.4" rx="5.6" ry="6.6" fill="#d28f7c" fill-opacity="0.45" filter="url(#f15c)"/><ellipse cx="80.0" cy="89.4" rx="5.6" ry="6.6" fill="#d28f7c" fill-opacity="0.45" filter="url(#f15c)"/><ellipse cx="45.2" cy="67.9" rx="7.9" ry="4.3" fill="#947062" fill-opacity="0.7"/><ellipse cx="45.2" cy="68.7" rx="4.7" ry="1.6" fill="#e9dcd6"/><ellipse cx="45.2" cy="68.7" rx="2.8" ry="2.1" fill="#4e5646"/><circle cx="45.2" cy="68.7" r="1.0" fill="#1c1412"/><path d="M39.5 69.1C40.1 68.7 41.8 67.1 43.1 66.7C44.4 66.3 46.2 66.4 47.5 66.8C48.8 67.2 50.3 68.5 50.8 68.9" fill="none" stroke="#3b2c27" stroke-width="1.4" stroke-linecap="round" stroke-opacity="0.85"/><path d="M40.0 71.5C40.8 71.7 43.4 72.8 45.2 72.8C46.9 72.8 49.5 71.6 50.3 71.3" fill="none" stroke="#89685b" stroke-width="0.8" stroke-linecap="round" stroke-opacity="0.45"/><ellipse cx="77.1" cy="67.0" rx="7.9" ry="4.3" fill="#947062" fill-opacity="0.7"/><ellipse cx="77.1" cy="67.7" rx="4.7" ry="1.6" fill="#e9dcd6"/><ellipse cx="77.1" cy="67.7" rx="2.8" ry="2.1" fill="#4e5646"/><circle cx="77.1" cy="67.7" r="1.0" fill="#1c1412"/><path d="M71.5 68.1C72.1 67.7 73.7 66.1 75.1 65.8C76.4 65.4 78.2 65.5 79.5 65.9C80.8 66.2 82.2 67.6 82.8 67.9" fill="none" stroke="#3b2c27" stroke-width="1.4" stroke-linecap="round" stroke-opacity="0.85"/><path d="M72.0 70.6C72.8 70.8 75.4 71.9 77.1 71.9C78.9 71.8 81.5 70.6 82.3 70.4" fill="none" stroke="#89685b" stroke-width="0.8" stroke-linecap="round" stroke-opacity="0.45"/><path d="M34.8 64.9C36.4 64.5 40.9 62.1 44.2 62.3C47.5 62.5 52.8 65.4 54.6 66.0" fill="none" stroke="#4a3c34" stroke-width="2.4" stroke-linecap="round"/><path d="M68.7 65.1C70.2 64.6 74.9 62.4 78.1 62.3C81.2 62.1 85.9 63.8 87.5 64.2" fill="none" stroke="#4a3c34" stroke-width="2.4" stroke-linecap="round"/><ellipse cx="61.1" cy="82.8" rx="3.0" ry="8.9" fill="#e0bcae" fill-opacity="0.5"/><path d="M54.4 71.5C54.4 72.8 54.8 76.3 54.5 79.0C54.3 81.7 53.0 86.2 52.7 87.7" fill="none" stroke="#947062" stroke-width="3.2" stroke-linecap="round" stroke-opacity="0.22"/><path d="M52.7 86.7C52.9 87.3 53.0 89.3 54.0 89.9C54.9 90.6 57.0 90.4 58.2 90.7C59.4 91.0 60.2 91.8 61.1 91.8C62.1 91.8 62.9 91.0 64.1 90.7C65.3 90.4 67.4 90.6 68.3 89.9C69.3 89.3 69.4 87.3 69.6 86.7" fill="none" stroke="#74584d" stroke-width="1.4" stroke-linecap="round" stroke-opacity="0.8"/><ellipse cx="57.3" cy="90.3" rx="1.6" ry="0.8" fill="#544038" fill-opacity="0.8"/><ellipse cx="65.0" cy="90.3" rx="1.6" ry="0.8" fill="#544038" fill-opacity="0.8"/><path d="M51.4 88.1C50.7 89.9 48.7 95.1 47.2 98.5C45.7 101.9 43.3 106.7 42.5 108.4" fill="none" stroke="#836356" stroke-width="1.9" stroke-linecap="round" stroke-opacity="0.30"/><path d="M70.9 88.1C71.6 89.9 73.3 95.1 75.1 98.5C76.9 101.9 80.6 106.7 81.7 108.4" fill="none" stroke="#836356" stroke-width="1.9" stroke-linecap="round" stroke-opacity="0.30"/><path d="M46.1 106.5C47.2 105.6 55.7 105.3 58.3 105.2C61.0 105.1 60.8 105.9 62.1 105.9C63.3 105.9 63.2 105.1 65.9 105.2C68.5 105.3 77.0 105.6 78.1 106.5C79.2 107.3 75.1 109.3 72.4 110.3C69.8 111.2 65.5 111.9 62.1 111.9C58.6 111.9 54.4 111.2 51.7 110.3C49.1 109.3 45.0 107.3 46.1 106.5Z" fill="#b87878" fill-opacity="0.85"/><path d="M45.2 105.9C46.6 106.1 51.3 107.0 54.1 107.2C56.9 107.5 59.4 107.6 62.1 107.6C64.8 107.6 67.3 107.5 70.1 107.2C72.9 107.0 77.5 106.1 79.0 105.9" fill="none" stroke="#5c3c3c" stroke-width="1.1" stroke-linecap="round"/><ellipse cx="62.1" cy="117.3" rx="9.6" ry="1.3" fill="#9f7869" fill-opacity="0.35"/><path d="M21.6 67.7C20.5 65.2 19.0 57.7 18.8 52.7C18.7 47.7 19.3 42.5 20.7 37.6C22.1 32.8 24.5 27.6 27.3 23.5C30.1 19.4 33.7 16.0 37.6 13.2C41.5 10.3 46.3 8.2 50.8 6.6C55.3 5.0 60.4 3.6 64.9 3.8C69.5 3.9 74.0 5.5 78.1 7.5C82.2 9.6 86.2 12.7 89.4 16.0C92.5 19.3 94.9 23.0 96.9 27.3C98.9 31.5 100.7 36.5 101.6 41.4C102.5 46.3 102.9 52.4 102.5 56.4C102.2 60.5 101.0 66.2 99.7 65.9C98.5 65.5 96.1 59.0 95.0 54.6C93.9 50.2 94.4 43.7 93.1 39.5C91.9 35.3 89.7 31.7 87.5 29.2C85.3 26.7 82.6 24.9 80.0 24.5C77.3 24.0 74.8 26.3 71.5 26.3C68.2 26.3 64.0 24.9 60.2 24.5C56.4 24.0 52.7 23.4 48.9 23.5C45.2 23.7 40.6 23.8 37.6 25.4C34.7 27.0 32.6 29.6 31.0 32.9C29.5 36.2 28.8 40.9 28.2 45.2C27.6 49.4 27.8 54.6 27.3 58.3C26.8 62.1 26.3 66.2 25.4 67.7C24.5 69.3 22.7 70.2 21.6 67.7Z" fill="url(#f15h)" fill-opacity="1.00"/></g></svg></div><div class="badge" style="background:#f44336"><svg width="32.5" height="32.5" viewBox="0 0 32.5 32.5"><path d="M20.98 8.24 L24.66 11.92 L20.63 15.95 L24.66 19.98 L20.98 23.66 L16.95 19.63 L12.92 23.66 L9.24 19.98 L13.27 15.95 L9.24 11.92 L12.92 8.24 L16.95 12.27Z" fill="#fff"/></svg></div><div class="name">Harald <span class="ln">VILIMSKY</span></div></div></div>
<div class="card" style="left:1295.6px;top:892px;width:804.0px"><div class="plogo" style="left:348.0px;width:108px"><svg width="108" height="44" viewBox="0 0 108 44" role="img" aria-label="Die Volkspartei"><title>Die Volkspartei</title><rect x="6.1" y="10.2" width="32" height="2.4" fill="#8fd0dc"/><rect x="69.3" y="10.2" width="32.8" height="2.4" fill="#8fd0dc"/><text x="43.6" y="16.9" font-family="Liberation Serif, Times New Roman, serif" font-size="15.4" fill="#5a5a5a" textLength="20.6" lengthAdjust="spacingAndGlyphs">Die</text><text x="5.9" y="34" font-family="Liberation Serif, Times New Roman, serif" font-weight="700" font-size="19.3" fill="#4d4d4d" stroke="#4d4d4d" stroke-width="0.5" textLength="96.4" lengthAdjust="spacingAndGlyphs">Volkspartei</text></svg></div><div class="mem" style="left:20.0px"><div class="photo"><svg viewBox="0 0 127 127" width="127" height="127"><defs><filter id="f16b" x="-10%" y="-10%" width="120%" height="120%"><feGaussianBlur stdDeviation="0.85"/></filter><filter id="f16c" x="-30%" y="-30%" width="160%" height="160%"><feGaussianBlur stdDeviation="3"/></filter><radialGradient id="f16g" gradientUnits="userSpaceOnUse" cx="61.3" cy="69.4" r="62.7"><stop offset="0" stop-color="#e6b6a5"/><stop offset="0.6" stop-color="#e3ac98"/><stop offset="1" stop-color="#b18676"/></radialGradient><linearGradient id="f16h" x1="0" y1="0" x2="1" y2="1"><stop offset="0" stop-color="#635a54"/><stop offset="0.5" stop-color="#463b34"/><stop offset="1" stop-color="#362e28"/></linearGradient></defs><rect width="127" height="127" fill="#f8f8fc"/><g filter="url(#f16b)"><path d="M40.5 115.7 L89.4 115.7 L93.1 131.7 L37.6 131.7Z" fill="#a77f70"/><path d="M14.1 131.7C10.7 127.5 19.3 111.0 21.6 106.3C24.0 101.6 26.7 101.6 28.2 103.5C29.8 105.4 28.7 112.9 31.0 117.6C33.4 122.3 45.2 129.4 42.3 131.7C39.5 134.1 17.6 135.9 14.1 131.7Z" fill="#f0eeee"/><path d="M84.7 131.7C81.7 129.5 87.8 121.2 90.3 118.5C92.8 115.9 96.7 113.5 99.7 115.7C102.7 117.9 110.7 129.0 108.2 131.7C105.7 134.4 87.6 133.9 84.7 131.7Z" fill="#f0eeee"/><path d="M18.3 58.3C18.9 54.2 24.1 55.3 25.9 60.2C27.6 65.1 29.2 83.4 28.7 87.5C28.1 91.6 24.3 89.5 22.6 84.7C20.9 79.8 17.8 62.4 18.3 58.3Z" fill="#d09e8b"/><path d="M99.2 58.3C100.7 53.2 105.6 53.0 106.3 57.4C107.0 61.8 105.0 79.5 103.5 84.7C102.0 89.8 98.1 92.8 97.4 88.4C96.7 84.0 97.8 63.5 99.2 58.3Z" fill="#d09e8b"/><clipPath id="f16k"><rect x="0" y="0" width="127" height="65.9"/></clipPath><path d="M65.9 26.8C72.4 26.4 77.5 25.5 81.8 26.8C86.2 28.1 89.7 31.1 92.2 34.8C94.7 38.5 95.6 43.7 96.9 48.9C98.2 54.1 99.2 59.9 99.7 65.9C100.2 71.8 100.3 79.0 99.7 84.7C99.1 90.3 97.7 95.0 96.0 99.7C94.2 104.4 92.0 109.0 89.4 112.9C86.7 116.8 83.9 120.7 80.0 123.2C76.0 125.7 70.4 127.6 65.9 127.9C61.3 128.3 56.8 127.2 52.7 125.1C48.6 123.1 44.7 119.6 41.4 115.7C38.1 111.8 35.1 106.8 32.9 101.6C30.7 96.4 29.2 90.3 28.2 84.7C27.2 79.0 26.8 73.4 26.8 67.7C26.8 62.1 27.4 55.8 28.2 50.8C29.1 45.8 29.6 41.2 32.0 37.6C34.3 34.0 36.7 31.0 42.3 29.2C48.0 27.4 59.3 27.2 65.9 26.8Z" fill="#e3ac98" stroke="#e3ac98" stroke-width="6" stroke-linejoin="round" clip-path="url(#f16k)"/><path d="M65.9 26.8C72.4 26.4 77.5 25.5 81.8 26.8C86.2 28.1 89.7 31.1 92.2 34.8C94.7 38.5 95.6 43.7 96.9 48.9C98.2 54.1 99.2 59.9 99.7 65.9C100.2 71.8 100.3 79.0 99.7 84.7C99.1 90.3 97.7 95.0 96.0 99.7C94.2 104.4 92.0 109.0 89.4 112.9C86.7 116.8 83.9 120.7 80.0 123.2C76.0 125.7 70.4 127.6 65.9 127.9C61.3 128.3 56.8 127.2 52.7 125.1C48.6 123.1 44.7 119.6 41.4 115.7C38.1 111.8 35.1 106.8 32.9 101.6C30.7 96.4 29.2 90.3 28.2 84.7C27.2 79.0 26.8 73.4 26.8 67.7C26.8 62.1 27.4 55.8 28.2 50.8C29.1 45.8 29.6 41.2 32.0 37.6C34.3 34.0 36.7 31.0 42.3 29.2C48.0 27.4 59.3 27.2 65.9 26.8Z" fill="url(#f16g)"/><ellipse cx="44.2" cy="84.7" rx="5.6" ry="6.6" fill="#dc9784" fill-opacity="0.45" filter="url(#f16c)"/><ellipse cx="83.7" cy="84.7" rx="5.6" ry="6.6" fill="#dc9784" fill-opacity="0.45" filter="url(#f16c)"/><ellipse cx="47.0" cy="61.3" rx="7.9" ry="4.3" fill="#9e786a" fill-opacity="0.7"/><ellipse cx="47.0" cy="62.1" rx="4.7" ry="1.6" fill="#e9dcd6"/><ellipse cx="47.0" cy="62.1" rx="2.8" ry="2.1" fill="#4e5650"/><circle cx="47.0" cy="62.1" r="1.0" fill="#1c1412"/><path d="M41.4 62.5C42.0 62.1 43.6 60.5 45.0 60.1C46.3 59.7 48.1 59.8 49.4 60.2C50.7 60.6 52.1 61.9 52.7 62.3" fill="none" stroke="#3f302a" stroke-width="1.4" stroke-linecap="round" stroke-opacity="0.85"/><path d="M41.9 64.9C42.7 65.1 45.3 66.3 47.0 66.2C48.8 66.2 51.3 65.0 52.2 64.7" fill="none" stroke="#936f62" stroke-width="0.8" stroke-linecap="round" stroke-opacity="0.45"/><ellipse cx="80.9" cy="61.8" rx="7.9" ry="4.3" fill="#9e786a" fill-opacity="0.7"/><ellipse cx="80.9" cy="62.6" rx="4.7" ry="1.6" fill="#e9dcd6"/><ellipse cx="80.9" cy="62.6" rx="2.8" ry="2.1" fill="#4e5650"/><circle cx="80.9" cy="62.6" r="1.0" fill="#1c1412"/><path d="M75.3 62.9C75.9 62.5 77.5 61.0 78.8 60.6C80.2 60.2 82.0 60.3 83.3 60.7C84.5 61.0 86.0 62.4 86.5 62.7" fill="none" stroke="#3f302a" stroke-width="1.4" stroke-linecap="round" stroke-opacity="0.85"/><path d="M75.7 65.4C76.6 65.6 79.2 66.7 80.9 66.7C82.6 66.7 85.2 65.4 86.1 65.2" fill="none" stroke="#936f62" stroke-width="0.8" stroke-linecap="round" stroke-opacity="0.45"/><path d="M35.7 56.6C37.3 56.0 41.2 52.9 45.2 52.9C49.1 52.9 56.9 56.0 59.3 56.6" fill="none" stroke="#463a34" stroke-width="2.8" stroke-linecap="round"/><path d="M69.6 56.6C71.5 56.1 77.0 53.2 80.9 53.3C84.8 53.5 91.1 56.9 93.1 57.6" fill="none" stroke="#463a34" stroke-width="2.8" stroke-linecap="round"/><ellipse cx="64.9" cy="78.1" rx="3.2" ry="8.9" fill="#ebc4b6" fill-opacity="0.5"/><path d="M57.8 66.8C57.8 68.0 58.2 71.5 57.9 74.3C57.6 77.2 56.3 82.3 56.0 83.9" fill="none" stroke="#9e786a" stroke-width="3.2" stroke-linecap="round" stroke-opacity="0.22"/><path d="M56.0 83.0C56.2 83.5 56.3 85.5 57.3 86.2C58.3 86.8 60.5 86.6 61.8 86.9C63.0 87.2 63.9 88.1 64.9 88.1C66.0 88.1 66.8 87.2 68.0 86.9C69.3 86.6 71.5 86.8 72.5 86.2C73.5 85.5 73.6 83.5 73.8 83.0" fill="none" stroke="#7c5e53" stroke-width="1.4" stroke-linecap="round" stroke-opacity="0.8"/><ellipse cx="60.9" cy="86.5" rx="1.6" ry="0.8" fill="#5a443c" fill-opacity="0.8"/><ellipse cx="68.9" cy="86.5" rx="1.6" ry="0.8" fill="#5a443c" fill-opacity="0.8"/><path d="M54.6 84.4C53.9 85.7 51.9 89.8 50.4 92.4C48.9 95.0 46.2 98.7 45.3 99.9" fill="none" stroke="#8c6a5e" stroke-width="1.9" stroke-linecap="round" stroke-opacity="0.07"/><path d="M75.2 84.4C75.9 85.7 78.5 89.8 79.4 92.4C80.3 95.0 80.5 98.7 80.7 99.9" fill="none" stroke="#8c6a5e" stroke-width="1.9" stroke-linecap="round" stroke-opacity="0.07"/><path d="M48.9 98.0C50.4 97.7 58.3 99.3 63.0 99.3C67.7 99.3 75.6 97.7 77.1 98.0C78.6 98.4 74.4 100.1 72.1 101.4C69.7 102.7 66.0 105.8 63.0 105.8C60.0 105.8 56.4 102.7 54.0 101.4C51.6 100.1 47.4 98.4 48.9 98.0Z" fill="#c9787a"/><path d="M50.0 98.8C51.5 98.6 58.7 99.9 63.0 99.9C67.4 99.9 74.6 98.6 76.0 98.8C77.4 99.0 73.7 100.4 71.5 101.1C69.3 101.7 65.9 102.7 63.0 102.7C60.2 102.7 56.7 101.7 54.6 101.1C52.4 100.4 48.6 99.0 50.0 98.8Z" fill="#5a2c2a"/><path d="M51.4 99.2C52.5 99.1 59.1 100.3 63.0 100.3C66.9 100.3 73.5 99.1 74.7 99.2C75.9 99.3 72.0 100.4 70.1 100.9C68.1 101.4 65.4 102.2 63.0 102.2C60.7 102.2 57.9 101.4 56.0 100.9C54.0 100.4 50.2 99.3 51.4 99.2Z" fill="#efe8de"/><path d="M48.2 97.5C49.5 97.6 53.5 98.2 56.0 98.4C58.5 98.6 60.7 98.8 63.0 98.8C65.4 98.8 67.6 98.6 70.1 98.4C72.6 98.2 76.6 97.6 77.9 97.5" fill="none" stroke="#b0696b" stroke-width="1.4" stroke-linecap="round"/><ellipse cx="63.0" cy="108.8" rx="8.5" ry="1.3" fill="#aa8172" fill-opacity="0.35"/><path d="M25.4 64.0C24.7 61.1 22.7 53.8 22.6 48.9C22.4 44.1 23.0 39.2 24.5 34.8C25.9 30.4 28.2 26.0 31.0 22.6C33.9 19.1 37.6 16.5 41.4 14.1C45.2 11.8 49.5 9.7 53.6 8.5C57.7 7.2 61.6 6.4 65.9 6.6C70.1 6.7 75.1 7.7 79.0 9.4C82.9 11.1 86.4 14.0 89.4 16.9C92.3 19.9 95.0 23.5 96.9 27.3C98.8 31.0 99.9 35.3 100.7 39.5C101.4 43.7 101.6 49.1 101.6 52.7C101.6 56.3 101.4 61.8 100.7 61.1C99.9 60.5 98.0 52.8 96.9 48.9C95.8 45.0 95.5 40.8 94.1 37.6C92.7 34.5 90.8 32.0 88.4 30.1C86.1 28.2 83.7 26.8 80.0 26.3C76.2 25.9 70.6 27.0 65.9 27.3C61.1 27.6 56.1 27.9 51.7 28.2C47.4 28.5 42.6 28.1 39.5 29.2C36.4 30.3 34.5 32.1 32.9 34.8C31.4 37.5 30.9 41.5 30.1 45.2C29.3 48.8 28.8 53.0 28.2 56.4C27.7 59.9 27.3 64.6 26.8 65.9C26.3 67.1 26.1 66.8 25.4 64.0Z" fill="url(#f16h)" fill-opacity="1.00"/></g></svg></div><div class="badge" style="background:#ff9800"><svg width="32.5" height="32.5" viewBox="0 0 32.5 32.5"><rect x="10.8" y="15.25" width="10.1" height="1.85" fill="#fff"/></svg></div><div class="name">Alexander <span class="ln">BERNHUBER</span></div></div><div class="mem" style="left:171.2px"><div class="photo"><svg viewBox="0 0 127 127" width="127" height="127"><defs><filter id="f17b" x="-10%" y="-10%" width="120%" height="120%"><feGaussianBlur stdDeviation="0.85"/></filter><filter id="f17c" x="-30%" y="-30%" width="160%" height="160%"><feGaussianBlur stdDeviation="3"/></filter><radialGradient id="f17g" gradientUnits="userSpaceOnUse" cx="63.4" cy="69.1" r="64.2"><stop offset="0" stop-color="#e4bca8"/><stop offset="0.6" stop-color="#e0b29c"/><stop offset="1" stop-color="#ae8a79"/></radialGradient><linearGradient id="f17h" x1="0" y1="0" x2="1" y2="1"><stop offset="0" stop-color="#695e5b"/><stop offset="0.5" stop-color="#4d403c"/><stop offset="1" stop-color="#3c312e"/></linearGradient></defs><rect width="127" height="127" fill="#fafafe"/><g filter="url(#f17b)"><path d="M40.5 117.6 L92.2 117.6 L96.0 131.7 L37.6 131.7Z" fill="#a58373"/><clipPath id="f17k"><rect x="0" y="0" width="127" height="117.6"/></clipPath><path d="M58.3 25.4C63.3 25.2 70.4 27.1 75.3 29.2C80.1 31.2 83.9 33.9 87.5 37.6C91.1 41.4 94.4 46.7 96.9 51.7C99.4 56.8 101.3 62.2 102.5 67.7C103.8 73.2 104.6 79.0 104.4 84.7C104.3 90.3 103.3 96.6 101.6 101.6C99.9 106.6 97.2 111.0 94.1 114.8C90.9 118.5 86.9 121.8 82.8 124.2C78.7 126.5 74.0 128.4 69.6 128.9C65.2 129.4 60.7 128.6 56.4 127.0C52.2 125.4 47.8 122.9 44.2 119.5C40.6 116.0 37.5 111.2 34.8 106.3C32.1 101.4 29.6 95.8 28.2 90.3C26.8 84.8 26.2 79.0 26.3 73.4C26.5 67.7 27.8 61.8 29.2 56.4C30.6 51.1 32.1 45.8 34.8 41.4C37.5 37.0 41.2 32.8 45.2 30.1C49.1 27.4 53.3 25.6 58.3 25.4Z" fill="#e0b29c" stroke="#e0b29c" stroke-width="6" stroke-linejoin="round" clip-path="url(#f17k)"/><path d="M58.3 25.4C63.3 25.2 70.4 27.1 75.3 29.2C80.1 31.2 83.9 33.9 87.5 37.6C91.1 41.4 94.4 46.7 96.9 51.7C99.4 56.8 101.3 62.2 102.5 67.7C103.8 73.2 104.6 79.0 104.4 84.7C104.3 90.3 103.3 96.6 101.6 101.6C99.9 106.6 97.2 111.0 94.1 114.8C90.9 118.5 86.9 121.8 82.8 124.2C78.7 126.5 74.0 128.4 69.6 128.9C65.2 129.4 60.7 128.6 56.4 127.0C52.2 125.4 47.8 122.9 44.2 119.5C40.6 116.0 37.5 111.2 34.8 106.3C32.1 101.4 29.6 95.8 28.2 90.3C26.8 84.8 26.2 79.0 26.3 73.4C26.5 67.7 27.8 61.8 29.2 56.4C30.6 51.1 32.1 45.8 34.8 41.4C37.5 37.0 41.2 32.8 45.2 30.1C49.1 27.4 53.3 25.6 58.3 25.4Z" fill="url(#f17g)"/><ellipse cx="40.5" cy="88.4" rx="5.6" ry="6.6" fill="#da9a87" fill-opacity="0.45" filter="url(#f17c)"/><ellipse cx="81.8" cy="88.4" rx="5.6" ry="6.6" fill="#da9a87" fill-opacity="0.45" filter="url(#f17c)"/><ellipse cx="43.3" cy="65.1" rx="7.9" ry="4.3" fill="#9c7c6d" fill-opacity="0.7"/><ellipse cx="43.3" cy="65.9" rx="4.7" ry="1.6" fill="#e9dcd6"/><ellipse cx="43.3" cy="65.9" rx="2.8" ry="2.1" fill="#2e2420"/><circle cx="43.3" cy="65.9" r="1.0" fill="#1c1412"/><path d="M37.6 66.2C38.2 65.8 39.9 64.3 41.2 63.9C42.5 63.5 44.3 63.6 45.6 64.0C46.9 64.3 48.4 65.7 48.9 66.0" fill="none" stroke="#3e312b" stroke-width="1.4" stroke-linecap="round" stroke-opacity="0.85"/><path d="M38.1 68.7C39.0 68.9 41.5 70.0 43.3 70.0C45.0 70.0 47.6 68.7 48.4 68.5" fill="none" stroke="#917365" stroke-width="0.8" stroke-linecap="round" stroke-opacity="0.45"/><ellipse cx="79.0" cy="64.2" rx="7.9" ry="4.3" fill="#9c7c6d" fill-opacity="0.7"/><ellipse cx="79.0" cy="64.9" rx="4.7" ry="1.6" fill="#e9dcd6"/><ellipse cx="79.0" cy="64.9" rx="2.8" ry="2.1" fill="#2e2420"/><circle cx="79.0" cy="64.9" r="1.0" fill="#1c1412"/><path d="M73.4 65.3C74.0 64.9 75.6 63.3 77.0 62.9C78.3 62.6 80.1 62.7 81.4 63.0C82.7 63.4 84.1 64.8 84.7 65.1" fill="none" stroke="#3e312b" stroke-width="1.4" stroke-linecap="round" stroke-opacity="0.85"/><path d="M73.8 67.7C74.7 68.0 77.3 69.1 79.0 69.1C80.7 69.0 83.3 67.8 84.2 67.5" fill="none" stroke="#917365" stroke-width="0.8" stroke-linecap="round" stroke-opacity="0.45"/><path d="M31.0 58.5C32.8 58.0 37.8 55.8 41.4 55.7C45.0 55.5 50.8 57.3 52.7 57.6" fill="none" stroke="#4a3c38" stroke-width="2.3" stroke-linecap="round"/><path d="M69.6 56.6C71.7 56.3 78.1 54.4 81.8 54.8C85.6 55.1 90.5 57.9 92.2 58.5" fill="none" stroke="#4a3c38" stroke-width="2.3" stroke-linecap="round"/><ellipse cx="61.1" cy="81.8" rx="3.2" ry="8.9" fill="#e9c9b9" fill-opacity="0.5"/><path d="M54.0 70.6C54.0 71.8 54.5 75.4 54.2 78.1C53.9 80.8 52.5 85.3 52.2 86.7" fill="none" stroke="#9c7c6d" stroke-width="3.2" stroke-linecap="round" stroke-opacity="0.22"/><path d="M52.2 85.8C52.4 86.3 52.6 88.3 53.6 89.0C54.5 89.7 56.8 89.4 58.0 89.7C59.3 90.1 60.1 90.9 61.1 90.9C62.2 90.9 63.0 90.1 64.3 89.7C65.5 89.4 67.8 89.7 68.7 89.0C69.7 88.3 69.9 86.3 70.1 85.8" fill="none" stroke="#7b6155" stroke-width="1.4" stroke-linecap="round" stroke-opacity="0.8"/><ellipse cx="57.1" cy="89.4" rx="1.6" ry="0.8" fill="#59473e" fill-opacity="0.8"/><ellipse cx="65.2" cy="89.4" rx="1.6" ry="0.8" fill="#59473e" fill-opacity="0.8"/><path d="M50.9 87.2C50.2 88.4 48.5 92.1 46.6 94.4C44.8 96.7 40.9 100.0 39.7 101.1" fill="none" stroke="#8a6e60" stroke-width="1.9" stroke-linecap="round" stroke-opacity="0.07"/><path d="M71.4 87.2C72.1 88.4 73.8 92.1 75.7 94.4C77.5 96.7 81.4 100.0 82.6 101.1" fill="none" stroke="#8a6e60" stroke-width="1.9" stroke-linecap="round" stroke-opacity="0.07"/><path d="M43.3 99.2C45.2 98.1 55.2 100.6 61.1 100.6C67.1 100.6 77.1 98.1 79.0 99.2C80.9 100.4 75.6 105.2 72.6 107.3C69.6 109.4 65.0 111.9 61.1 111.9C57.3 111.9 52.7 109.4 49.7 107.3C46.7 105.2 41.4 100.4 43.3 99.2Z" fill="#b8686c"/><path d="M44.4 100.0C46.2 99.1 55.6 101.1 61.1 101.1C66.7 101.1 76.1 99.1 77.9 100.0C79.7 100.9 74.7 105.0 71.9 106.4C69.1 107.9 64.7 108.8 61.1 108.8C57.6 108.8 53.2 107.9 50.4 106.4C47.6 105.0 42.6 100.9 44.4 100.0Z" fill="#5a2c2a"/><path d="M45.7 100.4C47.2 99.6 56.0 101.5 61.1 101.5C66.3 101.5 75.1 99.6 76.6 100.4C78.1 101.1 72.7 104.7 70.1 106.0C67.5 107.3 64.1 108.3 61.1 108.3C58.2 108.3 54.8 107.3 52.2 106.0C49.6 104.7 44.2 101.1 45.7 100.4Z" fill="#efe9e0"/><path d="M42.5 98.7C44.1 98.8 49.1 99.4 52.2 99.6C55.3 99.8 58.2 100.0 61.1 100.0C64.1 100.0 67.0 99.8 70.1 99.6C73.2 99.4 78.2 98.8 79.8 98.7" fill="none" stroke="#a15b5f" stroke-width="1.4" stroke-linecap="round"/><ellipse cx="61.1" cy="110.1" rx="10.7" ry="1.3" fill="#a88575" fill-opacity="0.35"/><path d="M31.0 131.7C29.0 131.7 21.8 123.1 18.8 117.6C15.8 112.1 13.6 105.0 13.2 98.8C12.7 92.5 15.2 86.2 16.0 80.0C16.8 73.7 17.1 67.4 17.9 61.1C18.7 54.9 19.1 47.8 20.7 42.3C22.3 36.8 24.5 32.5 27.3 28.2C30.1 24.0 33.7 20.1 37.6 16.9C41.5 13.8 46.1 11.1 50.8 9.4C55.5 7.7 60.8 6.6 65.9 6.6C70.9 6.6 76.2 7.4 80.9 9.4C85.6 11.4 90.2 15.1 94.1 18.8C98.0 22.6 101.3 27.0 104.4 32.0C107.6 37.0 110.5 43.0 112.9 48.9C115.2 54.9 117.0 61.8 118.5 67.7C120.1 73.7 121.5 80.0 122.3 84.7C123.1 89.4 124.0 92.0 123.2 96.0C122.5 99.9 120.1 102.2 117.6 108.2C115.1 114.1 110.9 131.7 108.2 131.7C105.5 131.7 102.4 114.5 101.6 108.2C100.8 101.9 103.0 99.6 103.5 94.1C104.0 88.6 105.0 81.2 104.4 75.3C103.8 69.3 101.4 63.3 99.7 58.3C98.0 53.3 96.6 48.9 94.1 45.2C91.6 41.4 88.1 38.6 84.7 35.7C81.2 32.9 77.8 29.9 73.4 28.2C69.0 26.5 63.0 25.1 58.3 25.4C53.6 25.7 48.9 27.8 45.2 30.1C41.4 32.5 38.3 36.1 35.7 39.5C33.2 43.0 31.5 46.4 30.1 50.8C28.7 55.2 27.9 61.0 27.3 65.9C26.7 70.7 26.3 75.3 26.3 80.0C26.3 84.7 27.0 90.2 27.3 94.1C27.6 98.0 27.6 99.6 28.2 103.5C28.8 107.4 30.6 112.9 31.0 117.6C31.5 122.3 33.1 131.7 31.0 131.7Z" fill="url(#f17h)" fill-opacity="1.00"/><path d="M27.3 96.9C28.2 94.5 31.2 95.0 32.9 98.8C34.7 102.5 37.8 115.6 37.6 119.5C37.5 123.4 33.7 123.4 32.0 122.3C30.3 121.2 28.1 117.1 27.3 112.9C26.5 108.7 26.3 99.2 27.3 96.9Z" fill="#2850b8"/><path d="M98.8 96.0C99.7 93.0 102.1 94.2 102.5 97.8C103.0 101.4 102.5 114.6 101.6 117.6C100.7 120.6 97.4 119.3 96.9 115.7C96.4 112.1 97.8 98.9 98.8 96.0Z" fill="#2850b8"/></g></svg></div><div class="badge" style="background:#ff9800"><svg width="32.5" height="32.5" viewBox="0 0 32.5 32.5"><rect x="10.8" y="15.25" width="10.1" height="1.85" fill="#fff"/></svg></div><div class="name">Sophia <span class="ln">KIRCHER</span></div></div><div class="mem" style="left:322.4px"><div class="photo"><svg viewBox="0 0 127 127" width="127" height="127"><defs><filter id="f18b" x="-10%" y="-10%" width="120%" height="120%"><feGaussianBlur stdDeviation="0.85"/></filter><filter id="f18c" x="-30%" y="-30%" width="160%" height="160%"><feGaussianBlur stdDeviation="3"/></filter><radialGradient id="f18g" gradientUnits="userSpaceOnUse" cx="62.9" cy="70.1" r="61.8"><stop offset="0" stop-color="#e0b29a"/><stop offset="0.6" stop-color="#dca78c"/><stop offset="1" stop-color="#ab826d"/></radialGradient><linearGradient id="f18h" x1="0" y1="0" x2="1" y2="1"><stop offset="0" stop-color="#cac6c3"/><stop offset="0.5" stop-color="#c0bcb8"/><stop offset="1" stop-color="#95928f"/></linearGradient></defs><rect width="127" height="127" fill="#eef0f8"/><g filter="url(#f18b)"><path d="M42.3 117.6 L90.3 117.6 L94.1 131.7 L39.5 131.7Z" fill="#a27b67"/><path d="M84.7 131.7C82.0 129.4 89.4 120.7 92.2 117.6C95.0 114.5 98.9 110.5 101.6 112.9C104.3 115.2 111.0 128.6 108.2 131.7C105.4 134.8 87.3 134.1 84.7 131.7Z" fill="#e4ebf8"/><path d="M22.6 64.0C23.1 60.8 27.0 61.0 28.7 65.9C30.3 70.7 33.0 90.0 32.5 93.1C31.9 96.3 27.0 89.5 25.4 84.7C23.8 79.8 22.0 67.1 22.6 64.0Z" fill="#ca9980"/><path d="M102.1 67.7C103.7 62.7 109.0 63.0 110.1 65.9C111.1 68.7 109.8 79.6 108.2 84.7C106.5 89.7 101.2 98.8 100.2 96.0C99.2 93.1 100.4 72.8 102.1 67.7Z" fill="#ca9980"/><clipPath id="f18k"><rect x="0" y="0" width="127" height="75.3"/></clipPath><path d="M62.1 28.2C68.0 28.1 75.7 27.6 80.9 29.2C86.1 30.7 90.3 33.4 93.1 37.6C96.0 41.9 96.4 48.9 97.8 54.6C99.2 60.2 101.0 65.7 101.6 71.5C102.2 77.3 102.2 84.0 101.6 89.4C101.0 94.7 99.7 99.1 97.8 103.5C96.0 107.9 93.3 112.3 90.3 115.7C87.3 119.2 84.0 122.1 80.0 124.2C75.9 126.2 70.4 127.8 65.9 127.9C61.3 128.1 56.6 127.2 52.7 125.1C48.8 123.1 45.3 119.6 42.3 115.7C39.4 111.8 36.8 106.8 34.8 101.6C32.8 96.4 31.2 90.3 30.1 84.7C29.0 79.0 28.2 73.4 28.2 67.7C28.2 62.1 29.0 55.8 30.1 50.8C31.2 45.8 32.3 41.1 34.8 37.6C37.3 34.2 40.6 31.7 45.2 30.1C49.7 28.5 56.1 28.4 62.1 28.2Z" fill="#dca78c" stroke="#dca78c" stroke-width="6" stroke-linejoin="round" clip-path="url(#f18k)"/><path d="M62.1 28.2C68.0 28.1 75.7 27.6 80.9 29.2C86.1 30.7 90.3 33.4 93.1 37.6C96.0 41.9 96.4 48.9 97.8 54.6C99.2 60.2 101.0 65.7 101.6 71.5C102.2 77.3 102.2 84.0 101.6 89.4C101.0 94.7 99.7 99.1 97.8 103.5C96.0 107.9 93.3 112.3 90.3 115.7C87.3 119.2 84.0 122.1 80.0 124.2C75.9 126.2 70.4 127.8 65.9 127.9C61.3 128.1 56.6 127.2 52.7 125.1C48.8 123.1 45.3 119.6 42.3 115.7C39.4 111.8 36.8 106.8 34.8 101.6C32.8 96.4 31.2 90.3 30.1 84.7C29.0 79.0 28.2 73.4 28.2 67.7C28.2 62.1 29.0 55.8 30.1 50.8C31.2 45.8 32.3 41.1 34.8 37.6C37.3 34.2 40.6 31.7 45.2 30.1C49.7 28.5 56.1 28.4 62.1 28.2Z" fill="url(#f18g)"/><ellipse cx="43.3" cy="94.1" rx="5.6" ry="6.6" fill="#d7937c" fill-opacity="0.45" filter="url(#f18c)"/><ellipse cx="81.8" cy="94.1" rx="5.6" ry="6.6" fill="#d7937c" fill-opacity="0.45" filter="url(#f18c)"/><ellipse cx="46.1" cy="70.7" rx="7.9" ry="4.3" fill="#9a7462" fill-opacity="0.7"/><ellipse cx="46.1" cy="71.5" rx="4.7" ry="1.6" fill="#e9dcd6"/><ellipse cx="46.1" cy="71.5" rx="2.8" ry="2.1" fill="#5a7088"/><circle cx="46.1" cy="71.5" r="1.0" fill="#1c1412"/><path d="M40.5 71.9C41.0 71.5 42.7 69.9 44.0 69.5C45.4 69.1 47.2 69.3 48.4 69.6C49.7 70.0 51.2 71.3 51.7 71.7" fill="none" stroke="#3d2e27" stroke-width="1.4" stroke-linecap="round" stroke-opacity="0.85"/><path d="M40.9 74.3C41.8 74.5 44.4 75.7 46.1 75.6C47.8 75.6 50.4 74.4 51.3 74.1" fill="none" stroke="#8f6c5b" stroke-width="0.8" stroke-linecap="round" stroke-opacity="0.45"/><ellipse cx="79.0" cy="70.7" rx="7.9" ry="4.3" fill="#9a7462" fill-opacity="0.7"/><ellipse cx="79.0" cy="71.5" rx="4.7" ry="1.6" fill="#e9dcd6"/><ellipse cx="79.0" cy="71.5" rx="2.8" ry="2.1" fill="#5a7088"/><circle cx="79.0" cy="71.5" r="1.0" fill="#1c1412"/><path d="M73.4 71.9C74.0 71.5 75.6 69.9 77.0 69.5C78.3 69.1 80.1 69.3 81.4 69.6C82.7 70.0 84.1 71.3 84.7 71.7" fill="none" stroke="#3d2e27" stroke-width="1.4" stroke-linecap="round" stroke-opacity="0.85"/><path d="M73.8 74.3C74.7 74.5 77.3 75.7 79.0 75.6C80.7 75.6 83.3 74.4 84.2 74.1" fill="none" stroke="#8f6c5b" stroke-width="0.8" stroke-linecap="round" stroke-opacity="0.45"/><path d="M37.6 66.0C38.9 65.7 42.3 64.0 45.2 64.2C48.0 64.3 53.0 66.5 54.6 67.0" fill="none" stroke="#b0a498" stroke-width="2.3" stroke-linecap="round"/><path d="M71.5 66.0C72.9 65.7 77.0 64.0 80.0 64.2C82.9 64.3 87.8 66.5 89.4 67.0" fill="none" stroke="#b0a498" stroke-width="2.3" stroke-linecap="round"/><ellipse cx="62.1" cy="87.5" rx="3.4" ry="8.9" fill="#e6c1ae" fill-opacity="0.5"/><path d="M54.6 76.2C54.6 77.5 55.1 81.0 54.8 83.7C54.4 86.4 53.0 90.9 52.7 92.4" fill="none" stroke="#9a7462" stroke-width="3.2" stroke-linecap="round" stroke-opacity="0.22"/><path d="M52.7 91.4C52.9 92.0 53.1 94.0 54.1 94.6C55.1 95.3 57.5 95.1 58.8 95.4C60.1 95.7 61.0 96.5 62.1 96.5C63.2 96.5 64.0 95.7 65.4 95.4C66.7 95.1 69.1 95.3 70.1 94.6C71.1 94.0 71.3 92.0 71.5 91.4" fill="none" stroke="#795b4d" stroke-width="1.4" stroke-linecap="round" stroke-opacity="0.8"/><ellipse cx="57.9" cy="95.0" rx="1.6" ry="0.8" fill="#584238" fill-opacity="0.8"/><ellipse cx="66.3" cy="95.0" rx="1.6" ry="0.8" fill="#584238" fill-opacity="0.8"/><path d="M51.3 92.9C50.6 93.9 48.0 97.3 47.0 99.3C46.0 101.4 45.6 104.4 45.3 105.4" fill="none" stroke="#886756" stroke-width="1.9" stroke-linecap="round" stroke-opacity="0.30"/><path d="M72.9 92.9C73.6 93.9 75.8 97.3 77.1 99.3C78.4 101.4 80.1 104.4 80.7 105.4" fill="none" stroke="#886756" stroke-width="1.9" stroke-linecap="round" stroke-opacity="0.30"/><path d="M48.9 103.5C50.4 103.1 58.3 104.8 63.0 104.8C67.7 104.8 75.6 103.1 77.1 103.5C78.6 103.8 74.4 105.6 72.1 106.9C69.7 108.2 66.0 111.3 63.0 111.3C60.0 111.3 56.4 108.2 54.0 106.9C51.6 105.6 47.4 103.8 48.9 103.5Z" fill="#c98a80"/><path d="M50.0 104.2C51.5 104.0 58.7 105.4 63.0 105.4C67.4 105.4 74.6 104.0 76.0 104.2C77.4 104.4 73.7 105.9 71.5 106.5C69.3 107.2 65.9 108.2 63.0 108.2C60.2 108.2 56.7 107.2 54.6 106.5C52.4 105.9 48.6 104.4 50.0 104.2Z" fill="#5a2c2a"/><path d="M51.4 104.6C52.5 104.5 59.1 105.7 63.0 105.7C66.9 105.7 73.5 104.5 74.7 104.6C75.9 104.7 72.0 105.8 70.1 106.3C68.1 106.8 65.4 107.6 63.0 107.6C60.7 107.6 57.9 106.8 56.0 106.3C54.0 105.8 50.2 104.7 51.4 104.6Z" fill="#efe8de"/><path d="M48.2 102.9C49.5 103.1 53.5 103.6 56.0 103.9C58.5 104.1 60.7 104.2 63.0 104.2C65.4 104.2 67.6 104.1 70.1 103.9C72.6 103.6 76.6 103.1 77.9 102.9" fill="none" stroke="#b07970" stroke-width="1.4" stroke-linecap="round"/><ellipse cx="63.0" cy="114.3" rx="8.5" ry="1.3" fill="#a57d69" fill-opacity="0.35"/><path d="M24.5 65.9C23.4 62.7 21.6 54.4 21.6 48.9C21.6 43.4 22.9 37.6 24.5 32.9C26.0 28.2 28.4 24.3 31.0 20.7C33.7 17.1 36.8 14.0 40.5 11.3C44.1 8.6 48.4 6.0 52.7 4.7C56.9 3.4 61.3 3.1 65.9 3.8C70.4 4.4 75.6 6.4 80.0 8.5C84.4 10.5 88.3 13.3 92.2 16.0C96.1 18.7 100.5 20.9 103.5 24.5C106.5 28.1 108.7 32.9 110.1 37.6C111.5 42.3 112.1 48.0 111.9 52.7C111.8 57.4 110.5 62.7 109.1 65.9C107.7 69.0 105.0 72.4 103.5 71.5C101.9 70.6 100.8 64.6 99.7 60.2C98.6 55.8 98.3 49.4 96.9 45.2C95.5 40.9 93.9 37.5 91.3 34.8C88.6 32.1 84.8 29.9 80.9 29.2C77.0 28.4 71.8 30.3 67.7 30.1C63.7 29.9 60.2 28.4 56.4 28.2C52.7 28.1 48.6 28.1 45.2 29.2C41.7 30.3 37.9 32.1 35.7 34.8C33.6 37.5 32.9 41.2 32.0 45.2C31.0 49.1 30.7 54.6 30.1 58.3C29.5 62.1 29.2 66.5 28.2 67.7C27.3 69.0 25.6 69.0 24.5 65.9Z" fill="url(#f18h)" fill-opacity="1.00"/></g></svg></div><div class="badge" style="background:#ff9800"><svg width="32.5" height="32.5" viewBox="0 0 32.5 32.5"><rect x="10.8" y="15.25" width="10.1" height="1.85" fill="#fff"/></svg></div><div class="name">Reinhold <span class="ln">LOPATKA</span></div></div><div class="mem" style="left:473.6px"><div class="photo"><svg viewBox="0 0 127 127" width="127" height="127"><defs><filter id="f19b" x="-10%" y="-10%" width="120%" height="120%"><feGaussianBlur stdDeviation="0.85"/></filter><filter id="f19c" x="-30%" y="-30%" width="160%" height="160%"><feGaussianBlur stdDeviation="3"/></filter><radialGradient id="f19g" gradientUnits="userSpaceOnUse" cx="62.0" cy="71.0" r="61.8"><stop offset="0" stop-color="#e0ab9e"/><stop offset="0.6" stop-color="#dc9f90"/><stop offset="1" stop-color="#ab7c70"/></radialGradient><linearGradient id="f19h" x1="0" y1="0" x2="1" y2="1"><stop offset="0" stop-color="#615c59"/><stop offset="0.5" stop-color="#443e3a"/><stop offset="1" stop-color="#35302d"/></linearGradient></defs><rect width="127" height="127" fill="#edf0f8"/><g filter="url(#f19b)"><path d="M40.5 117.6 L90.3 117.6 L94.1 131.7 L37.6 131.7Z" fill="#a2756a"/><path d="M18.8 131.7C16.5 128.6 25.1 114.5 28.2 112.9C31.4 111.3 35.3 119.2 37.6 122.3C40.0 125.4 45.5 130.1 42.3 131.7C39.2 133.3 21.2 134.8 18.8 131.7Z" fill="#f2f2f6"/><path d="M17.4 65.9C18.4 62.1 25.7 63.0 27.8 67.7C29.8 72.4 30.7 90.3 29.6 94.1C28.6 97.8 23.7 95.0 21.6 90.3C19.6 85.6 16.4 69.6 17.4 65.9Z" fill="#ca9284"/><path d="M98.3 67.7C99.5 63.7 103.7 63.0 104.4 65.9C105.1 68.7 103.7 80.6 102.5 84.7C101.4 88.7 98.1 93.1 97.4 90.3C96.7 87.5 97.1 71.8 98.3 67.7Z" fill="#ca9284"/><clipPath id="f19k"><rect x="0" y="0" width="127" height="76.2"/></clipPath><path d="M65.9 29.2C71.0 28.8 75.9 28.4 80.0 30.1C84.0 31.8 87.8 35.1 90.3 39.5C92.8 43.9 93.6 50.8 95.0 56.4C96.4 62.1 98.0 67.9 98.8 73.4C99.6 78.9 100.0 84.4 99.7 89.4C99.4 94.4 98.5 99.1 96.9 103.5C95.3 107.9 93.1 112.1 90.3 115.7C87.5 119.3 84.0 122.9 80.0 125.1C75.9 127.3 70.4 128.7 65.9 128.9C61.3 129.0 56.8 127.9 52.7 126.1C48.6 124.2 44.5 121.0 41.4 117.6C38.3 114.1 35.9 110.1 33.9 105.4C31.8 100.7 30.1 94.7 29.2 89.4C28.2 84.0 27.8 78.9 28.2 73.4C28.7 67.9 30.6 61.5 32.0 56.4C33.4 51.4 33.9 47.4 36.7 43.3C39.5 39.2 44.1 34.3 48.9 32.0C53.8 29.6 60.7 29.5 65.9 29.2Z" fill="#dc9f90" stroke="#dc9f90" stroke-width="6" stroke-linejoin="round" clip-path="url(#f19k)"/><path d="M65.9 29.2C71.0 28.8 75.9 28.4 80.0 30.1C84.0 31.8 87.8 35.1 90.3 39.5C92.8 43.9 93.6 50.8 95.0 56.4C96.4 62.1 98.0 67.9 98.8 73.4C99.6 78.9 100.0 84.4 99.7 89.4C99.4 94.4 98.5 99.1 96.9 103.5C95.3 107.9 93.1 112.1 90.3 115.7C87.5 119.3 84.0 122.9 80.0 125.1C75.9 127.3 70.4 128.7 65.9 128.9C61.3 129.0 56.8 127.9 52.7 126.1C48.6 124.2 44.5 121.0 41.4 117.6C38.3 114.1 35.9 110.1 33.9 105.4C31.8 100.7 30.1 94.7 29.2 89.4C28.2 84.0 27.8 78.9 28.2 73.4C28.7 67.9 30.6 61.5 32.0 56.4C33.4 51.4 33.9 47.4 36.7 43.3C39.5 39.2 44.1 34.3 48.9 32.0C53.8 29.6 60.7 29.5 65.9 29.2Z" fill="url(#f19g)"/><ellipse cx="47.0" cy="91.3" rx="5.6" ry="6.6" fill="#d78e7f" fill-opacity="0.45" filter="url(#f19c)"/><ellipse cx="85.6" cy="91.3" rx="5.6" ry="6.6" fill="#d78e7f" fill-opacity="0.45" filter="url(#f19c)"/><path d="M29.2 84.7C29.0 87.8 30.1 98.0 32.0 103.5C33.9 109.0 37.0 113.8 40.5 117.6C43.9 121.4 48.4 124.1 52.7 126.1C56.9 128.0 61.3 129.4 65.9 129.4C70.4 129.3 75.9 127.8 80.0 125.6C84.0 123.4 87.4 119.9 90.3 116.2C93.2 112.5 95.8 108.0 97.4 103.5C99.0 99.0 99.8 92.5 99.9 89.4C100.0 86.2 98.8 83.9 97.8 84.7C96.9 85.5 96.3 92.2 94.1 94.1C91.9 96.0 87.5 95.9 84.7 96.0C81.8 96.0 80.3 94.9 77.1 94.5C74.0 94.2 69.6 93.8 65.9 93.9C62.1 93.9 58.0 94.3 54.6 94.8C51.1 95.3 48.0 97.0 45.2 96.9C42.3 96.8 39.7 96.1 37.6 94.1C35.6 92.0 34.3 86.2 32.9 84.7C31.5 83.1 29.3 81.5 29.2 84.7Z" fill="#5c5450" fill-opacity="0.93"/><path d="M52.7 115.7C54.7 113.4 61.5 112.9 65.9 112.9C70.2 112.9 77.0 113.5 79.0 115.7C81.1 117.9 80.3 123.7 78.1 126.1C75.9 128.4 69.9 129.7 65.9 129.8C61.8 129.9 55.8 128.9 53.6 126.5C51.4 124.2 50.6 118.0 52.7 115.7Z" fill="#8a8480" fill-opacity="0.70"/><ellipse cx="49.9" cy="71.7" rx="7.9" ry="4.3" fill="#9a6f64" fill-opacity="0.7"/><ellipse cx="49.9" cy="72.4" rx="4.7" ry="1.6" fill="#e9dcd6"/><ellipse cx="49.9" cy="72.4" rx="2.8" ry="2.1" fill="#3a2620"/><circle cx="49.9" cy="72.4" r="1.0" fill="#1c1412"/><path d="M44.2 72.8C44.8 72.4 46.5 70.8 47.8 70.5C49.1 70.1 50.9 70.2 52.2 70.6C53.5 70.9 55.0 72.3 55.5 72.6" fill="none" stroke="#3d2c28" stroke-width="1.4" stroke-linecap="round" stroke-opacity="0.85"/><path d="M44.7 75.3C45.5 75.5 48.1 76.6 49.9 76.6C51.6 76.5 54.2 75.3 55.0 75.1" fill="none" stroke="#8f675d" stroke-width="0.8" stroke-linecap="round" stroke-opacity="0.45"/><ellipse cx="82.8" cy="70.7" rx="7.9" ry="4.3" fill="#9a6f64" fill-opacity="0.7"/><ellipse cx="82.8" cy="71.5" rx="4.7" ry="1.6" fill="#e9dcd6"/><ellipse cx="82.8" cy="71.5" rx="2.8" ry="2.1" fill="#3a2620"/><circle cx="82.8" cy="71.5" r="1.0" fill="#1c1412"/><path d="M77.1 71.9C77.7 71.5 79.4 69.9 80.7 69.5C82.0 69.1 83.9 69.3 85.1 69.6C86.4 70.0 87.9 71.3 88.4 71.7" fill="none" stroke="#3d2c28" stroke-width="1.4" stroke-linecap="round" stroke-opacity="0.85"/><path d="M77.6 74.3C78.5 74.5 81.1 75.7 82.8 75.6C84.5 75.6 87.1 74.4 88.0 74.1" fill="none" stroke="#8f675d" stroke-width="0.8" stroke-linecap="round" stroke-opacity="0.45"/><path d="M40.5 66.0C41.9 65.7 45.9 64.0 48.9 64.2C51.9 64.3 56.8 66.5 58.3 67.0" fill="none" stroke="#4a3e38" stroke-width="2.4" stroke-linecap="round"/><path d="M75.3 66.0C76.7 65.6 80.7 63.4 83.7 63.2C86.7 63.1 91.6 64.8 93.1 65.1" fill="none" stroke="#4a3e38" stroke-width="2.4" stroke-linecap="round"/><ellipse cx="67.7" cy="84.7" rx="3.4" ry="8.9" fill="#e6bbb1" fill-opacity="0.5"/><path d="M60.2 73.4C60.2 74.6 60.7 78.2 60.4 80.9C60.1 83.6 58.7 88.1 58.3 89.6" fill="none" stroke="#9a6f64" stroke-width="3.2" stroke-linecap="round" stroke-opacity="0.22"/><path d="M58.3 88.6C58.6 89.2 58.7 91.2 59.7 91.8C60.8 92.5 63.1 92.3 64.4 92.6C65.8 92.9 66.6 93.7 67.7 93.7C68.8 93.7 69.7 92.9 71.0 92.6C72.4 92.3 74.7 92.5 75.7 91.8C76.7 91.2 76.9 89.2 77.1 88.6" fill="none" stroke="#79574f" stroke-width="1.4" stroke-linecap="round" stroke-opacity="0.8"/><ellipse cx="63.5" cy="92.2" rx="1.6" ry="0.8" fill="#583f39" fill-opacity="0.8"/><ellipse cx="72.0" cy="92.2" rx="1.6" ry="0.8" fill="#583f39" fill-opacity="0.8"/><path d="M56.9 90.0C56.2 91.2 53.8 94.9 52.7 97.2C51.5 99.5 50.5 102.8 50.0 104.0" fill="none" stroke="#886259" stroke-width="1.9" stroke-linecap="round" stroke-opacity="0.30"/><path d="M78.6 90.0C79.3 91.2 81.6 94.9 82.8 97.2C83.9 99.5 85.0 102.8 85.4 104.0" fill="none" stroke="#886259" stroke-width="1.9" stroke-linecap="round" stroke-opacity="0.30"/><path d="M53.6 102.1C54.4 101.2 61.6 100.8 64.0 100.8C66.3 100.7 66.5 101.5 67.7 101.5C69.0 101.5 69.1 100.7 71.5 100.8C73.8 100.8 81.1 101.2 81.8 102.1C82.6 102.9 78.6 104.9 76.2 105.8C73.8 106.7 70.6 107.5 67.7 107.5C64.9 107.5 61.6 106.7 59.3 105.8C56.9 104.9 52.8 102.9 53.6 102.1Z" fill="#d88088" fill-opacity="0.85"/><path d="M52.7 101.5C54.0 101.7 58.2 102.5 60.7 102.8C63.2 103.1 65.4 103.2 67.7 103.2C70.1 103.2 72.3 103.1 74.8 102.8C77.3 102.5 81.5 101.7 82.8 101.5" fill="none" stroke="#6c4044" stroke-width="1.1" stroke-linecap="round"/><ellipse cx="67.7" cy="112.9" rx="8.5" ry="1.3" fill="#a5776c" fill-opacity="0.35"/><path d="M28.2 75.3C26.8 73.1 22.4 66.8 20.7 62.1C19.0 57.4 17.7 52.1 17.9 47.0C18.0 42.0 19.6 36.5 21.6 32.0C23.7 27.4 26.7 23.4 30.1 19.8C33.6 16.1 37.9 12.9 42.3 10.3C46.7 7.8 51.6 5.5 56.4 4.7C61.3 3.9 67.1 4.2 71.5 5.6C75.9 7.1 79.6 10.7 82.8 13.2C85.9 15.7 87.5 18.8 90.3 20.7C93.1 22.6 97.1 22.0 99.7 24.5C102.4 27.0 104.9 31.7 106.3 35.7C107.7 39.8 108.5 44.5 108.2 48.9C107.9 53.3 105.8 58.3 104.4 62.1C103.0 65.9 100.8 69.3 99.7 71.5C98.6 73.7 98.6 77.1 97.8 75.3C97.1 73.4 95.8 65.2 95.0 60.2C94.2 55.2 94.4 49.2 93.1 45.2C91.9 41.1 90.0 38.3 87.5 35.7C85.0 33.2 81.7 31.2 78.1 30.1C74.5 29.0 70.1 29.0 65.9 29.2C61.6 29.3 56.6 29.8 52.7 31.0C48.8 32.3 45.0 34.3 42.3 36.7C39.7 39.0 38.1 41.9 36.7 45.2C35.3 48.4 34.8 52.7 33.9 56.4C32.9 60.2 31.8 64.6 31.0 67.7C30.3 70.9 29.6 74.0 29.2 75.3C28.7 76.5 29.6 77.5 28.2 75.3Z" fill="url(#f19h)" fill-opacity="1.00"/></g></svg></div><div class="badge" style="background:#9e9e9e"><svg width="32.5" height="32.5" viewBox="0 0 32.5 32.5"><text transform="translate(9.55,24.10) scale(0.2218,0.2151)" font-family="Liberation Sans, Arial, sans-serif" font-weight="700" font-size="100" fill="#fff">?</text></svg></div><div class="name">Lukas MANDL</div></div><div class="mem" style="left:624.8px"><div class="photo"><svg viewBox="0 0 127 127" width="127" height="127"><defs><filter id="f20b" x="-10%" y="-10%" width="120%" height="120%"><feGaussianBlur stdDeviation="0.85"/></filter><filter id="f20c" x="-30%" y="-30%" width="160%" height="160%"><feGaussianBlur stdDeviation="3"/></filter><radialGradient id="f20g" gradientUnits="userSpaceOnUse" cx="61.5" cy="69.6" r="62.4"><stop offset="0" stop-color="#ebc3a8"/><stop offset="0.6" stop-color="#e9bb9c"/><stop offset="1" stop-color="#b59179"/></radialGradient><linearGradient id="f20h" x1="0" y1="0" x2="1" y2="1"><stop offset="0" stop-color="#efdec0"/><stop offset="0.5" stop-color="#edd8b4"/><stop offset="1" stop-color="#b8a88c"/></linearGradient></defs><rect width="127" height="127" fill="#ffffff"/><g filter="url(#f20b)"><path d="M40.5 117.6 L87.5 117.6 L92.2 131.7 L37.6 131.7Z" fill="#ac8a73"/><clipPath id="f20k"><rect x="0" y="0" width="127" height="116.7"/></clipPath><path d="M80.0 27.3C83.3 28.1 86.5 33.7 89.4 37.6C92.2 41.5 94.9 46.1 96.9 50.8C98.9 55.5 100.7 60.5 101.6 65.9C102.5 71.2 103.0 77.3 102.5 82.8C102.1 88.3 100.5 93.9 98.8 98.8C97.1 103.6 94.9 108.0 92.2 111.9C89.5 115.9 86.5 119.6 82.8 122.3C79.0 125.0 74.0 127.2 69.6 127.9C65.2 128.7 60.7 128.1 56.4 127.0C52.2 125.9 48.0 124.0 44.2 121.4C40.5 118.7 36.7 115.1 33.9 111.0C31.0 106.9 28.8 101.8 27.3 96.9C25.7 92.0 24.6 86.7 24.5 81.8C24.3 77.0 25.2 72.0 26.3 67.7C27.4 63.5 28.4 59.7 31.0 56.4C33.7 53.2 38.1 50.5 42.3 48.0C46.6 45.5 51.9 43.9 56.4 41.4C61.0 38.9 65.7 35.3 69.6 32.9C73.5 30.6 76.7 26.5 80.0 27.3Z" fill="#e9bb9c" stroke="#e9bb9c" stroke-width="6" stroke-linejoin="round" clip-path="url(#f20k)"/><path d="M80.0 27.3C83.3 28.1 86.5 33.7 89.4 37.6C92.2 41.5 94.9 46.1 96.9 50.8C98.9 55.5 100.7 60.5 101.6 65.9C102.5 71.2 103.0 77.3 102.5 82.8C102.1 88.3 100.5 93.9 98.8 98.8C97.1 103.6 94.9 108.0 92.2 111.9C89.5 115.9 86.5 119.6 82.8 122.3C79.0 125.0 74.0 127.2 69.6 127.9C65.2 128.7 60.7 128.1 56.4 127.0C52.2 125.9 48.0 124.0 44.2 121.4C40.5 118.7 36.7 115.1 33.9 111.0C31.0 106.9 28.8 101.8 27.3 96.9C25.7 92.0 24.6 86.7 24.5 81.8C24.3 77.0 25.2 72.0 26.3 67.7C27.4 63.5 28.4 59.7 31.0 56.4C33.7 53.2 38.1 50.5 42.3 48.0C46.6 45.5 51.9 43.9 56.4 41.4C61.0 38.9 65.7 35.3 69.6 32.9C73.5 30.6 76.7 26.5 80.0 27.3Z" fill="url(#f20g)"/><ellipse cx="41.4" cy="85.6" rx="5.6" ry="6.6" fill="#e0a087" fill-opacity="0.45" filter="url(#f20c)"/><ellipse cx="80.9" cy="85.6" rx="5.6" ry="6.6" fill="#e0a087" fill-opacity="0.45" filter="url(#f20c)"/><ellipse cx="44.2" cy="61.3" rx="7.9" ry="4.3" fill="#a3826d" fill-opacity="0.7"/><ellipse cx="44.2" cy="62.1" rx="4.7" ry="1.6" fill="#e9dcd6"/><ellipse cx="44.2" cy="62.1" rx="2.8" ry="2.1" fill="#5a6038"/><circle cx="44.2" cy="62.1" r="1.0" fill="#1c1412"/><path d="M38.6 62.5C39.2 62.1 40.8 60.5 42.1 60.1C43.5 59.7 45.3 59.8 46.6 60.2C47.9 60.6 49.3 61.9 49.9 62.3" fill="none" stroke="#41342b" stroke-width="1.4" stroke-linecap="round" stroke-opacity="0.85"/><path d="M39.0 64.9C39.9 65.1 42.5 66.3 44.2 66.2C45.9 66.2 48.5 65.0 49.4 64.7" fill="none" stroke="#977965" stroke-width="0.8" stroke-linecap="round" stroke-opacity="0.45"/><ellipse cx="78.1" cy="63.2" rx="7.9" ry="4.3" fill="#a3826d" fill-opacity="0.7"/><ellipse cx="78.1" cy="64.0" rx="4.7" ry="1.6" fill="#e9dcd6"/><ellipse cx="78.1" cy="64.0" rx="2.8" ry="2.1" fill="#5a6038"/><circle cx="78.1" cy="64.0" r="1.0" fill="#1c1412"/><path d="M72.4 64.3C73.0 64.0 74.7 62.4 76.0 62.0C77.3 61.6 79.1 61.7 80.4 62.1C81.7 62.4 83.2 63.8 83.7 64.2" fill="none" stroke="#41342b" stroke-width="1.4" stroke-linecap="round" stroke-opacity="0.85"/><path d="M72.9 66.8C73.8 67.0 76.4 68.1 78.1 68.1C79.8 68.1 82.4 66.9 83.3 66.6" fill="none" stroke="#977965" stroke-width="0.8" stroke-linecap="round" stroke-opacity="0.45"/><path d="M33.9 55.7C35.6 55.2 40.8 52.7 44.2 52.9C47.7 53.0 52.8 56.0 54.6 56.6" fill="none" stroke="#b89870" stroke-width="2.3" stroke-linecap="round"/><path d="M68.7 56.6C70.6 56.3 76.4 54.4 80.0 54.8C83.6 55.1 88.6 57.9 90.3 58.5" fill="none" stroke="#b89870" stroke-width="2.3" stroke-linecap="round"/><ellipse cx="58.3" cy="79.0" rx="3.2" ry="8.9" fill="#efcfb9" fill-opacity="0.5"/><path d="M51.2 67.7C51.2 69.0 51.7 72.6 51.4 75.3C51.1 78.0 49.7 82.5 49.4 83.9" fill="none" stroke="#a3826d" stroke-width="3.2" stroke-linecap="round" stroke-opacity="0.22"/><path d="M49.4 83.0C49.6 83.5 49.8 85.5 50.7 86.2C51.7 86.8 53.9 86.6 55.2 86.9C56.5 87.2 57.3 88.1 58.3 88.1C59.4 88.1 60.2 87.2 61.5 86.9C62.7 86.6 65.0 86.8 65.9 86.2C66.9 85.5 67.0 83.5 67.3 83.0" fill="none" stroke="#806655" stroke-width="1.4" stroke-linecap="round" stroke-opacity="0.8"/><ellipse cx="54.3" cy="86.5" rx="1.6" ry="0.8" fill="#5d4a3e" fill-opacity="0.8"/><ellipse cx="62.3" cy="86.5" rx="1.6" ry="0.8" fill="#5d4a3e" fill-opacity="0.8"/><path d="M48.0 84.4C47.3 85.6 45.4 89.4 43.8 91.8C42.3 94.2 39.6 97.6 38.8 98.8" fill="none" stroke="#907360" stroke-width="1.9" stroke-linecap="round" stroke-opacity="0.30"/><path d="M68.6 84.4C69.3 85.6 71.1 89.4 72.8 91.8C74.5 94.2 77.8 97.6 78.8 98.8" fill="none" stroke="#907360" stroke-width="1.9" stroke-linecap="round" stroke-opacity="0.30"/><path d="M42.3 96.9C44.1 96.3 53.3 98.2 58.8 98.2C64.3 98.2 73.5 96.3 75.3 96.9C77.0 97.5 72.1 100.2 69.3 101.8C66.6 103.4 62.3 106.3 58.8 106.3C55.3 106.3 51.0 103.4 48.3 101.8C45.5 100.2 40.6 97.5 42.3 96.9Z" fill="#e0a0a8"/><path d="M43.5 97.6C45.1 97.2 53.7 98.8 58.8 98.8C63.9 98.8 72.5 97.2 74.1 97.6C75.8 98.1 71.2 100.4 68.7 101.3C66.1 102.2 62.1 103.2 58.8 103.2C55.5 103.2 51.5 102.2 48.9 101.3C46.4 100.4 41.8 98.1 43.5 97.6Z" fill="#5a2c2a"/><path d="M44.8 98.0C46.2 97.7 54.1 99.2 58.8 99.2C63.5 99.2 71.4 97.7 72.8 98.0C74.2 98.3 69.4 100.3 67.0 101.0C64.7 101.8 61.5 102.6 58.8 102.6C56.1 102.6 52.9 101.8 50.6 101.0C48.2 100.3 43.4 98.3 44.8 98.0Z" fill="#dccba4"/><path d="M41.6 96.3C43.1 96.5 47.7 97.1 50.6 97.3C53.4 97.5 56.1 97.6 58.8 97.6C61.5 97.6 64.2 97.5 67.0 97.3C69.9 97.1 74.5 96.5 76.0 96.3" fill="none" stroke="#c58c93" stroke-width="1.4" stroke-linecap="round"/><ellipse cx="58.8" cy="107.7" rx="9.9" ry="1.3" fill="#ae8c75" fill-opacity="0.35"/><path d="M32.9 131.7C30.6 129.8 26.7 124.3 23.5 120.4C20.4 116.5 16.5 112.6 14.1 108.2C11.8 103.8 9.7 99.6 9.4 94.1C9.1 88.6 11.1 81.5 12.2 75.3C13.3 69.0 14.4 62.4 16.0 56.4C17.6 50.5 19.3 44.7 21.6 39.5C24.0 34.3 26.8 29.8 30.1 25.4C33.4 21.0 37.0 16.5 41.4 13.2C45.8 9.9 51.1 7.2 56.4 5.6C61.8 4.1 68.4 3.1 73.4 3.8C78.4 4.4 82.5 6.6 86.5 9.4C90.6 12.2 94.7 16.3 97.8 20.7C101.0 25.1 103.2 30.4 105.4 35.7C107.6 41.1 109.3 46.7 111.0 52.7C112.7 58.6 114.6 65.4 115.7 71.5C116.8 77.6 118.1 84.0 117.6 89.4C117.1 94.7 115.2 98.8 112.9 103.5C110.5 108.2 106.6 112.9 103.5 117.6C100.3 122.3 95.6 132.5 94.1 131.7C92.5 130.9 93.3 118.4 94.1 112.9C94.9 107.4 97.4 103.8 98.8 98.8C100.2 93.8 102.1 88.3 102.5 82.8C103.0 77.3 102.7 71.5 101.6 65.9C100.5 60.2 98.2 53.9 96.0 48.9C93.8 43.9 90.9 39.5 88.4 35.7C85.9 32.0 83.7 27.1 80.9 26.3C78.1 25.6 74.9 28.8 71.5 31.0C68.0 33.2 64.0 37.2 60.2 39.5C56.4 41.9 52.7 43.3 48.9 45.2C45.2 47.0 40.8 48.6 37.6 50.8C34.5 53.0 32.0 54.9 30.1 58.3C28.2 61.8 27.3 67.1 26.3 71.5C25.4 75.9 24.5 80.1 24.5 84.7C24.5 89.2 25.2 94.1 26.3 98.8C27.4 103.5 29.2 107.4 31.0 112.9C32.9 118.4 37.3 128.6 37.6 131.7C37.9 134.8 35.3 133.6 32.9 131.7Z" fill="url(#f20h)" fill-opacity="1.00"/></g></svg></div><div class="badge" style="background:#ff9800"><svg width="32.5" height="32.5" viewBox="0 0 32.5 32.5"><rect x="10.8" y="15.25" width="10.1" height="1.85" fill="#fff"/></svg></div><div class="name">Angelika <span class="ln">WINZIG</span></div></div></div>
<div class="cc"><svg width="212" height="74" viewBox="0 0 212 74" style="display:block"><defs><clipPath id="ccclip"><rect x="1.8" y="1.8" width="208.4" height="72.2"/></clipPath></defs><rect x="0" y="0" width="212" height="74" fill="#000"/><path d="M4 1.8 H208 Q210.2 1.8 210.2 4 V52 H1.8 V4 Q1.8 1.8 4 1.8 Z" fill="#abb1aa"/><circle cx="36.7" cy="34" r="33.6" fill="#abb1aa" clip-path="url(#ccclip)"/><circle cx="36.7" cy="34" r="24.8" fill="#fff" stroke="#000" stroke-width="5"/><text transform="translate(20.22,42.48) scale(0.2954,0.3178)" font-family="Liberation Sans, Arial, sans-serif" font-weight="700" font-size="100" fill="#000">c</text><text transform="translate(37.02,42.48) scale(0.2954,0.3178)" font-family="Liberation Sans, Arial, sans-serif" font-weight="700" font-size="100" fill="#000">c</text><circle cx="112" cy="26" r="18.3" fill="#fff" stroke="#000" stroke-width="3.4"/><circle cx="162" cy="26" r="18.3" fill="#fff" stroke="#000" stroke-width="3.4"/><circle cx="112" cy="15.8" r="3" fill="#000"/><path d="M106.7 20.5 H117.3 V29.4 H115.1 V39 H108.9 V29.4 H106.7 Z" fill="#000"/><rect x="154.6" y="21.6" width="15.4" height="3.2" fill="#000"/><rect x="154.6" y="28.6" width="15.4" height="3.2" fill="#000"/><g font-family="Liberation Sans, Arial, sans-serif" font-weight="700" font-size="15" fill="#fff"><text x="100" y="68.8" textLength="20.8" lengthAdjust="spacingAndGlyphs">BY</text><text x="148.6" y="68.8" textLength="23.4" lengthAdjust="spacingAndGlyphs">ND</text></g></svg></div>
<div class="qr"><svg width="212" height="212" viewBox="0 0 212 212" style="display:block" shape-rendering="crispEdges"><path d="M26.0 26.0h44.8v6.4h-44.8zM77.2 26.0h6.4v6.4h-6.4zM90.0 26.0h19.2v6.4h-19.2zM115.6 26.0h12.8v6.4h-12.8zM141.2 26.0h44.8v6.4h-44.8zM26.0 32.4h6.4v6.4h-6.4zM64.4 32.4h6.4v6.4h-6.4zM77.2 32.4h19.2v6.4h-19.2zM102.8 32.4h6.4v6.4h-6.4zM128.4 32.4h6.4v6.4h-6.4zM141.2 32.4h6.4v6.4h-6.4zM179.6 32.4h6.4v6.4h-6.4zM26.0 38.8h6.4v6.4h-6.4zM38.8 38.8h19.2v6.4h-19.2zM64.4 38.8h6.4v6.4h-6.4zM77.2 38.8h19.2v6.4h-19.2zM115.6 38.8h12.8v6.4h-12.8zM141.2 38.8h6.4v6.4h-6.4zM154.0 38.8h19.2v6.4h-19.2zM179.6 38.8h6.4v6.4h-6.4zM26.0 45.2h6.4v6.4h-6.4zM38.8 45.2h19.2v6.4h-19.2zM64.4 45.2h6.4v6.4h-6.4zM77.2 45.2h6.4v6.4h-6.4zM90.0 45.2h25.6v6.4h-25.6zM122.0 45.2h6.4v6.4h-6.4zM141.2 45.2h6.4v6.4h-6.4zM154.0 45.2h19.2v6.4h-19.2zM179.6 45.2h6.4v6.4h-6.4zM26.0 51.6h6.4v6.4h-6.4zM38.8 51.6h19.2v6.4h-19.2zM64.4 51.6h6.4v6.4h-6.4zM83.6 51.6h32.0v6.4h-32.0zM122.0 51.6h12.8v6.4h-12.8zM141.2 51.6h6.4v6.4h-6.4zM154.0 51.6h19.2v6.4h-19.2zM179.6 51.6h6.4v6.4h-6.4zM26.0 58.0h6.4v6.4h-6.4zM64.4 58.0h6.4v6.4h-6.4zM77.2 58.0h6.4v6.4h-6.4zM109.2 58.0h12.8v6.4h-12.8zM128.4 58.0h6.4v6.4h-6.4zM141.2 58.0h6.4v6.4h-6.4zM179.6 58.0h6.4v6.4h-6.4zM26.0 64.4h44.8v6.4h-44.8zM77.2 64.4h6.4v6.4h-6.4zM90.0 64.4h6.4v6.4h-6.4zM102.8 64.4h6.4v6.4h-6.4zM115.6 64.4h6.4v6.4h-6.4zM128.4 64.4h6.4v6.4h-6.4zM141.2 64.4h44.8v6.4h-44.8zM83.6 70.8h6.4v6.4h-6.4zM102.8 70.8h6.4v6.4h-6.4zM115.6 70.8h12.8v6.4h-12.8zM26.0 77.2h12.8v6.4h-12.8zM51.6 77.2h19.2v6.4h-19.2zM83.6 77.2h6.4v6.4h-6.4zM96.4 77.2h12.8v6.4h-12.8zM115.6 77.2h6.4v6.4h-6.4zM147.6 77.2h6.4v6.4h-6.4zM160.4 77.2h25.6v6.4h-25.6zM38.8 83.6h6.4v6.4h-6.4zM70.8 83.6h19.2v6.4h-19.2zM96.4 83.6h19.2v6.4h-19.2zM122.0 83.6h19.2v6.4h-19.2zM154.0 83.6h12.8v6.4h-12.8zM173.2 83.6h6.4v6.4h-6.4zM26.0 90.0h19.2v6.4h-19.2zM51.6 90.0h32.0v6.4h-32.0zM96.4 90.0h6.4v6.4h-6.4zM122.0 90.0h12.8v6.4h-12.8zM147.6 90.0h25.6v6.4h-25.6zM26.0 96.4h38.4v6.4h-38.4zM83.6 96.4h6.4v6.4h-6.4zM96.4 96.4h12.8v6.4h-12.8zM134.8 96.4h6.4v6.4h-6.4zM147.6 96.4h12.8v6.4h-12.8zM166.8 96.4h12.8v6.4h-12.8zM26.0 102.8h12.8v6.4h-12.8zM45.2 102.8h32.0v6.4h-32.0zM122.0 102.8h6.4v6.4h-6.4zM134.8 102.8h19.2v6.4h-19.2zM160.4 102.8h25.6v6.4h-25.6zM26.0 109.2h6.4v6.4h-6.4zM38.8 109.2h6.4v6.4h-6.4zM58.0 109.2h6.4v6.4h-6.4zM83.6 109.2h6.4v6.4h-6.4zM96.4 109.2h6.4v6.4h-6.4zM109.2 109.2h6.4v6.4h-6.4zM122.0 109.2h6.4v6.4h-6.4zM154.0 109.2h6.4v6.4h-6.4zM173.2 109.2h6.4v6.4h-6.4zM38.8 115.6h12.8v6.4h-12.8zM64.4 115.6h6.4v6.4h-6.4zM83.6 115.6h6.4v6.4h-6.4zM96.4 115.6h12.8v6.4h-12.8zM115.6 115.6h19.2v6.4h-19.2zM154.0 115.6h19.2v6.4h-19.2zM58.0 122.0h6.4v6.4h-6.4zM77.2 122.0h6.4v6.4h-6.4zM96.4 122.0h6.4v6.4h-6.4zM122.0 122.0h12.8v6.4h-12.8zM147.6 122.0h6.4v6.4h-6.4zM160.4 122.0h19.2v6.4h-19.2zM26.0 128.4h12.8v6.4h-12.8zM45.2 128.4h12.8v6.4h-12.8zM64.4 128.4h6.4v6.4h-6.4zM77.2 128.4h12.8v6.4h-12.8zM102.8 128.4h6.4v6.4h-6.4zM128.4 128.4h44.8v6.4h-44.8zM77.2 134.8h25.6v6.4h-25.6zM109.2 134.8h25.6v6.4h-25.6zM154.0 134.8h6.4v6.4h-6.4zM166.8 134.8h6.4v6.4h-6.4zM26.0 141.2h44.8v6.4h-44.8zM96.4 141.2h12.8v6.4h-12.8zM115.6 141.2h6.4v6.4h-6.4zM128.4 141.2h6.4v6.4h-6.4zM141.2 141.2h6.4v6.4h-6.4zM154.0 141.2h12.8v6.4h-12.8zM26.0 147.6h6.4v6.4h-6.4zM64.4 147.6h6.4v6.4h-6.4zM77.2 147.6h12.8v6.4h-12.8zM102.8 147.6h6.4v6.4h-6.4zM115.6 147.6h6.4v6.4h-6.4zM128.4 147.6h6.4v6.4h-6.4zM154.0 147.6h25.6v6.4h-25.6zM26.0 154.0h6.4v6.4h-6.4zM38.8 154.0h19.2v6.4h-19.2zM64.4 154.0h6.4v6.4h-6.4zM77.2 154.0h12.8v6.4h-12.8zM96.4 154.0h12.8v6.4h-12.8zM128.4 154.0h32.0v6.4h-32.0zM166.8 154.0h6.4v6.4h-6.4zM179.6 154.0h6.4v6.4h-6.4zM26.0 160.4h6.4v6.4h-6.4zM38.8 160.4h19.2v6.4h-19.2zM64.4 160.4h6.4v6.4h-6.4zM83.6 160.4h32.0v6.4h-32.0zM122.0 160.4h6.4v6.4h-6.4zM134.8 160.4h12.8v6.4h-12.8zM160.4 160.4h12.8v6.4h-12.8zM26.0 166.8h6.4v6.4h-6.4zM38.8 166.8h19.2v6.4h-19.2zM64.4 166.8h6.4v6.4h-6.4zM90.0 166.8h25.6v6.4h-25.6zM122.0 166.8h32.0v6.4h-32.0zM173.2 166.8h6.4v6.4h-6.4zM26.0 173.2h6.4v6.4h-6.4zM64.4 173.2h6.4v6.4h-6.4zM77.2 173.2h32.0v6.4h-32.0zM122.0 173.2h6.4v6.4h-6.4zM141.2 173.2h38.4v6.4h-38.4zM26.0 179.6h44.8v6.4h-44.8zM77.2 179.6h6.4v6.4h-6.4zM90.0 179.6h19.2v6.4h-19.2zM122.0 179.6h6.4v6.4h-6.4zM134.8 179.6h12.8v6.4h-12.8zM166.8 179.6h19.2v6.4h-19.2z" fill="#fff"/></svg></div>
</body>
</html>
